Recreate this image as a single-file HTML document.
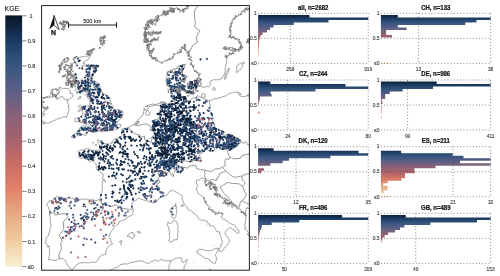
<!DOCTYPE html><html><head><meta charset="utf-8"><style>html,body{margin:0;padding:0;background:#fff;width:500px;height:276px;overflow:hidden}svg{display:block;will-change:transform}</style></head><body>
<svg width="500" height="276" viewBox="0 0 500 276" font-family="Liberation Sans, sans-serif">
<defs>
<linearGradient id="cb" x1="0" y1="15.6" x2="0" y2="266.6" gradientUnits="userSpaceOnUse"><stop offset="0.000" stop-color="#0b1627"/><stop offset="0.050" stop-color="#112744"/><stop offset="0.100" stop-color="#1a3a60"/><stop offset="0.150" stop-color="#284a73"/><stop offset="0.200" stop-color="#38567f"/><stop offset="0.300" stop-color="#5c5f86"/><stop offset="0.400" stop-color="#8a6178"/><stop offset="0.500" stop-color="#a8626e"/><stop offset="0.600" stop-color="#cc6e64"/><stop offset="0.700" stop-color="#e2856a"/><stop offset="0.800" stop-color="#e8ad86"/><stop offset="0.900" stop-color="#f0cd9e"/><stop offset="1.000" stop-color="#f9efd3"/></linearGradient>
<linearGradient id="h0" x1="0" y1="13.30" x2="0" y2="63.40" gradientUnits="userSpaceOnUse"><stop offset="0.000" stop-color="#0b1627"/><stop offset="0.050" stop-color="#112744"/><stop offset="0.100" stop-color="#1a3a60"/><stop offset="0.150" stop-color="#284a73"/><stop offset="0.200" stop-color="#38567f"/><stop offset="0.300" stop-color="#5c5f86"/><stop offset="0.400" stop-color="#8a6178"/><stop offset="0.500" stop-color="#a8626e"/><stop offset="0.600" stop-color="#cc6e64"/><stop offset="0.700" stop-color="#e2856a"/><stop offset="0.800" stop-color="#e8ad86"/><stop offset="0.900" stop-color="#f0cd9e"/><stop offset="1.000" stop-color="#f9efd3"/></linearGradient>
<linearGradient id="h1" x1="0" y1="79.97" x2="0" y2="130.07" gradientUnits="userSpaceOnUse"><stop offset="0.000" stop-color="#0b1627"/><stop offset="0.050" stop-color="#112744"/><stop offset="0.100" stop-color="#1a3a60"/><stop offset="0.150" stop-color="#284a73"/><stop offset="0.200" stop-color="#38567f"/><stop offset="0.300" stop-color="#5c5f86"/><stop offset="0.400" stop-color="#8a6178"/><stop offset="0.500" stop-color="#a8626e"/><stop offset="0.600" stop-color="#cc6e64"/><stop offset="0.700" stop-color="#e2856a"/><stop offset="0.800" stop-color="#e8ad86"/><stop offset="0.900" stop-color="#f0cd9e"/><stop offset="1.000" stop-color="#f9efd3"/></linearGradient>
<linearGradient id="h2" x1="0" y1="146.64" x2="0" y2="196.74" gradientUnits="userSpaceOnUse"><stop offset="0.000" stop-color="#0b1627"/><stop offset="0.050" stop-color="#112744"/><stop offset="0.100" stop-color="#1a3a60"/><stop offset="0.150" stop-color="#284a73"/><stop offset="0.200" stop-color="#38567f"/><stop offset="0.300" stop-color="#5c5f86"/><stop offset="0.400" stop-color="#8a6178"/><stop offset="0.500" stop-color="#a8626e"/><stop offset="0.600" stop-color="#cc6e64"/><stop offset="0.700" stop-color="#e2856a"/><stop offset="0.800" stop-color="#e8ad86"/><stop offset="0.900" stop-color="#f0cd9e"/><stop offset="1.000" stop-color="#f9efd3"/></linearGradient>
<linearGradient id="h3" x1="0" y1="213.31" x2="0" y2="263.41" gradientUnits="userSpaceOnUse"><stop offset="0.000" stop-color="#0b1627"/><stop offset="0.050" stop-color="#112744"/><stop offset="0.100" stop-color="#1a3a60"/><stop offset="0.150" stop-color="#284a73"/><stop offset="0.200" stop-color="#38567f"/><stop offset="0.300" stop-color="#5c5f86"/><stop offset="0.400" stop-color="#8a6178"/><stop offset="0.500" stop-color="#a8626e"/><stop offset="0.600" stop-color="#cc6e64"/><stop offset="0.700" stop-color="#e2856a"/><stop offset="0.800" stop-color="#e8ad86"/><stop offset="0.900" stop-color="#f0cd9e"/><stop offset="1.000" stop-color="#f9efd3"/></linearGradient>
</defs>
<text transform="translate(4.60 11.35) scale(1 1.130)" font-size="7.00" fill="#1a1a1a" stroke="#1a1a1a" stroke-width="0.12">KGE</text>
<rect x="5.3" y="15.4" width="16.8" height="251.4" fill="url(#cb)"/>
<line x1="22.1" y1="15.80" x2="26.6" y2="15.80" stroke="#333" stroke-width="0.6"/>
<text transform="translate(29.50 17.80) scale(1 1.080)" font-size="5.50" fill="#333" stroke="#333" stroke-width="0.12">1</text>
<line x1="22.1" y1="40.88" x2="26.6" y2="40.88" stroke="#333" stroke-width="0.6"/>
<text transform="translate(27.70 42.88) scale(1 1.080)" font-size="5.50" fill="#333" stroke="#333" stroke-width="0.12">0.9</text>
<line x1="22.1" y1="65.96" x2="26.6" y2="65.96" stroke="#333" stroke-width="0.6"/>
<text transform="translate(27.70 67.96) scale(1 1.080)" font-size="5.50" fill="#333" stroke="#333" stroke-width="0.12">0.8</text>
<line x1="22.1" y1="91.04" x2="26.6" y2="91.04" stroke="#333" stroke-width="0.6"/>
<text transform="translate(27.70 93.04) scale(1 1.080)" font-size="5.50" fill="#333" stroke="#333" stroke-width="0.12">0.7</text>
<line x1="22.1" y1="116.12" x2="26.6" y2="116.12" stroke="#333" stroke-width="0.6"/>
<text transform="translate(27.70 118.12) scale(1 1.080)" font-size="5.50" fill="#333" stroke="#333" stroke-width="0.12">0.6</text>
<line x1="22.1" y1="141.20" x2="26.6" y2="141.20" stroke="#333" stroke-width="0.6"/>
<text transform="translate(27.70 143.20) scale(1 1.080)" font-size="5.50" fill="#333" stroke="#333" stroke-width="0.12">0.5</text>
<line x1="22.1" y1="166.28" x2="26.6" y2="166.28" stroke="#333" stroke-width="0.6"/>
<text transform="translate(27.70 168.28) scale(1 1.080)" font-size="5.50" fill="#333" stroke="#333" stroke-width="0.12">0.4</text>
<line x1="22.1" y1="191.36" x2="26.6" y2="191.36" stroke="#333" stroke-width="0.6"/>
<text transform="translate(27.70 193.36) scale(1 1.080)" font-size="5.50" fill="#333" stroke="#333" stroke-width="0.12">0.3</text>
<line x1="22.1" y1="216.44" x2="26.6" y2="216.44" stroke="#333" stroke-width="0.6"/>
<text transform="translate(27.70 218.44) scale(1 1.080)" font-size="5.50" fill="#333" stroke="#333" stroke-width="0.12">0.2</text>
<line x1="22.1" y1="241.52" x2="26.6" y2="241.52" stroke="#333" stroke-width="0.6"/>
<text transform="translate(27.70 243.52) scale(1 1.080)" font-size="5.50" fill="#333" stroke="#333" stroke-width="0.12">0.1</text>
<line x1="22.1" y1="266.60" x2="26.6" y2="266.60" stroke="#333" stroke-width="0.6"/>
<text transform="translate(27.70 268.60) scale(1 1.080)" font-size="5.50" fill="#333" stroke="#333" stroke-width="0.12">≤0</text>
<text transform="translate(313.15 9.80) scale(1 1.180)" font-size="6.00" text-anchor="middle" font-weight="bold" fill="#111" stroke="#111" stroke-width="0.20">all, n=2682</text>
<path d="M258.10 14.90H309.50V17.40H368.20V19.90H328.50V22.40H293.70V24.90H273.60V27.40H270.10V29.90H267.00V32.40H262.50V34.90H260.60V37.40H259.60V39.90H259.20V42.40H259.00V44.90H258.90V47.40H258.80V49.90H258.70V52.40H258.60V54.90H258.50V57.40H258.50V59.90H258.50V62.40H258.10Z" fill="url(#h0)"/>
<rect x="258.10" y="62.90" width="0.50" height="1" fill="#f3dcae"/>
<line x1="258.10" y1="13.30" x2="368.20" y2="13.30" stroke="#444" stroke-width="0.7" stroke-dasharray="0.9 2.27"/>
<line x1="258.10" y1="38.35" x2="368.20" y2="38.35" stroke="#444" stroke-width="0.7" stroke-dasharray="0.9 2.27"/>
<line x1="258.10" y1="63.40" x2="368.20" y2="63.40" stroke="#444" stroke-width="0.7" stroke-dasharray="0.9 2.27"/>
<line x1="290.30" y1="13.30" x2="290.30" y2="63.40" stroke="#444" stroke-width="0.7" stroke-dasharray="0.9 2.27"/>
<line x1="368.20" y1="13.30" x2="368.20" y2="63.40" stroke="#444" stroke-width="0.7" stroke-dasharray="0.9 2.27"/>
<text transform="translate(256.70 15.10) scale(1 1.100)" font-size="4.90" text-anchor="end" fill="#333" stroke="#333" stroke-width="0.10">1</text>
<text transform="translate(256.70 40.15) scale(1 1.100)" font-size="4.90" text-anchor="end" fill="#333" stroke="#333" stroke-width="0.10">0.5</text>
<text transform="translate(256.70 65.20) scale(1 1.100)" font-size="4.90" text-anchor="end" fill="#333" stroke="#333" stroke-width="0.10">≤0</text>
<text transform="translate(290.30 70.90) scale(1 1.100)" font-size="4.80" text-anchor="middle" fill="#333" stroke="#333" stroke-width="0.10">268</text>
<text transform="translate(368.20 70.90) scale(1 1.100)" font-size="4.80" text-anchor="middle" fill="#333" stroke="#333" stroke-width="0.10">919</text>
<text transform="translate(435.75 9.80) scale(1 1.180)" font-size="6.00" text-anchor="middle" font-weight="bold" fill="#111" stroke="#111" stroke-width="0.20">CH, n=133</text>
<path d="M380.90 14.90H397.80V17.40H490.60V19.90H476.50V22.40H465.30V24.90H397.80V27.40H406.60V29.90H386.10V32.40H386.10V34.90H392.00V37.40H380.90Z" fill="url(#h0)"/>
<rect x="380.90" y="62.90" width="9.60" height="1" fill="#f3dcae"/>
<line x1="380.90" y1="13.30" x2="490.60" y2="13.30" stroke="#444" stroke-width="0.7" stroke-dasharray="0.9 2.27"/>
<line x1="380.90" y1="38.35" x2="490.60" y2="38.35" stroke="#444" stroke-width="0.7" stroke-dasharray="0.9 2.27"/>
<line x1="380.90" y1="63.40" x2="490.60" y2="63.40" stroke="#444" stroke-width="0.7" stroke-dasharray="0.9 2.27"/>
<line x1="418.40" y1="13.30" x2="418.40" y2="63.40" stroke="#444" stroke-width="0.7" stroke-dasharray="0.9 2.27"/>
<line x1="490.60" y1="13.30" x2="490.60" y2="63.40" stroke="#444" stroke-width="0.7" stroke-dasharray="0.9 2.27"/>
<text transform="translate(379.50 15.10) scale(1 1.100)" font-size="4.90" text-anchor="end" fill="#333" stroke="#333" stroke-width="0.10">1</text>
<text transform="translate(379.50 40.15) scale(1 1.100)" font-size="4.90" text-anchor="end" fill="#333" stroke="#333" stroke-width="0.10">0.5</text>
<text transform="translate(379.50 65.20) scale(1 1.100)" font-size="4.90" text-anchor="end" fill="#333" stroke="#333" stroke-width="0.10">≤0</text>
<text transform="translate(418.40 70.90) scale(1 1.100)" font-size="4.80" text-anchor="middle" fill="#333" stroke="#333" stroke-width="0.10">13</text>
<text transform="translate(490.60 70.90) scale(1 1.100)" font-size="4.80" text-anchor="middle" fill="#333" stroke="#333" stroke-width="0.10">38</text>
<text transform="translate(313.15 76.47) scale(1 1.180)" font-size="6.00" text-anchor="middle" font-weight="bold" fill="#111" stroke="#111" stroke-width="0.20">CZ, n=244</text>
<path d="M258.10 81.57H270.30V84.07H345.50V86.57H368.20V89.07H315.50V91.57H270.60V94.07H271.60V96.57H259.90V99.07H259.60V101.57H258.90V104.07H258.10ZM258.10 111.57H259.50V114.07H258.10Z" fill="url(#h1)"/>
<line x1="258.10" y1="79.97" x2="368.20" y2="79.97" stroke="#444" stroke-width="0.7" stroke-dasharray="0.9 2.27"/>
<line x1="258.10" y1="105.02" x2="368.20" y2="105.02" stroke="#444" stroke-width="0.7" stroke-dasharray="0.9 2.27"/>
<line x1="258.10" y1="130.07" x2="368.20" y2="130.07" stroke="#444" stroke-width="0.7" stroke-dasharray="0.9 2.27"/>
<line x1="287.80" y1="79.97" x2="287.80" y2="130.07" stroke="#444" stroke-width="0.7" stroke-dasharray="0.9 2.27"/>
<line x1="368.20" y1="79.97" x2="368.20" y2="130.07" stroke="#444" stroke-width="0.7" stroke-dasharray="0.9 2.27"/>
<text transform="translate(256.70 81.77) scale(1 1.100)" font-size="4.90" text-anchor="end" fill="#333" stroke="#333" stroke-width="0.10">1</text>
<text transform="translate(256.70 106.82) scale(1 1.100)" font-size="4.90" text-anchor="end" fill="#333" stroke="#333" stroke-width="0.10">0.5</text>
<text transform="translate(256.70 131.87) scale(1 1.100)" font-size="4.90" text-anchor="end" fill="#333" stroke="#333" stroke-width="0.10">≤0</text>
<text transform="translate(287.80 137.57) scale(1 1.100)" font-size="4.80" text-anchor="middle" fill="#333" stroke="#333" stroke-width="0.10">24</text>
<text transform="translate(368.20 137.57) scale(1 1.100)" font-size="4.80" text-anchor="middle" fill="#333" stroke="#333" stroke-width="0.10">80</text>
<text transform="translate(435.75 76.47) scale(1 1.180)" font-size="6.00" text-anchor="middle" font-weight="bold" fill="#111" stroke="#111" stroke-width="0.20">DE, n=986</text>
<path d="M380.90 81.57H436.70V84.07H490.60V86.57H433.00V89.07H402.60V91.57H389.70V94.07H385.20V96.57H385.20V99.07H381.80V101.57H382.40V104.07H380.90ZM380.90 106.57H381.60V109.07H381.50V111.57H381.50V114.07H380.90ZM380.90 116.57H381.50V119.07H380.90Z" fill="url(#h1)"/>
<line x1="380.90" y1="79.97" x2="490.60" y2="79.97" stroke="#444" stroke-width="0.7" stroke-dasharray="0.9 2.27"/>
<line x1="380.90" y1="105.02" x2="490.60" y2="105.02" stroke="#444" stroke-width="0.7" stroke-dasharray="0.9 2.27"/>
<line x1="380.90" y1="130.07" x2="490.60" y2="130.07" stroke="#444" stroke-width="0.7" stroke-dasharray="0.9 2.27"/>
<line x1="407.60" y1="79.97" x2="407.60" y2="130.07" stroke="#444" stroke-width="0.7" stroke-dasharray="0.9 2.27"/>
<line x1="490.60" y1="79.97" x2="490.60" y2="130.07" stroke="#444" stroke-width="0.7" stroke-dasharray="0.9 2.27"/>
<text transform="translate(379.50 81.77) scale(1 1.100)" font-size="4.90" text-anchor="end" fill="#333" stroke="#333" stroke-width="0.10">1</text>
<text transform="translate(379.50 106.82) scale(1 1.100)" font-size="4.90" text-anchor="end" fill="#333" stroke="#333" stroke-width="0.10">0.5</text>
<text transform="translate(379.50 131.87) scale(1 1.100)" font-size="4.90" text-anchor="end" fill="#333" stroke="#333" stroke-width="0.10">≤0</text>
<text transform="translate(407.60 137.57) scale(1 1.100)" font-size="4.80" text-anchor="middle" fill="#333" stroke="#333" stroke-width="0.10">99</text>
<text transform="translate(490.60 137.57) scale(1 1.100)" font-size="4.80" text-anchor="middle" fill="#333" stroke="#333" stroke-width="0.10">411</text>
<text transform="translate(313.15 143.14) scale(1 1.180)" font-size="6.00" text-anchor="middle" font-weight="bold" fill="#111" stroke="#111" stroke-width="0.20">DK, n=120</text>
<path d="M258.10 148.24H273.60V150.74H358.60V153.24H368.20V155.74H330.40V158.24H289.00V160.74H282.70V163.24H270.30V165.74H258.10ZM258.10 168.24H264.00V170.74H261.20V173.24H258.10Z" fill="url(#h2)"/>
<line x1="258.10" y1="146.64" x2="368.20" y2="146.64" stroke="#444" stroke-width="0.7" stroke-dasharray="0.9 2.27"/>
<line x1="258.10" y1="171.69" x2="368.20" y2="171.69" stroke="#444" stroke-width="0.7" stroke-dasharray="0.9 2.27"/>
<line x1="258.10" y1="196.74" x2="368.20" y2="196.74" stroke="#444" stroke-width="0.7" stroke-dasharray="0.9 2.27"/>
<line x1="296.00" y1="146.64" x2="296.00" y2="196.74" stroke="#444" stroke-width="0.7" stroke-dasharray="0.9 2.27"/>
<line x1="368.20" y1="146.64" x2="368.20" y2="196.74" stroke="#444" stroke-width="0.7" stroke-dasharray="0.9 2.27"/>
<text transform="translate(256.70 148.44) scale(1 1.100)" font-size="4.90" text-anchor="end" fill="#333" stroke="#333" stroke-width="0.10">1</text>
<text transform="translate(256.70 173.49) scale(1 1.100)" font-size="4.90" text-anchor="end" fill="#333" stroke="#333" stroke-width="0.10">0.5</text>
<text transform="translate(256.70 198.54) scale(1 1.100)" font-size="4.90" text-anchor="end" fill="#333" stroke="#333" stroke-width="0.10">≤0</text>
<text transform="translate(296.00 204.24) scale(1 1.100)" font-size="4.80" text-anchor="middle" fill="#333" stroke="#333" stroke-width="0.10">12</text>
<text transform="translate(368.20 204.24) scale(1 1.100)" font-size="4.80" text-anchor="middle" fill="#333" stroke="#333" stroke-width="0.10">35</text>
<text transform="translate(435.75 143.14) scale(1 1.180)" font-size="6.00" text-anchor="middle" font-weight="bold" fill="#111" stroke="#111" stroke-width="0.20">ES, n=211</text>
<path d="M380.90 150.74H401.20V153.24H452.70V155.74H463.50V158.24H490.60V160.74H460.00V163.24H490.60V165.74H435.50V168.24H414.40V170.74H414.80V173.24H405.00V175.74H405.00V178.24H401.40V180.74H387.60V183.24H383.20V185.74H387.60V188.24H387.60V190.74H384.00V193.24H380.90Z" fill="url(#h2)"/>
<rect x="380.90" y="196.24" width="9.60" height="1" fill="#f3dcae"/>
<line x1="380.90" y1="146.64" x2="490.60" y2="146.64" stroke="#444" stroke-width="0.7" stroke-dasharray="0.9 2.27"/>
<line x1="380.90" y1="171.69" x2="490.60" y2="171.69" stroke="#444" stroke-width="0.7" stroke-dasharray="0.9 2.27"/>
<line x1="380.90" y1="196.74" x2="490.60" y2="196.74" stroke="#444" stroke-width="0.7" stroke-dasharray="0.9 2.27"/>
<line x1="453.00" y1="146.64" x2="453.00" y2="196.74" stroke="#444" stroke-width="0.7" stroke-dasharray="0.9 2.27"/>
<line x1="490.60" y1="146.64" x2="490.60" y2="196.74" stroke="#444" stroke-width="0.7" stroke-dasharray="0.9 2.27"/>
<text transform="translate(379.50 148.44) scale(1 1.100)" font-size="4.90" text-anchor="end" fill="#333" stroke="#333" stroke-width="0.10">1</text>
<text transform="translate(379.50 173.49) scale(1 1.100)" font-size="4.90" text-anchor="end" fill="#333" stroke="#333" stroke-width="0.10">0.5</text>
<text transform="translate(379.50 198.54) scale(1 1.100)" font-size="4.90" text-anchor="end" fill="#333" stroke="#333" stroke-width="0.10">≤0</text>
<text transform="translate(453.00 204.24) scale(1 1.100)" font-size="4.80" text-anchor="middle" fill="#333" stroke="#333" stroke-width="0.10">21</text>
<text transform="translate(490.60 204.24) scale(1 1.100)" font-size="4.80" text-anchor="middle" fill="#333" stroke="#333" stroke-width="0.10">32</text>
<text transform="translate(313.15 209.81) scale(1 1.180)" font-size="6.00" text-anchor="middle" font-weight="bold" fill="#111" stroke="#111" stroke-width="0.20">FR, n=496</text>
<path d="M258.10 214.91H342.10V217.41H368.20V219.91H299.40V222.41H271.70V224.91H261.90V227.41H261.20V229.91H260.00V232.41H259.40V234.91H258.80V237.41H258.60V239.91H258.60V242.41H258.10ZM258.10 244.91H258.60V247.41H258.10ZM258.10 249.91H258.60V252.41H258.10ZM258.10 254.91H258.60V257.41H258.60V259.91H258.10Z" fill="url(#h3)"/>
<rect x="258.10" y="262.91" width="0.50" height="1" fill="#f3dcae"/>
<line x1="258.10" y1="213.31" x2="368.20" y2="213.31" stroke="#444" stroke-width="0.7" stroke-dasharray="0.9 2.27"/>
<line x1="258.10" y1="238.36" x2="368.20" y2="238.36" stroke="#444" stroke-width="0.7" stroke-dasharray="0.9 2.27"/>
<line x1="258.10" y1="263.41" x2="368.20" y2="263.41" stroke="#444" stroke-width="0.7" stroke-dasharray="0.9 2.27"/>
<line x1="284.30" y1="213.31" x2="284.30" y2="263.41" stroke="#444" stroke-width="0.7" stroke-dasharray="0.9 2.27"/>
<line x1="368.20" y1="213.31" x2="368.20" y2="263.41" stroke="#444" stroke-width="0.7" stroke-dasharray="0.9 2.27"/>
<text transform="translate(256.70 215.11) scale(1 1.100)" font-size="4.90" text-anchor="end" fill="#333" stroke="#333" stroke-width="0.10">1</text>
<text transform="translate(256.70 240.16) scale(1 1.100)" font-size="4.90" text-anchor="end" fill="#333" stroke="#333" stroke-width="0.10">0.5</text>
<text transform="translate(256.70 265.21) scale(1 1.100)" font-size="4.90" text-anchor="end" fill="#333" stroke="#333" stroke-width="0.10">≤0</text>
<text transform="translate(284.30 270.91) scale(1 1.100)" font-size="4.80" text-anchor="middle" fill="#333" stroke="#333" stroke-width="0.10">50</text>
<text transform="translate(368.20 270.91) scale(1 1.100)" font-size="4.80" text-anchor="middle" fill="#333" stroke="#333" stroke-width="0.10">209</text>
<text transform="translate(435.75 209.81) scale(1 1.180)" font-size="6.00" text-anchor="middle" font-weight="bold" fill="#111" stroke="#111" stroke-width="0.20">GB, n=489</text>
<path d="M380.90 214.91H405.80V217.41H490.60V219.91H477.00V222.41H430.40V224.91H404.40V227.41H400.00V229.91H395.00V232.41H388.00V234.91H384.60V237.41H382.30V239.91H381.60V242.41H380.90Z" fill="url(#h3)"/>
<line x1="380.90" y1="213.31" x2="490.60" y2="213.31" stroke="#444" stroke-width="0.7" stroke-dasharray="0.9 2.27"/>
<line x1="380.90" y1="238.36" x2="490.60" y2="238.36" stroke="#444" stroke-width="0.7" stroke-dasharray="0.9 2.27"/>
<line x1="380.90" y1="263.41" x2="490.60" y2="263.41" stroke="#444" stroke-width="0.7" stroke-dasharray="0.9 2.27"/>
<line x1="415.70" y1="213.31" x2="415.70" y2="263.41" stroke="#444" stroke-width="0.7" stroke-dasharray="0.9 2.27"/>
<line x1="490.60" y1="213.31" x2="490.60" y2="263.41" stroke="#444" stroke-width="0.7" stroke-dasharray="0.9 2.27"/>
<text transform="translate(379.50 215.11) scale(1 1.100)" font-size="4.90" text-anchor="end" fill="#333" stroke="#333" stroke-width="0.10">1</text>
<text transform="translate(379.50 240.16) scale(1 1.100)" font-size="4.90" text-anchor="end" fill="#333" stroke="#333" stroke-width="0.10">0.5</text>
<text transform="translate(379.50 265.21) scale(1 1.100)" font-size="4.90" text-anchor="end" fill="#333" stroke="#333" stroke-width="0.10">≤0</text>
<text transform="translate(415.70 270.91) scale(1 1.100)" font-size="4.80" text-anchor="middle" fill="#333" stroke="#333" stroke-width="0.10">49</text>
<text transform="translate(490.60 270.91) scale(1 1.100)" font-size="4.80" text-anchor="middle" fill="#333" stroke="#333" stroke-width="0.10">153</text>
<defs><clipPath id="mc"><rect x="41.6" y="5.6" width="207.8" height="264.6"/></clipPath></defs><g clip-path="url(#mc)" fill="none" stroke="#767676" stroke-width="0.75" stroke-linejoin="round"><path d="M71.3 137.0L71.8 137.1 72.2 137.1 72.7 137.2 73.1 137.3 73.6 137.5 74.0 137.5 74.4 137.8 74.8 138.0 75.1 137.5 75.4 137.1 75.6 136.6 75.9 136.2 76.3 135.9 76.7 135.8 77.2 135.7 77.6 135.5 78.2 135.3 78.7 135.2 79.3 135.3 79.9 135.1 80.5 135.1 81.1 135.0 81.6 134.8 82.1 134.5 82.6 134.6 83.1 134.6 83.5 134.8 83.9 135.1 84.3 135.4 84.7 135.5 85.2 135.6 85.7 135.5 85.8 135.0 86.0 134.5 86.0 134.0 86.1 133.5 86.5 133.1 86.9 132.8 87.0 132.2 87.3 131.8 87.7 131.6 88.2 131.5 88.4 131.1 88.8 130.9 89.3 131.0 89.7 131.0 90.2 131.0 90.6 130.8 90.9 131.1 91.3 131.4 91.7 131.7 92.1 131.9 92.5 132.0 93.0 132.0 93.4 132.3 93.8 132.4 94.2 132.3 94.5 132.3 94.9 132.2 95.2 132.0 95.5 132.0 95.9 131.9 96.3 131.8 96.6 132.0 96.9 131.4 97.4 131.0 97.9 130.9 98.5 130.9 99.0 130.8 99.6 130.9 100.0 130.6 100.6 130.5 101.1 130.2 101.5 129.9 102.0 130.1 102.5 130.1 103.0 130.1 103.5 130.3 103.9 130.5 104.4 130.5 104.9 130.6 105.4 130.7 106.0 130.7 106.6 131.0 107.2 130.9 107.7 130.7 108.3 130.5 108.8 130.3 109.4 130.2 109.9 129.9 110.6 130.0 111.2 130.2 111.9 130.4 112.5 130.6 113.2 130.5 113.7 130.2 114.3 129.9 114.8 129.6 115.2 129.6 115.5 129.4 115.9 129.3 116.2 129.1 116.5 129.0 116.9 129.0 117.2 129.1 117.6 129.0 117.9 128.6 118.4 128.3 118.7 127.9 119.0 127.4 119.4 127.4 119.8 127.3 120.0 127.0 120.4 126.9 120.5 126.4 120.5 126.0 120.7 125.5 120.7 125.1 120.9 124.6 120.6 124.5 120.2 124.5 119.8 124.4 119.4 124.5 119.1 124.6 118.7 124.6 118.3 124.6 118.0 124.8 117.4 124.6 116.8 124.4 116.1 124.5 115.5 124.3 114.9 124.0 114.3 123.8 114.7 123.7 115.1 123.6 115.5 123.3 115.9 123.2 116.2 123.0 116.7 122.9 117.0 122.7 117.5 122.5 117.4 121.9 117.5 121.3 117.8 121.1 118.1 120.9 118.5 120.8 118.8 120.7 119.1 120.4 119.4 120.1 119.6 119.7 119.7 119.3 120.2 118.9 120.7 118.7 121.2 118.2 121.7 118.0 121.9 117.4 122.3 116.9 122.3 116.2 122.5 115.6 122.6 115.3 122.9 115.0 123.0 114.6 123.0 114.2 123.1 113.8 123.0 113.4 122.9 113.0 122.9 112.6 122.6 112.1 122.3 111.6 121.9 111.3 121.5 110.9 121.0 110.8 120.6 110.5 120.2 110.3 119.9 110.0 119.4 109.8 118.9 109.7 118.3 109.7 117.8 109.7 117.4 109.8 116.9 109.8 116.5 109.9 116.0 109.8 115.6 110.0 115.1 109.9 114.7 110.0 114.3 109.8 114.0 110.1 113.7 110.4 113.7 110.8 113.5 111.2 113.0 111.1 112.5 110.9 112.1 110.9 111.6 111.0 111.2 110.5 111.0 109.8 111.5 109.3 112.0 108.9 112.5 108.5 113.2 108.4 113.1 107.9 113.2 107.4 113.1 107.1 113.1 106.7 112.9 106.4 112.7 106.1 112.5 105.8 112.3 105.5 112.1 105.2 111.9 104.9 111.5 104.7 111.1 104.4 110.8 104.1 110.3 104.0 109.9 103.7 109.5 103.4 109.1 103.1 108.8 102.7 109.2 102.8 109.7 103.0 110.1 103.1 110.5 103.2 111.1 103.5 111.6 103.9 111.4 103.3 111.0 102.9 110.7 102.3 110.5 101.8 110.4 101.5 110.4 101.1 110.2 100.8 110.1 100.4 110.0 100.1 109.8 99.8 109.7 99.5 109.6 99.1 109.9 99.0 110.3 98.8 109.8 98.3 109.4 97.8 108.7 97.5 108.1 97.3 107.8 96.7 107.5 96.2 107.0 95.8 106.6 95.3 106.1 94.9 105.5 94.6 104.8 94.5 104.2 94.3 103.6 94.0 102.9 94.0 102.7 93.4 102.6 92.8 102.3 92.2 101.9 91.7 101.4 91.3 101.2 90.8 101.0 90.3 100.7 89.8 100.5 89.2 100.4 88.7 100.4 88.2 100.3 87.7 100.0 87.3 100.0 86.9 100.0 86.6 99.9 86.2 99.8 85.9 99.6 85.6 99.3 85.3 99.2 85.0 99.0 84.7 98.6 84.3 98.2 83.8 97.5 83.6 97.0 83.2 96.9 82.8 96.6 82.5 96.4 82.2 96.1 81.9 95.8 81.7 95.5 81.5 95.2 81.4 94.8 81.3 94.5 81.2 94.1 81.1 93.8 81.1 93.4 81.0 93.1 80.9 92.7 80.9 92.4 80.6 92.0 80.5 91.6 80.4 91.2 80.5 90.7 80.5 90.3 80.6 90.0 80.8 89.6 81.1 89.1 81.2 88.7 81.2 88.3 81.1 87.9 81.0 87.4 80.9 87.0 80.8 86.5 80.9 86.1 80.9 85.6 80.8 85.2 80.6 85.7 80.3 86.1 80.2 86.6 80.2 87.1 80.1 87.6 80.0 88.1 80.2 88.6 80.1 89.0 80.0 89.5 79.6 90.2 79.4 90.8 79.2 91.5 79.2 91.9 79.0 92.3 79.0 92.7 78.7 93.0 78.4 92.6 78.2 92.3 77.9 91.9 77.9 91.5 77.7 91.1 77.3 90.9 76.8 90.5 76.8 90.2 76.7 89.8 76.8 89.4 76.8 89.1 77.1 88.8 77.2 88.4 77.2 88.0 77.3 88.6 77.2 89.1 76.9 89.7 76.8 90.3 76.6 90.6 76.4 91.0 76.4 91.2 76.1 91.6 76.0 91.9 75.9 92.3 76.0 92.6 75.8 93.0 75.8 93.2 75.4 93.3 75.0 93.6 74.7 93.8 74.3 94.0 74.0 94.2 73.7 94.5 73.4 94.8 73.3 95.0 72.9 95.3 72.7 95.5 72.3 95.6 72.0 95.9 71.6 96.2 71.2 96.4 70.7 96.5 70.2 96.5 69.7 96.7 69.2 97.1 68.8 97.4 68.3 97.7 68.0 98.0 67.6 98.2 67.2 98.5 66.9 98.3 66.4 98.3 65.9 98.0 65.7 97.7 65.4 97.4 65.2 97.0 65.1 96.6 65.1 96.1 65.1 95.6 65.2 95.2 65.3 94.8 65.5 94.3 65.4 93.9 65.4 93.4 65.3 93.0 65.3 92.6 65.2 92.2 65.2 91.9 65.0 91.5 65.0 91.1 65.2 90.7 65.2 90.3 65.2 89.8 65.0 89.3 64.8 88.7 64.7 88.1 64.8 87.8 64.9 87.4 64.9 87.1 65.0 86.7 65.0 86.4 65.1 86.0 65.1 85.6 65.2 85.3 65.2 85.0 65.5 84.7 65.7 84.4 65.8 84.1 66.0 83.5 66.4 82.9 66.7 82.3 67.0 81.6 67.1 81.9 66.5 82.1 66.0 82.6 65.7 83.0 65.2 83.4 64.8 83.9 64.3 84.4 63.9 84.8 63.4 84.4 63.5 84.0 63.6 83.7 63.5 83.3 63.4 83.2 62.9 83.3 62.5 83.9 62.2 84.4 61.7 85.0 61.4 85.6 61.0 85.9 60.8 86.3 60.7 86.5 60.4 86.9 60.3 87.2 60.0 87.5 59.8 87.9 59.6 88.1 59.4 88.5 59.0 88.7 58.6 89.2 58.4 89.5 58.0 89.4 57.5 89.5 57.0 89.6 56.6 89.9 56.1 89.3 55.9 88.7 55.8 88.1 55.7 87.5 55.9 87.0 56.2 86.5 56.5 86.1 56.5 85.7 56.4 85.3 56.3 84.8 56.3 84.4 56.4 84.0 56.6 83.6 56.6 83.2 56.8 82.8 56.8 82.5 56.7 82.1 56.8 81.7 56.8 81.4 57.0 81.0 57.1 80.6 57.1 80.3 57.3 79.8 57.4 79.4 57.4 79.0 57.5 78.5 57.5 78.2 57.1 78.0 56.8 77.5 56.7 77.1 56.6 76.4 56.8 76.2 56.5 75.3 57.6 75.9 56.1 77.0 57.0 76.2 57.1 75.9 57.1 75.8 57.4 75.9 57.8 74.6 57.3 75.1 58.4 75.0 58.6 74.2 57.0 74.1 58.7 74.3 59.1 73.0 59.1 73.8 59.8 72.9 58.8 73.3 59.9 74.9 60.0 74.2 60.7 74.5 60.8 74.3 61.0 75.4 62.1 74.0 61.8 74.2 61.8 74.8 62.5 74.0 62.5 74.9 61.4 74.9 62.3 75.4 62.5 74.8 62.9 74.8 62.9 75.1 63.1 74.7 63.0 74.7 62.5 74.3 62.4 73.9 62.7 73.4 62.9 72.8 63.3 72.3 63.7 71.7 63.3 71.2 63.7 70.6 63.5 70.9 63.7 71.0 64.1 71.3 64.4 73.0 64.8 71.4 65.2 71.6 65.3 71.6 66.1 71.1 66.0 71.0 66.0 70.4 64.6 70.1 66.0 70.7 66.4 71.1 67.4 70.2 67.1 70.6 67.1 69.9 67.4 70.1 67.8 70.7 67.7 71.1 68.1 70.7 69.2 71.6 68.8 71.2 69.0 71.7 69.3 71.9 69.7 71.2 69.5 71.2 70.0 71.3 70.1 70.9 70.0 70.6 70.2 69.5 71.6 71.0 70.9 69.7 70.9 70.6 71.3 70.4 71.2 71.1 71.6 70.6 72.0 71.5 72.5 70.3 72.5 70.3 72.6 69.8 73.0 69.5 72.7 69.5 72.7 69.1 72.9 67.3 72.9 68.8 73.6 68.6 73.5 69.1 74.2 68.5 74.4 67.4 75.2 67.7 73.7 67.7 74.2 68.3 74.0 68.8 74.4 70.2 74.2 69.2 73.5 69.4 73.6 69.6 74.3 70.0 74.3 71.3 73.0 70.4 74.5 70.2 74.7 70.7 74.9 70.9 75.8 71.4 75.6 71.4 75.9 71.7 76.3 72.1 76.6 73.0 76.5 72.9 77.1 73.0 77.2 73.0 78.8 73.7 77.5 73.5 77.8 73.8 77.7 74.2 77.8 73.9 78.1 73.9 78.5 74.2 78.7 74.2 79.2 74.1 80.0 73.6 79.7 73.5 79.6 73.3 80.0 72.9 80.2 71.9 80.0 72.4 80.7 72.5 80.9 72.1 81.1 72.8 81.8 72.0 81.9 72.0 82.0 71.5 82.2 71.3 82.6 71.4 83.1 71.1 83.5 72.1 84.3 70.9 84.3 71.0 84.5 70.7 85.9 71.7 85.1 70.4 85.8 71.7 85.6 71.0 86.2 71.9 86.0 73.0 86.8 71.4 86.5 71.9 86.5 71.5 86.8 71.0 87.3 70.7 87.1 70.9 87.4 70.7 87.7 71.2 87.7 72.3 87.4 71.7 86.9 72.6 87.2 72.0 86.5 72.1 86.5 71.3 86.0 71.7 85.6 72.1 85.5 72.5 85.2 71.6 84.1 72.8 84.3 72.7 84.2 72.8 83.7 72.5 82.7 73.2 82.8 73.5 82.9 73.8 82.5 74.3 82.5 74.2 81.3 75.0 82.0 73.3 81.1 75.0 81.4 76.2 82.2 75.4 81.1 75.4 81.0 75.6 80.6 75.2 79.9 75.5 79.7 76.7 80.9 75.5 81.1 76.1 81.0 77.5 82.2 75.8 81.9 76.0 82.4 76.5 82.3 76.7 81.4 77.0 81.6 77.4 81.4 77.5 81.9 77.5 81.6 77.9 81.5 77.7 81.9 77.4 82.2 77.3 82.6 77.1 83.0 77.4 83.4 77.7 83.8 78.0 84.1 78.3 84.4 78.4 84.8 78.4 85.3 78.6 85.7 78.8 86.1 78.4 86.7 78.2 87.3 77.8 87.8 77.2 88.2 76.9 88.5 76.7 88.8 76.5 89.2 76.2 89.5 75.9 89.7 75.6 89.8 75.3 90.1 75.1 90.4 75.6 90.6 75.9 91.0 76.3 91.4 76.6 91.9 76.7 92.4 76.9 92.9 77.1 93.4 77.2 94.0 77.2 93.4 77.4 92.9 77.4 92.4 77.4 91.9 77.8 92.0 78.2 92.3 78.6 92.4 79.0 92.6 79.4 92.8 79.8 92.9 80.1 93.2 80.4 93.5 80.2 93.1 80.2 92.6 80.1 92.2 80.0 91.7 80.4 91.7 80.8 91.8 81.1 91.8 81.5 91.9 81.8 92.0 82.2 92.0 82.5 92.2 82.8 92.4 83.2 92.3 83.6 92.1 84.0 92.0 84.3 91.8 84.8 91.8 85.2 91.8 85.6 91.7 85.9 91.4 86.4 91.4 86.8 91.3 87.2 91.2 87.7 91.3 88.1 91.2 88.5 91.1 88.9 90.9 89.4 90.9 89.0 91.3 88.4 91.4 87.9 91.6 87.4 91.7 87.2 92.1 87.1 92.5 86.9 92.9 86.6 93.2 86.2 93.6 86.0 94.1 85.7 94.6 85.7 95.1 86.2 95.3 86.6 95.7 86.8 96.2 87.2 96.6 87.5 97.2 87.7 97.8 88.0 98.4 88.4 99.0 89.0 99.1 89.7 99.1 90.3 99.0 91.0 99.0 90.9 99.3 91.0 99.7 90.8 100.0 90.8 100.4 90.3 100.7 89.7 100.8 89.6 101.2 89.6 101.6 89.7 101.9 89.7 102.3 90.1 102.4 90.4 102.5 90.2 102.9 90.0 103.2 89.8 103.7 89.5 104.1 89.8 104.7 90.1 105.3 89.7 105.4 89.4 105.6 89.1 105.6 88.7 105.7 88.9 106.1 89.1 106.3 89.2 106.7 89.4 107.0 89.0 106.8 88.6 106.6 88.2 106.3 87.9 106.0 87.4 106.0 86.9 106.0 86.5 105.8 86.0 105.8 85.5 105.9 85.0 105.8 84.5 106.0 84.1 106.1 83.6 106.4 83.2 106.7 82.7 106.9 82.3 107.2 82.0 107.5 81.6 107.7 81.3 108.0 81.1 108.4 80.8 108.8 80.5 109.2 80.1 109.6 79.7 109.8 79.2 110.1 78.8 110.6 78.3 110.9 77.8 111.2 78.3 111.1 78.8 111.2 79.3 111.2 79.7 111.0 80.0 110.8 80.4 110.8 80.7 110.7 81.1 110.8 81.4 110.6 81.7 110.4 82.0 110.2 82.3 110.1 82.4 110.6 82.6 111.0 82.7 111.5 82.8 112.0 82.9 112.4 82.9 112.8 82.8 113.2 82.8 113.6 82.8 114.3 82.6 114.9 82.1 115.4 81.7 115.8 81.2 116.3 80.7 116.8 80.3 117.2 79.7 117.5 79.2 117.8 78.6 117.8 78.2 117.9 77.8 117.8 77.5 117.9 77.1 117.9 76.8 118.0 76.4 118.1 76.1 118.3 75.8 118.5 75.3 118.7 74.9 119.0 74.5 119.3 74.2 119.7 74.5 120.2 74.7 120.7 74.9 121.2 75.0 121.8 75.6 121.6 76.2 121.5 76.8 121.6 77.2 121.8 77.8 121.9 78.3 121.9 78.8 121.7 79.4 121.7 79.9 121.6 80.4 121.4 80.5 121.8 80.5 122.2 80.7 122.6 80.9 122.9 81.5 122.8 82.1 122.8 82.7 122.7 83.3 122.8 83.6 122.3 84.1 122.6 84.6 122.9 84.9 123.3 85.2 123.7 85.6 123.7 86.0 123.9 86.4 123.9 86.8 123.9 87.1 124.1 87.5 124.2 87.9 124.3 88.2 124.5 88.6 124.3 88.9 123.9 89.3 123.7 89.6 123.4 90.0 123.1 90.4 123.0 90.9 122.7 91.5 122.6 92.0 122.4 92.5 122.3 92.7 122.1 93.0 121.9 93.3 121.7 93.6 121.4 93.2 121.9 92.9 122.5 92.6 123.0 92.2 123.5 91.6 123.8 91.1 124.0 90.6 124.4 90.2 124.9 90.2 125.4 90.1 125.9 89.7 126.1 89.3 126.3 88.9 126.4 88.5 126.5 88.1 126.4 87.7 126.4 87.3 126.3 86.8 126.2 86.2 126.0 85.6 125.9 85.0 125.8 84.3 126.0 83.7 125.9 83.0 126.0 82.4 126.2 81.8 126.4 81.6 127.1 81.8 127.7 81.2 127.9 80.7 127.9 80.1 128.0 79.6 128.0 79.5 128.5 79.3 128.9 79.3 129.3 79.4 129.8 78.9 130.1 78.5 130.4 78.3 130.9 78.0 131.3 77.7 131.7 77.3 132.0 76.9 132.1 76.6 132.4 76.4 132.8 76.1 133.0 75.8 133.3 75.7 133.7 75.2 133.7 74.8 133.9 74.5 134.2 74.1 134.4 73.8 134.7 73.4 134.9 73.2 135.3 72.9 135.6 72.5 135.8 72.1 136.0 71.7 136.2 71.4 136.4 71.3 137.0M81.8 106.5L81.5 106.3 81.2 106.0 81.0 105.7 80.7 105.4 80.3 105.4 79.9 105.3 79.4 105.4 79.0 105.6 78.6 106.0 78.3 106.5 78.7 107.1 79.2 107.5 79.8 107.7 80.4 108.1 80.7 107.9 81.0 107.5 81.4 107.4 81.8 107.3 81.8 106.9 81.8 106.5M99.8 131.0L100.3 130.9 100.9 130.8 101.4 130.6 101.9 130.4 102.3 130.5 102.7 130.8 103.1 130.9 103.5 131.2 103.0 131.4 102.6 131.5 102.2 131.9 101.9 132.2 101.4 131.8 100.8 131.6 100.3 131.4 99.8 131.0M77.8 99.3L78.1 98.8 78.5 98.3 78.9 97.7 79.0 97.1 79.4 96.8 79.9 96.7 80.4 96.4 80.7 96.0 80.9 96.5 80.9 97.0 80.9 97.5 80.9 98.0 80.4 98.4 79.7 98.5 79.2 99.0 78.7 99.4 78.2 99.3 77.8 99.3M67.5 57.3L67.8 57.6 67.9 58.7 68.6 58.1 67.0 59.0 68.5 58.8 68.6 59.2 68.2 59.3 69.3 59.4 68.4 59.7 68.0 59.7 68.0 60.1 68.0 60.5 67.1 60.8 67.7 61.3 67.6 61.9 67.0 61.3 66.9 60.9 66.0 60.9 66.2 61.5 66.2 62.1 65.8 62.0 66.0 63.0 65.3 62.4 64.4 61.6 64.6 62.6 64.5 62.8 64.1 62.9 63.7 63.1 63.5 63.4 63.2 63.6 62.9 63.8 62.5 64.0 60.9 63.8 62.2 64.7 61.6 64.2 61.7 64.7 61.1 64.2 61.5 63.7 61.7 63.7 61.8 63.1 61.4 63.0 61.0 62.4 62.0 62.7 61.7 62.7 62.5 63.0 62.6 62.4 62.6 62.1 62.7 61.6 62.7 60.6 63.3 60.9 64.8 61.0 63.4 60.3 63.4 59.9 63.1 59.8 63.4 59.7 63.8 59.4 64.6 60.4 64.5 59.1 64.4 59.0 64.5 60.0 65.1 59.4 65.0 59.4 64.2 58.3 65.3 58.3 65.6 58.2 66.5 58.5 66.5 57.9 66.4 57.5 66.9 57.2 67.5 58.1 67.9 57.4M58.6 65.5L59.8 66.2 59.2 65.0 59.3 65.3 60.1 64.7 60.2 65.4 60.0 65.8 60.2 64.4 60.7 65.6 60.7 65.7 61.4 65.9 61.3 65.3 61.3 65.5 61.4 65.8 60.7 66.3 61.3 66.6 60.3 65.2 60.7 66.5 60.9 66.7 60.6 67.0 59.0 67.5 60.6 67.8 60.3 68.9 61.3 67.9 59.2 68.1 60.9 68.5 61.1 68.4 62.1 68.6 61.3 69.1 61.2 69.1 60.0 69.2 60.9 69.8 60.9 69.8 60.6 69.9 60.7 70.3 60.6 70.7 60.1 70.9 59.6 70.7 59.8 70.3 59.8 69.5 59.4 69.5 59.2 69.7 59.1 69.3 60.0 69.7 59.9 68.9 59.6 68.6 59.4 68.3 59.5 67.6 59.2 67.4 59.4 67.4 60.2 67.6 60.1 67.0 59.5 66.9 59.5 66.5 58.8 66.5 58.8 66.0 57.9 65.5 59.2 65.4 58.9 65.7 58.6 65.5M59.3 71.1L59.5 71.6 60.0 71.6 59.4 71.8 59.3 73.3 58.6 72.3 59.3 70.8 58.3 71.3 58.9 71.3 59.3 71.1M67.2 65.0L67.9 65.0 67.9 65.3 67.8 65.4 69.4 65.5 68.1 66.1 68.4 65.8 68.8 65.9 69.0 66.2 69.0 66.6 69.2 67.3 69.6 67.2 70.3 66.7 70.3 67.3 70.1 67.7 70.7 67.7 70.9 66.4 71.5 67.2 72.0 67.5 72.0 67.9 71.9 68.2 72.0 69.0 71.7 69.1 71.7 69.3 71.4 69.6 71.0 69.9 70.6 70.1 70.5 70.7 70.0 70.6 70.1 72.2 69.2 71.1 69.2 72.3 68.7 71.1 68.2 70.5 68.2 71.2 68.1 71.0 67.4 70.6 67.5 70.3 68.1 69.0 67.0 70.0 67.2 69.7 67.1 69.1 66.5 69.0 65.9 68.9 65.5 69.6 65.2 69.5 64.5 69.3 65.0 68.6 64.0 70.3 64.5 68.6 64.5 68.8 64.2 68.7 64.3 68.1 64.6 68.1 64.3 68.0 64.2 66.8 63.6 67.6 63.8 67.4 64.1 67.2 64.0 65.6 64.8 66.9 64.7 67.3 65.1 67.5 66.0 67.2 65.9 66.8 65.8 66.4 65.7 64.7 66.7 66.0 66.5 65.7 65.3 64.3 66.9 64.9 67.8 65.9 67.6 64.8M67.2 75.9L67.5 75.6 68.0 75.6 68.4 75.7 68.6 76.1 69.1 75.7 68.4 74.3 69.6 74.7 70.0 75.2 71.3 75.0 70.8 75.8 70.9 75.9 71.4 76.3 71.5 76.9 71.4 78.1 70.7 77.5 69.9 77.6 70.8 78.1 70.7 78.2 70.3 78.7 69.3 78.6 69.3 79.1 69.1 78.7 68.6 78.3 68.0 78.4 66.9 78.4 67.3 77.7 67.0 78.0 66.5 78.2 67.3 77.5 66.5 77.4 66.7 77.1 67.1 77.3 66.9 77.1 66.5 76.9 66.7 76.6 67.1 76.6 67.4 76.2 68.5 75.1 67.1 75.5M65.8 82.0L66.3 82.1 66.7 82.0 67.1 82.2 68.4 81.4 67.7 82.7 68.7 82.8 68.0 81.9 68.1 81.9 68.8 81.1 68.9 82.0 69.1 83.3 69.4 82.0 69.0 82.4 68.9 82.8 68.7 83.2 67.7 82.4 68.0 83.5 69.3 83.3 68.9 83.9 68.5 84.4 68.9 84.4 68.0 84.4 68.5 84.8 67.0 85.0 68.6 85.2 68.1 84.8 67.6 84.9 67.1 84.7 66.2 85.9 66.1 84.6 66.8 84.3 65.3 83.6 66.8 83.5 66.9 83.5 66.6 83.2 65.9 83.7 65.8 83.1 65.2 83.1 65.7 82.5 66.1 82.4 65.8 82.0M69.3 79.6L69.6 79.9 69.6 80.3 70.3 80.3 70.2 80.8 70.9 81.8 70.7 80.3 70.9 80.6 71.3 81.4 71.7 81.3 71.3 81.7 69.5 81.3 70.6 82.5 70.5 81.2 70.1 82.0 70.2 82.0 70.1 82.6 69.7 82.6 68.7 81.3 69.3 82.7 69.4 81.3 68.9 82.3 69.7 81.4 68.9 81.7 69.0 81.6 68.6 81.5 69.3 80.3 68.2 80.6 68.8 80.2 68.4 80.0 68.3 78.5 69.3 79.9 69.3 79.6M73.8 83.7L74.4 83.7 74.9 83.9 76.1 83.3 75.9 84.3 75.5 84.8 75.4 85.2 75.0 85.4 75.0 85.8 76.2 87.0 74.7 86.6 74.4 86.1 73.9 85.4 74.3 85.2 73.9 85.6 73.1 85.3 73.1 85.9 73.0 84.5 74.0 84.8 74.0 84.0 73.1 84.4 73.4 84.1 73.8 83.7M87.7 51.8L87.8 50.7 88.4 51.2 88.9 51.6 89.1 51.3 89.0 50.8 89.6 50.6 90.2 50.4 90.8 50.8 90.9 51.5 91.4 52.3 91.8 52.0 90.5 53.0 91.8 52.8 92.2 52.6 92.2 53.2 92.2 53.7 91.7 53.5 91.1 53.4 90.6 53.2 90.1 53.2 89.7 53.2 89.3 53.1 89.0 52.8 90.0 51.7 88.7 52.1 88.0 51.4 88.1 52.7 88.2 52.7 87.4 52.6 87.5 53.1 87.7 53.2 87.7 52.8 87.4 52.5 86.7 50.9 88.0 51.9 87.7 51.8M87.3 53.4L88.0 53.4 88.6 53.7 89.2 54.0 89.4 54.6 88.9 53.7 88.6 54.6 88.6 52.9 88.3 54.5 88.5 55.3 88.1 55.2 87.9 53.8 87.6 54.8 87.6 54.6 87.9 53.5 87.1 54.0 85.7 54.0 87.1 53.5 87.3 53.4M90.8 49.9L91.2 50.1 91.7 49.9 92.1 49.7 92.5 49.7 93.1 48.5 93.4 49.6 93.4 49.8 93.7 48.9 94.2 49.4 93.9 47.9 94.6 49.3 94.0 49.9 92.7 49.2 93.2 50.3 93.2 50.5 92.9 50.9 92.2 50.9 91.2 50.5 91.1 51.1 92.0 49.3 90.8 50.3 90.8 49.9M101.9 44.7L103.0 45.6 102.6 44.4 102.3 44.2 103.0 44.8 103.1 44.1 102.9 43.8 102.8 43.4 102.4 42.5 103.1 42.7 104.5 43.8 103.5 42.5 103.3 42.4 104.4 43.2 104.1 42.0 103.9 41.7 103.9 40.2 104.7 41.2 105.4 40.5 104.3 40.4 102.6 40.8 104.0 40.0 103.7 40.1 102.5 39.6 103.5 39.2 103.6 39.1 103.5 38.4 102.9 38.2 101.9 36.9 101.8 38.3 101.1 37.9 101.7 37.3 100.3 36.8 101.0 38.2 101.0 38.6 100.4 38.8 99.4 38.6 99.4 39.2 101.2 38.3 100.6 39.6 100.5 40.0 100.8 40.5 101.2 41.0 101.1 41.6 101.0 42.2 100.4 43.0 101.2 43.0 100.9 42.9 100.3 44.4 101.5 43.5 101.5 43.3 101.3 43.7 100.3 44.7 101.5 44.5 101.6 44.4 102.8 44.2 102.1 45.0M103.3 36.2L103.9 36.8 103.4 37.1 104.1 36.7 104.0 37.3 102.8 38.5 104.2 37.7 104.2 38.1 104.6 37.9 103.0 36.9 103.6 38.2 103.7 38.3 103.4 39.0 103.0 38.8 102.9 38.6 101.8 37.3 103.3 37.6 104.0 37.6 103.7 37.1 103.4 36.4 104.1 37.0 104.3 36.5 103.7 36.4 102.7 38.1 102.9 36.6 103.3 36.2M105.0 35.3L105.0 35.8 105.4 36.0 105.6 36.8 105.2 36.9 105.3 36.9 104.8 36.9 104.3 36.7 104.4 36.3 104.8 36.1 104.9 35.7 104.6 35.1 105.0 34.9M99.4 47.6L99.8 47.8 99.4 48.8 99.0 48.0 101.0 47.6 99.5 47.2M62.4 21.2L62.7 21.0 62.9 20.6 63.6 22.1 63.6 20.6 63.5 20.8 63.4 22.7 64.4 21.4 65.0 21.4 64.7 21.9 64.4 22.7 65.1 22.4 65.2 22.6 64.6 22.4 64.1 22.6 63.7 23.1 63.8 24.0 63.2 23.9 62.9 23.3 62.7 24.7 62.0 23.7 61.1 24.1 62.1 24.5 61.9 25.1 61.3 24.7 61.7 23.9 62.0 23.4 62.7 22.5 63.0 23.2 63.1 23.0 63.1 22.5 62.7 22.1 62.4 21.7 62.4 21.2M59.3 23.0L59.9 22.9 60.6 21.5 61.0 22.7 60.5 24.1 61.3 23.6 61.4 24.8 62.1 23.7 61.3 23.9 61.0 24.3 61.3 23.2 60.5 23.5 60.2 23.8 60.4 22.3 59.5 23.2 59.3 23.5 60.9 22.8 59.3 22.6M65.2 21.2L66.3 21.7 66.1 20.8 66.1 22.4 66.7 21.2 66.6 21.6 67.5 21.2 67.6 21.7 66.8 21.8 65.8 21.8 66.3 22.5 66.1 22.2 67.1 23.6 65.6 22.9 65.2 22.2 65.0 22.4 65.1 22.1 63.5 22.1 64.7 21.2 65.2 21.2M63.1 25.4L63.6 24.5 63.9 25.3 63.7 25.7 64.1 25.7 65.0 25.5 64.6 25.0 64.5 25.7 65.6 26.4 64.4 26.5 65.0 26.5 65.2 26.2 65.2 26.3 64.7 26.3 64.5 27.3 63.9 26.7 63.9 26.7 63.4 26.8 61.8 26.6 63.2 26.0 63.6 26.0 63.6 25.1 63.0 25.5 63.1 25.4M63.1 28.0L63.5 28.1 63.8 26.9 64.3 27.8 64.1 28.4 64.9 28.5 64.8 29.0 64.9 29.3 64.5 29.5 64.4 29.5 63.4 28.9 63.6 29.8 63.8 30.1 62.9 30.2 63.1 29.6 63.0 29.9 62.7 29.6 61.2 28.8 62.8 28.8 60.9 28.6 62.5 28.1 63.1 28.0M59.8 86.9L60.0 87.3 60.0 87.8 60.5 87.8 61.0 88.0 61.3 88.1 61.7 88.1 62.1 88.4 62.4 88.6 62.8 88.6 63.2 88.4 63.7 88.3 64.1 88.2 64.5 88.4 65.0 88.4 65.4 88.5 65.8 88.4 66.4 88.5 67.1 88.5 67.7 88.4 68.3 88.4 68.7 88.9 69.1 89.4 69.4 89.9 69.7 90.5 69.9 90.9 70.0 91.3 70.4 91.5 70.7 91.9 70.6 92.4 70.5 92.9 70.2 93.3 70.0 93.8 70.6 93.9 71.2 93.9 71.8 93.7 72.4 93.8 72.7 94.3 73.0 94.9 73.0 95.5 73.1 96.1 72.7 96.6 72.4 97.1 71.9 97.3 71.4 97.7 70.9 97.8 70.3 98.0 70.0 98.6 69.6 99.0 69.1 99.5 68.6 99.9 68.2 100.1 67.8 100.2 67.3 100.3 66.9 100.4 67.2 100.8 67.5 101.3 67.6 101.8 67.9 102.3 67.6 102.7 67.7 103.4 67.8 104.0 68.3 104.5 68.6 105.1 68.8 105.4 69.0 105.7 68.4 106.0 67.9 106.2 68.3 106.6 68.6 107.0 68.7 107.6 68.9 108.3 69.1 108.9 69.3 109.5 69.3 109.9 69.1 110.2 69.0 110.6 68.7 110.8 68.6 111.1 68.4 111.4 68.3 111.8 68.3 112.2 68.1 112.8 67.7 113.3 67.5 113.9 67.6 114.5 67.5 115.0 67.2 115.3 66.8 115.6 66.5 115.9 66.7 116.5 66.7 117.2 66.4 117.1 66.0 117.1 65.6 116.9 65.3 116.9 64.9 116.8 64.5 116.8 64.2 116.9 63.8 116.9 63.4 116.9 63.1 117.0 62.7 117.3 62.4 117.3 61.9 117.7 61.5 118.1 61.0 118.3 60.4 118.3 59.8 118.3 59.3 118.6 58.8 118.8 58.2 118.8 57.8 118.7 57.3 118.8 56.9 119.0 56.5 119.2 56.2 119.5 55.8 119.7 55.4 119.9 55.0 120.1 54.6 120.3 54.3 120.6 53.8 120.6 53.4 120.6 53.0 120.8 52.7 121.1 52.3 121.3 52.0 121.6 51.6 121.8 51.1 121.8 50.7 122.1 50.2 122.1 49.8 122.4 49.5 122.8 49.0 122.8 48.5 123.0 48.2 122.9 47.8 122.9 47.4 122.9 47.1 123.0 46.7 123.0 46.4 123.1 46.0 123.1 45.6 123.2 45.3 123.2 44.9 123.2 44.6 123.5 44.2 123.5 43.9 123.7 43.5 123.7 43.2 123.8 42.8 123.9 43.2 123.8 43.6 123.6 43.9 123.3 44.2 123.1 44.5 122.8 44.7 122.5 44.9 122.1 45.1 121.8 44.6 121.8 44.2 121.8 43.7 121.8 43.3 121.9 42.8 122.0 42.4 122.2 42.0 122.3 41.6 122.5 41.8 122.1 41.9 121.6 42.2 121.1 42.3 120.6 41.8 120.6 41.2 120.6 40.7 120.4 40.2 120.2 40.1 119.8 39.9 119.4 39.7 119.1 39.5 118.8 39.3 118.5 39.1 118.1 39.0 117.7 38.8 117.3 39.4 117.2 39.8 116.8 40.3 116.7 40.8 116.5 41.3 116.3 41.9 116.1 42.4 116.1 43.0 116.2 43.4 116.0 43.7 115.7 43.9 115.3 44.1 115.0 44.2 114.6 44.5 114.2 44.7 113.8 45.1 113.6 44.7 113.6 44.3 113.7 43.9 113.8 43.6 113.8 43.2 113.7 42.8 113.7 42.4 113.6 42.1 113.5 42.4 113.0 42.9 112.5 43.3 112.1 43.6 111.5 44.0 111.0 44.5 110.6 45.2 110.5 45.8 110.3 45.5 109.6 45.9 109.4 46.4 109.3 46.9 109.3 47.2 109.0 47.2 108.4 47.6 108.1 48.0 107.8 48.5 107.9 47.9 107.0 47.8 108.0 47.8 108.0 47.5 107.8 47.3 106.2 46.8 107.6 47.0 108.0 47.2 109.1 46.4 108.5 46.6 109.0 46.1 108.6 46.2 108.7 45.5 108.5 44.3 109.1 44.5 108.1 45.6 107.4 44.6 107.5 44.9 107.5 43.5 107.9 44.4 106.9 44.4 107.0 43.8 106.4 43.5 106.7 43.4 107.0 43.1 108.2 42.5 107.3 42.4 106.8 42.0 106.4 41.5 106.4 41.4 105.8 41.3 104.4 40.6 105.4 42.5 104.9 41.0 104.5 42.4 105.3 41.7 104.2 41.8 104.0 42.0 103.5 42.0 102.4 42.7 102.7 42.9 102.6 43.8 102.7 43.9 102.3 44.7 101.9 43.8 101.4 42.9 100.5 42.8 101.8 42.7 101.9 42.2 101.9 41.7 101.6 41.4 101.2 40.8 100.5 40.5 101.0 40.5 100.8 40.2 100.4 40.0 99.7 40.4 99.6 42.0 100.2 40.8 99.2 41.0 99.4 40.5 98.3 41.5 98.7 41.4 98.6 42.2 97.9 41.3 97.8 41.6 97.9 41.9 97.5 42.4 98.1 43.0 98.3 43.8 97.1 43.8 98.4 44.0 98.8 44.1 98.3 45.0 98.4 44.2 97.7 44.2 97.8 45.4 98.2 45.1 97.3 45.3 97.2 45.9 97.3 46.2 96.2 46.8 96.9 46.5 97.7 47.1 98.0 47.5 96.5 48.1 97.7 48.3 98.0 49.0 97.8 49.1 97.1 49.3 95.7 50.0 96.6 50.2 97.0 50.7 97.2 51.3 97.1 51.9 97.1 52.4 96.8 53.0 96.6 53.9 97.0 53.9 96.4 52.0 95.7 53.5 95.4 53.2 95.2 53.5 94.9 53.4 94.5 53.9 93.9 54.2 94.4 54.8 95.0 54.4 94.0 53.1 95.3 53.0 94.2 52.2 94.1 52.6 94.9 52.7 94.0 52.3 92.3 51.6 93.6 51.5 93.8 51.0 93.7 50.4 93.8 49.9 93.8 50.2 93.6 50.6 93.4 50.8 93.0 51.7 93.5 51.5 92.7 50.8 91.9 51.6 92.2 51.6 92.2 52.2 92.6 52.5 92.2 52.3 91.9 52.8 91.3 52.5 91.0 52.4 90.9 53.1 90.1 52.2 90.0 51.0 90.5 51.7 89.7 52.5 90.0 52.9 89.3 53.3 89.7 53.1 89.4 53.4 89.1 53.9 88.8 54.9 89.6 55.0 88.7 55.2 88.8 56.1 88.8 56.2 88.4 56.1 89.5 56.6 89.0 56.3 89.3 57.2 88.9 57.1 89.7 57.4 89.9 57.2 90.2 56.7 91.4 57.7 90.4 57.6 90.5 58.0 89.6 58.4 90.0 58.6 90.5 58.8 89.9 59.2 89.4 58.9 88.8 59.4 87.9 58.9 87.7 59.1 87.7 59.2 87.3 59.4 87.0 59.8 86.9M60.6 90.0L60.4 90.4 60.0 90.6 59.7 90.9 59.3 91.2 59.1 91.6 58.8 91.9 59.1 93.1 58.2 92.6 58.0 93.2 58.7 93.2 58.8 93.4 58.6 93.6 57.5 93.0 58.0 93.8 58.0 93.8 57.6 93.8 57.6 94.2 57.5 94.5 57.3 94.8 56.5 94.7 56.7 95.3 56.3 95.2 56.3 94.7 56.2 96.0 55.8 94.9 54.7 94.5 55.8 95.5 55.8 95.5 55.8 96.8 55.1 95.9 55.5 96.9 54.8 96.1 54.7 95.9 54.4 95.7 54.8 95.8 56.2 95.9 55.1 96.6 55.3 96.3 55.7 96.2 55.5 97.7 56.4 96.6 55.8 97.2 56.3 97.2 55.9 97.1 55.9 97.6 56.6 97.7 57.5 98.1 57.2 98.6 56.4 99.2 57.3 99.0 57.5 98.7 58.0 98.8 58.2 98.5 58.7 98.1 59.2 97.9 59.8 97.8 60.4 97.7 60.8 97.3 61.3 97.0 61.7 96.6 62.0 96.1 62.5 96.5 62.7 97.0 63.1 97.4 63.3 97.9 63.6 98.3 64.0 98.8 64.3 99.1 64.8 99.4 65.2 99.4 65.5 99.4 65.8 99.6 66.2 99.7 66.5 99.6 66.9 99.7 67.2 99.9 67.6 99.9M189.1 5.1L188.8 6.8 188.2 5.4 186.8 6.5 187.8 4.8 188.2 5.6 187.7 6.0 188.0 6.4 185.9 6.1 187.6 7.3 188.1 8.8 187.0 7.3 187.1 7.5 186.9 8.0 185.9 9.1 187.1 9.0 186.5 8.9 185.7 9.3 185.6 8.8 185.1 7.9 184.9 8.9 184.9 8.4 185.0 8.8 185.0 9.2 184.2 8.7 184.3 9.5 184.3 9.4 182.6 8.8 183.8 10.0 183.9 10.0 184.3 11.2 183.4 10.6 184.4 10.9 183.7 11.1 182.5 10.0 182.9 11.1 182.9 10.6 183.9 12.9 182.3 11.1 182.2 10.0 181.8 10.7 183.7 9.1 181.8 10.0 181.5 10.3 181.0 10.4 180.8 10.9 179.8 12.2 179.9 10.7 180.2 10.3 179.8 10.0 179.4 10.3 180.2 9.2 179.0 9.6 179.0 8.7 178.4 9.7 179.9 9.5 179.1 9.0 176.9 9.6 178.6 8.6 178.4 9.1 178.0 9.0 177.9 8.4 177.4 8.4 176.9 8.4 176.6 7.4 176.1 8.1 176.0 8.3 175.7 8.5 174.9 8.0 174.7 8.4 174.9 9.0 173.2 8.1 174.2 9.6 174.6 9.8 174.4 10.2 174.6 10.6 173.6 10.5 174.1 11.2 174.1 12.9 173.6 11.0 173.9 11.4 173.4 11.4 172.9 12.9 172.5 11.5 172.7 11.1 172.2 11.1 172.2 11.6 171.8 11.6 171.5 11.4 169.8 10.6 170.8 12.0 171.2 10.5 170.4 11.3 172.4 10.4 170.5 10.7 169.8 10.9 170.2 10.4 170.0 9.7 169.6 10.6 169.7 11.1 168.9 10.6 169.0 11.3 168.5 11.0 168.6 11.6 168.9 11.9 166.9 11.8 168.5 12.7 168.1 13.7 167.8 12.4 167.8 11.4 167.3 12.1 168.4 13.3 167.3 13.0 167.0 12.7 167.7 14.5 166.4 13.2 165.9 12.8 165.9 13.3 166.1 13.6 167.4 13.5 166.6 14.3 168.5 13.9 166.7 14.7 166.3 14.8 166.0 14.5 166.7 13.4 165.6 13.8 164.5 14.4 165.2 13.5 166.0 16.1 164.7 14.2 164.6 13.8 164.9 15.1 164.0 14.5 163.9 13.9 163.5 14.1 163.0 14.6 162.4 14.4 161.9 14.6 162.3 16.2 161.1 15.3 160.9 15.1 160.4 15.4 159.9 15.8 158.3 17.0 159.0 15.3 158.8 15.4 157.2 15.3 158.2 16.2 157.9 15.6 157.8 16.8 157.1 16.3 156.7 16.0 156.5 16.7 155.0 17.0 156.1 17.7 157.6 17.5 156.8 18.2 158.7 17.4 157.2 18.7 156.4 19.7 157.5 19.4 157.7 18.9 158.0 19.2 158.3 19.0 158.2 17.3 159.0 18.6 159.3 19.8 158.6 19.9 157.8 21.0 157.5 19.6 157.7 20.2 158.3 20.5 157.3 20.2 157.5 21.0 157.5 21.1 156.6 21.2 156.8 21.8 156.7 20.6 156.3 21.1 157.0 20.6 157.3 18.7 156.1 20.0 156.0 19.1 155.5 19.7 155.9 19.2 155.1 19.2 155.0 20.0 154.3 20.4 155.2 18.6 153.6 19.4 152.9 20.1 153.5 20.5 153.4 21.2 154.2 20.8 155.0 20.0 154.6 20.9 154.5 21.1 154.8 20.9 155.2 21.0 155.9 20.7 156.0 21.1 157.2 21.5 156.1 20.4 156.7 21.0 156.6 21.9 156.1 22.4 155.6 22.9 155.0 23.3 156.0 25.3 154.2 24.2 154.0 23.3 153.4 22.8 153.0 22.6 151.3 21.1 152.2 23.1 152.7 25.2 151.7 23.2 150.9 23.1 151.5 22.3 151.4 22.3 150.6 23.2 150.6 22.1 150.6 22.0 150.4 21.6 151.3 20.6 151.3 21.8 151.4 22.4 151.1 22.6 150.8 22.6 150.4 22.9 151.1 22.9 151.7 23.0 153.5 21.5 151.4 22.0 150.8 22.5 150.3 22.6 150.8 24.6 149.5 23.1 150.2 22.3 150.1 21.7 149.4 21.8 146.8 21.9 148.9 20.8 148.4 21.1 147.0 21.6 148.0 22.1 148.1 22.9 148.8 22.5 148.6 22.8 148.0 23.1 147.0 23.2 147.2 22.5 148.3 24.0 147.1 23.5 146.9 23.5 147.0 24.2 147.1 25.3 146.5 25.2 146.7 25.3 146.5 26.5 145.9 25.6 145.5 24.4 145.5 25.6 145.5 25.4 146.0 25.0 146.1 23.7 146.8 24.5 146.9 24.6 149.0 25.1 147.3 23.9 147.5 24.9 147.9 24.7 149.1 24.4 147.8 25.2 148.0 25.4 148.7 25.4 149.3 25.4 149.7 25.9 147.7 25.3 149.3 26.5 150.4 27.7 149.0 26.8 149.3 26.8 149.5 27.2 148.7 26.1 148.4 27.1 148.2 27.5 147.5 25.2 147.3 27.5 147.3 27.0 146.7 27.1 145.6 27.5 145.8 26.6 145.6 26.7 145.3 27.3 143.5 27.6 145.1 28.2 145.5 28.2 145.5 28.6 146.0 29.3 145.5 29.5 146.5 29.8 146.3 28.8 146.3 29.2 146.4 28.7 146.9 28.7 147.2 29.6 147.7 29.1 148.7 28.3 147.9 29.4 146.8 28.4 146.6 29.2 145.3 29.6 146.5 28.4 146.3 29.0 146.1 27.1 145.4 28.7 144.1 29.0 145.4 29.8 146.3 29.8 146.1 30.2 145.4 30.1 145.2 30.6 143.9 32.2 145.7 31.3 145.3 31.5 143.9 32.9 145.7 32.4 145.1 32.4 146.1 32.3 145.9 31.8 146.2 31.8 146.3 32.5 146.9 32.8 148.6 31.5 147.5 33.3 147.6 33.1 147.4 32.2 148.0 32.3 148.3 32.6 148.7 31.7 149.0 32.4 148.9 32.2 149.2 32.6 150.3 34.1 150.0 32.4 150.1 32.4 150.4 32.1 151.2 31.7 151.3 32.3 151.0 32.7 151.3 32.3 151.7 32.5 152.2 32.3 152.1 31.8 152.0 32.3 152.3 32.7 152.7 32.6 153.1 32.8 153.3 30.5 153.9 32.6 155.7 33.2 154.0 32.0 154.1 32.5 154.5 32.5 155.0 32.6 156.1 33.7 156.0 32.3 156.1 32.2 156.8 31.4 157.0 32.2 156.3 32.8 155.8 33.8 156.5 33.9 157.1 33.6 157.6 34.0 157.8 33.5 158.2 33.1 157.8 32.3 158.3 32.1 158.6 32.1 159.2 32.3 160.9 33.7 160.1 31.8 161.0 32.2 160.3 32.9 160.7 32.5 160.5 32.8 160.1 32.8 159.6 32.8 161.5 31.7 159.4 31.9 157.9 33.8 159.9 33.1 158.7 33.0 159.4 33.5 158.6 34.1 158.7 32.9 158.7 33.3 158.5 32.9 157.8 32.3 158.5 32.1 158.1 32.8 157.8 32.5 157.4 32.2 157.0 32.4 156.8 32.7 155.2 31.9 156.3 33.2 157.5 33.8 156.7 34.1 156.0 33.9 155.4 33.6 154.8 33.9 154.3 33.9 153.8 33.9 153.1 31.6 152.7 33.8 152.9 34.4 152.0 34.8 152.0 35.7 152.4 33.1 150.9 35.0 149.4 33.9 150.1 35.8 150.9 34.8 150.2 34.2 149.5 33.9 149.0 33.4 148.8 34.1 148.4 34.6 148.6 32.9 147.5 33.9 147.1 34.1 146.6 33.9 146.1 33.7 145.8 34.0 146.9 34.4 146.0 34.8 145.3 35.9 145.1 34.4 145.1 32.4 144.8 34.3 145.0 35.0 145.3 35.5 146.8 34.4 146.2 36.0 146.2 36.2 144.5 34.9 145.5 36.7 143.9 36.6 145.5 37.3 144.6 38.2 144.8 36.7 144.8 37.2 145.2 37.2 146.1 38.1 146.0 36.9 145.6 37.4 145.8 37.8 145.9 38.8 146.6 38.5 146.9 38.1 145.4 38.3 146.5 39.0 147.1 38.9 147.1 39.4 148.4 38.1 148.0 39.7 146.9 39.3 145.2 39.1 146.3 40.2 148.4 41.0 146.3 40.8 146.2 41.0 147.5 42.3 147.0 40.6 145.1 42.6 147.1 41.5 147.2 40.8 148.9 39.7 147.9 41.4 146.4 39.0 148.2 40.5 148.4 40.8 148.5 41.2 149.0 41.4 149.3 41.9 150.9 40.1 150.2 42.3 150.1 41.5 150.7 41.3 151.0 41.0 151.1 40.6 153.2 39.7 151.0 39.6 152.3 41.7 152.0 39.7 151.8 40.4 152.6 39.2 152.7 40.4 152.6 39.9 153.2 39.9 153.6 39.9 154.0 39.7 153.9 37.4 154.8 39.4 156.2 39.0 154.5 38.7 154.9 38.9 155.4 39.0 155.9 39.8 156.2 39.2 156.2 39.3 157.4 40.4 157.3 39.0 157.0 38.4 158.9 36.8 157.9 39.0 158.0 39.1 158.3 40.2 157.4 39.9 157.4 40.0 156.9 39.7 156.3 39.9 155.0 40.1 155.8 40.8 155.5 40.4 154.3 38.4 154.6 40.5 154.5 40.5 154.3 40.1 153.6 38.5 153.5 40.2 152.8 40.1 153.4 39.4 153.2 39.8 153.0 40.1 152.7 40.3 152.7 40.8 152.3 40.9 151.3 41.0 151.5 41.6 151.7 41.9 151.6 42.5 151.0 42.8 150.6 43.2 150.0 43.4 150.1 44.0 151.9 44.7 150.2 45.0 149.4 45.1 149.6 45.5 149.1 45.0 150.3 43.5 148.7 44.0 148.3 44.3 147.2 46.1 148.9 45.1 148.5 45.4 148.2 46.0 147.6 46.1 148.2 45.0 148.6 45.8 148.9 46.3 149.2 48.5 148.1 46.6 146.6 47.7 148.7 47.3 148.7 47.3 149.0 47.6 148.7 48.2 148.3 48.6 147.9 49.2 146.6 48.2 146.9 49.6 147.4 49.8 147.5 50.2 147.9 50.4 148.9 50.3 148.4 51.0 148.5 50.1 148.9 50.4 148.6 48.3 149.3 50.4 149.3 50.3 149.6 52.1 150.1 50.4 149.9 50.8 150.3 50.6 150.2 51.6 150.9 51.1 150.7 51.2 151.0 51.5 151.5 51.3 151.6 50.9 151.8 50.5 152.4 50.4 152.5 52.6 153.3 50.7 153.2 50.0 153.7 47.9 154.2 49.9 153.6 48.4 152.9 49.5 152.3 48.8 152.3 49.8 152.7 50.1 151.2 50.8 152.7 50.9 152.3 51.6 152.0 50.6 152.0 50.7 150.7 51.1 151.7 51.6 151.4 51.6 151.0 51.9 150.1 52.0 150.4 52.6 150.3 52.3 151.3 53.5 149.9 53.0 149.3 52.5 149.5 53.1 149.4 51.4 149.0 52.7 151.7 53.1 149.7 53.9 148.8 54.4 149.7 54.6 149.4 54.6 149.7 55.1 150.0 55.3 150.3 55.5 149.0 55.0 149.7 56.0 150.1 56.2 150.4 56.4 151.6 54.4 151.1 56.6 150.7 56.1 151.1 55.9 151.3 56.2 151.4 56.6 151.3 57.0 150.8 56.9 151.7 56.7 151.7 57.3 151.7 57.5 152.2 59.3 152.7 57.6 152.8 57.6 154.1 57.9 153.1 58.4 153.6 59.1 153.8 58.1 152.4 57.2 153.6 57.3 154.6 58.8 154.3 57.4 153.4 59.4 154.7 58.2 156.8 57.8 154.7 58.8 156.0 57.9 155.4 59.0 155.2 59.4 155.7 57.9 156.1 59.2 156.1 59.5 156.4 59.9 155.1 61.0 156.6 60.7 157.9 59.5 157.3 60.8 157.1 61.1 158.2 60.8 157.8 61.6 158.0 61.2 158.5 61.4 159.0 61.5 159.4 61.9 160.1 62.4 159.9 62.7 160.2 62.1 160.7 61.9 161.1 62.2 161.8 63.8 162.1 62.3 162.8 62.7 162.4 61.8 162.6 62.0 163.3 61.5 163.5 61.9 163.5 61.7 164.1 61.7 164.4 61.2 164.6 60.7 165.0 60.3 166.0 60.0 165.9 60.8 166.8 61.0 166.4 60.0 166.6 60.4 167.0 60.8 167.4 60.4 168.1 59.9 167.7 59.6 168.2 60.0 168.4 59.1 168.8 59.3 169.7 60.4 169.4 59.2 169.3 57.8 169.9 59.1 170.1 59.3 171.2 59.2 170.7 58.6 170.9 58.6 171.4 57.5 171.9 58.3 172.8 59.2 172.4 58.0 172.6 58.0 172.7 57.6 172.4 56.6 173.2 57.0 172.9 56.9 172.6 56.6 173.7 57.2 173.7 56.3 173.9 56.1 173.7 55.7 173.6 55.4 173.4 53.7 174.3 54.9 173.7 54.5 174.1 54.3 174.3 54.5 173.8 53.7 174.6 53.8 174.8 54.0 175.3 54.6 175.6 54.2 175.7 53.8 176.2 53.5 176.8 53.2 177.6 53.9 177.8 53.2 177.6 52.8 178.1 52.8 178.5 52.6 177.5 51.7 178.6 51.7 178.9 52.0 179.3 53.5 179.7 52.1 179.7 52.4 180.1 51.2 180.5 52.2 181.7 51.8 180.2 51.5 181.3 51.7 180.6 51.1 180.8 51.2 181.2 52.3 181.6 51.4 181.1 50.9 181.0 50.5 181.5 50.4 179.3 49.4 181.6 49.5 181.6 49.5 181.2 49.2 181.5 48.9 181.7 48.6 181.5 46.7 182.4 48.3 182.4 48.6 182.7 48.3 182.2 47.3 183.2 47.7 182.4 47.1 183.1 47.0 183.6 47.0 184.2 46.8 184.8 48.3 185.2 47.0 184.6 46.4 183.6 45.8 184.5 45.5 185.1 46.0 185.5 45.6 184.8 45.2 184.6 45.7 184.5 45.7 185.6 45.0 184.5 44.8 184.8 44.2 184.1 44.4 184.9 44.6 185.3 44.3 185.2 44.9 184.7 45.2 185.3 45.5 185.3 46.1 185.1 46.8 185.6 47.1 185.1 47.1 184.7 47.5 182.9 48.5 184.9 48.3 184.9 48.9 184.3 48.6 185.7 49.6 184.1 48.9 184.3 49.0 184.8 49.0 186.2 49.5 184.9 49.9 184.9 49.8 185.4 49.9 184.7 50.6 185.5 50.7 185.6 50.6 186.0 50.9 186.4 50.9 186.8 51.1 187.3 51.0 187.5 51.4 186.2 53.2 188.0 52.1 188.0 51.4 189.3 50.4 188.8 51.8 188.4 52.1 188.1 54.3 189.2 52.4M188.8 52.3L188.7 52.8 188.1 52.8 188.3 53.3 188.1 53.7 189.6 53.7 188.5 54.5 187.7 54.8 188.4 54.9 188.8 55.8 189.2 54.7 188.7 55.6 189.4 55.3 188.9 55.5 189.3 56.0 188.9 56.3 187.8 55.3 188.1 56.7 189.0 56.3 189.5 56.6 190.1 56.8 191.9 57.2 190.3 57.8 190.0 57.9 190.0 58.4 188.4 59.4 190.2 59.3 188.5 58.8 189.6 59.7 190.4 60.5 190.8 59.5 191.3 59.4 191.1 60.0 191.4 59.8 191.6 60.7 192.1 60.4 191.7 60.8 192.2 61.3 191.6 61.7 191.2 62.2 191.4 62.6 190.1 63.3 191.5 63.4 191.3 63.5 191.8 63.8 189.9 64.7 191.9 64.6 192.2 64.5 192.0 65.7 192.8 65.1 193.0 65.0 192.9 65.5 193.3 65.8 194.1 65.5 194.1 66.1 192.7 66.9 194.0 66.7 192.4 66.5 193.6 67.1 193.5 67.1 193.4 67.4 193.3 67.8 193.5 68.2 193.6 68.7 193.6 69.2 194.0 69.5 194.3 70.2 194.7 70.0 194.7 70.1 194.9 71.7 195.5 70.4 194.3 71.6 195.6 71.0 195.9 71.6 196.2 70.7 196.1 71.0 196.4 71.3 196.4 71.7 196.7 71.7 196.4 73.3 197.4 72.2 197.3 72.2 198.0 72.6 197.6 72.9 197.8 72.8 198.6 72.8 198.5 73.3 198.6 73.2 198.9 73.4 199.3 73.8 198.9 74.5 199.1 74.7 200.1 73.3 200.1 74.5 199.1 75.5 200.0 75.3 199.4 75.2 198.0 74.8 198.6 75.8 198.6 75.8 198.5 76.2 198.7 76.5 198.8 76.8 199.7 78.2 198.4 77.7 197.9 78.0 197.6 77.6 197.7 78.1 197.1 79.2 196.7 78.3 197.5 78.3 197.8 78.6 198.1 78.8 198.3 79.1 196.7 79.2 198.0 79.9 198.4 79.9 198.5 80.3 199.2 80.4 199.2 80.8 199.8 80.6 199.5 81.2 199.7 81.0 199.4 82.2 200.3 81.7 200.5 81.5 200.6 82.0 200.8 82.4 200.6 82.9 201.6 83.7 200.5 83.8 200.9 83.6 201.0 84.1 200.9 84.4 200.9 84.8 200.5 85.2 200.1 85.6 199.7 86.1 199.7 86.7 199.9 85.3 200.6 86.2 200.9 86.3 201.4 86.6 202.0 87.0 202.6 87.0 203.1 87.3 203.7 87.1 204.3 87.1 204.9 87.1 205.4 87.0 206.0 86.8 206.5 86.4 207.2 86.5 207.9 86.5 208.2 86.6 208.5 86.8 208.9 86.8 209.2 86.7 209.5 86.3 209.7 86.0 210.0 85.6 210.3 85.3 210.2 84.8 210.2 84.4 210.4 83.9 210.5 83.5 210.3 83.0 210.1 82.6 210.0 82.1 209.9 81.7 210.5 81.4 210.9 80.9 211.4 80.7 212.0 80.6 212.5 80.4 213.0 80.1 213.3 79.7 213.7 79.4 214.1 79.6 214.5 79.8 214.9 79.8 215.3 79.8 215.7 79.8 216.1 79.8 216.5 79.8 216.9 79.6 217.4 79.7 217.9 79.7 218.4 79.6 218.9 79.6 219.3 79.5 219.6 79.3 219.9 79.2 220.3 79.0 220.6 78.9 221.0 78.7 221.3 78.7 221.7 78.7 221.8 78.1 222.1 77.6 222.6 77.3 222.8 76.8 223.2 76.3 223.4 75.7 223.8 75.4 224.1 74.9 224.2 74.5 224.4 74.1 224.6 73.7 224.8 73.3 225.0 72.9 225.0 72.5 225.0 72.0 225.2 71.6 225.3 71.1 225.2 70.6 225.1 70.2 224.9 69.7 225.0 69.2 225.0 68.7 225.3 68.3 225.5 67.8 225.5 67.4 225.6 67.0 225.7 66.6 225.6 66.1 225.6 65.7 225.9 65.3 226.0 64.9 226.2 64.5 226.2 64.1 226.2 63.7 226.4 63.3 226.4 62.9 226.6 62.5 226.6 62.1 226.6 61.7 226.6 61.2 226.5 60.7 226.5 60.2 226.7 59.7 226.9 59.2 226.7 58.6 226.7 57.7 227.1 57.7 227.3 57.6 227.9 57.5 227.6 56.6 227.2 57.1 227.1 57.5 226.7 57.4 226.3 57.6 226.0 55.9 225.5 57.5 225.3 57.2 225.4 56.8 225.6 56.7 225.5 55.1 224.8 56.4 225.4 56.1 226.5 57.1 226.3 55.8 226.5 55.8 226.7 55.3 227.2 55.5 227.7 55.2 228.0 55.7 228.6 55.6 229.3 55.3 229.1 53.9 230.0 54.4 229.7 54.4 229.8 54.0 230.1 53.8 228.8 52.9 230.3 53.1 230.6 53.7 231.0 53.5 231.1 54.0 231.0 54.9 231.7 54.6 231.3 52.9 232.1 53.9 232.0 53.7 232.4 53.5 233.2 53.4 233.1 53.9 232.1 52.9 232.8 52.7 234.3 53.9 233.6 52.5 233.1 52.3 232.8 51.8 232.4 50.6 233.3 51.2 233.4 51.3 233.8 51.3 235.1 50.1 234.6 51.6 234.9 51.3 235.0 51.6 234.7 50.0 235.4 51.3 235.2 51.0 235.6 50.9 236.4 51.1 236.2 50.4 236.2 50.4 235.6 50.0 235.9 49.6 237.0 49.8 236.5 49.3 235.7 50.5 235.5 49.6 235.5 49.6 235.0 48.7 234.8 49.6 235.1 48.6 234.5 49.3 233.7 49.1 234.1 50.0 234.0 49.7 233.2 49.9 233.1 49.5 233.0 49.7 232.9 50.2 232.4 50.5 231.9 50.6 231.1 50.3 231.1 50.9 231.2 50.3 231.1 49.8 230.3 50.8 230.2 49.8 230.1 49.6 229.9 49.1 228.9 49.3 229.2 48.6 229.4 47.2 228.7 48.5 228.6 48.5 228.5 49.0 228.2 49.2 227.8 49.5 227.2 49.1 227.0 49.4 226.2 48.4 226.5 49.8 227.0 48.5 226.3 49.0 226.3 48.3 225.8 49.0 225.8 50.3 225.4 49.3 225.4 49.0 225.0 48.8 224.6 49.0 224.2 49.1 223.8 48.9 224.6 48.1 223.6 48.1 222.8 48.4 223.2 47.9 223.1 48.0 224.2 48.5 223.7 47.5 223.8 47.9 225.4 48.6 224.4 47.3 224.5 47.7 224.8 47.4 225.0 46.0 225.5 47.2 225.6 47.3 226.2 47.2 226.2 46.8 226.3 47.4 226.8 47.2 226.8 47.7 227.3 48.0 227.7 47.8 228.2 47.7 228.8 47.9 228.9 48.4 229.4 48.3 229.9 48.4 230.2 48.0 230.4 47.5 230.9 47.5 231.2 48.0 231.7 47.8 232.1 47.6 232.7 47.6 233.2 47.8 232.0 48.5 233.0 48.9 233.6 48.9 234.1 48.1 234.5 48.7 234.6 48.7 235.2 48.7 235.6 49.2 236.0 49.7 236.7 50.5 237.0 49.8 237.1 49.3 237.7 49.4 238.2 49.2 238.7 48.9 239.6 49.0 239.5 48.4 239.7 48.5 239.8 48.0 240.6 47.0 239.5 47.1 240.1 47.2 240.7 46.4 240.1 46.2 240.6 46.6 241.1 46.4 242.7 47.2 241.8 45.9 240.8 44.8 242.0 45.3 240.1 45.3 241.7 44.9 241.9 44.9 241.4 44.8 241.2 44.4 241.1 44.1 240.9 43.8 240.7 43.6 240.4 43.3 239.4 43.4 239.9 42.7 239.9 42.7 241.5 42.9 240.3 42.0 239.3 41.8 240.0 41.5 239.4 43.4 239.2 41.9 239.4 41.6 239.4 41.2 238.5 41.5 238.7 40.8 239.2 40.2 238.9 40.1 237.9 40.3 238.5 39.7 239.7 39.4 238.8 39.1 238.3 39.1 237.5 39.1 237.5 38.6 237.4 38.7 236.2 39.8 236.5 38.4 236.5 38.9 236.0 38.9 234.9 39.3 235.2 38.4 235.2 38.6 234.7 38.0 234.4 38.5 234.5 38.6 234.4 37.1 233.7 38.3 233.9 38.2 234.0 37.3 233.3 37.6 233.6 37.5 233.8 36.4 233.0 37.0 232.3 36.4 232.5 37.6 232.8 37.8 232.4 37.9 231.9 36.9 231.6 37.8 231.2 38.6 231.2 37.7 231.0 36.8 230.8 37.8 230.9 37.5 230.7 37.2 230.0 35.8 229.8 37.1 229.7 37.0 228.4 37.5 229.0 36.4 228.8 36.1 229.0 35.9 230.6 35.9 229.3 35.4 230.5 36.0 229.8 35.1 230.3 35.3 230.2 34.9 229.9 34.7 230.2 34.3 230.8 35.1 231.1 34.4 230.6 33.9 230.9 33.5 231.0 32.6 230.4 32.7 230.4 32.0 231.1 32.3 230.5 32.3 230.4 31.8 230.5 30.7 229.8 31.3 231.6 30.6 230.0 30.7 229.1 30.0 230.3 30.1 229.9 30.0 229.9 29.5 229.8 28.2 230.7 28.9 229.8 28.9 229.7 28.3 230.0 27.8 230.4 26.6 229.4 27.0 230.0 27.0 230.6 27.0 232.1 26.5 230.7 26.1 231.1 25.4 231.5 26.1 231.6 25.9 231.5 25.4 231.2 24.9 230.1 23.8 231.5 24.1 231.3 24.0 230.1 24.1 230.8 23.3 231.2 23.2 232.5 23.2 231.6 22.5 231.8 22.5 233.0 21.7 231.7 21.6 231.7 21.5 231.4 21.2 232.0 21.0 232.4 20.5 232.7 19.6 233.2 19.8 233.9 19.2 232.8 19.0 233.2 18.9 234.8 19.3 233.9 18.1 234.3 18.4 234.9 18.3 235.3 17.5 234.5 17.6 234.5 17.7 235.5 17.8 235.0 17.1 236.4 17.2 235.0 16.6 235.1 16.7 236.6 15.8 235.0 15.8 235.5 16.0 235.9 16.1 235.9 17.5 236.7 16.7 237.1 16.4 237.8 16.3 238.3 16.0 238.6 15.3 238.6 14.2 239.3 14.5 239.3 14.6 239.9 15.0 240.1 14.5 240.0 15.2 240.3 15.0 240.3 14.9 242.0 14.4 240.7 13.8 240.3 13.6 240.8 13.3 242.0 12.9 241.3 12.3 240.9 11.8 241.4 11.7 241.8 11.9 242.1 11.5 243.5 11.8 242.8 10.8 243.2 10.3 243.5 10.9 243.4 10.4 243.9 11.0 245.2 12.5 244.9 10.7 244.2 9.5 245.2 9.9 245.2 8.0 246.0 9.9 245.5 9.4 246.5 8.9 245.9 8.4 246.3 9.7 246.6 8.9 246.4 8.4 246.5 7.2 247.1 8.1 247.3 7.8 247.5 8.1 247.1 8.6 247.1 10.5 247.9 9.0 247.8 9.1 249.5 8.6 248.3 9.7 247.9 8.9 249.7 9.9 248.7 8.3 248.9 8.6 250.5 8.5 249.3 7.7 249.6 7.8 250.0 8.2 250.4 8.3 251.1 8.1 251.2 8.5M247.0 39.5L247.9 39.5 247.6 40.1 249.4 39.5 247.7 40.6 248.2 38.8 248.3 40.3 248.3 40.4 248.8 40.2 250.8 39.7 249.4 41.0 249.6 40.5 248.0 39.0 249.9 39.7 250.0 40.7 249.4 41.1 250.2 41.5 249.8 41.9 250.1 41.9 248.2 42.7 250.1 43.0 248.8 41.1 249.0 42.8 248.9 42.8 248.4 42.8 248.0 42.4 246.6 42.1 247.6 41.5 247.2 41.8 246.6 43.1 246.2 42.0 248.2 41.9 247.2 41.0 248.0 40.6 247.0 40.3 247.0 40.1 247.0 39.5M236.2 72.4L236.4 71.9 236.4 71.5 236.4 71.0 236.6 70.6 236.9 70.2 237.0 69.7 237.1 69.2 236.9 68.8 236.9 68.2 236.8 67.6 236.8 67.0 236.6 66.4 237.0 65.9 237.2 65.3 237.8 64.9 238.3 64.5 238.6 64.3 238.9 64.1 239.2 63.9 239.6 63.9 239.9 63.8 240.2 63.6 240.5 63.4 240.8 63.1 241.4 63.0 242.0 63.1 242.6 63.0 243.2 62.7 243.6 62.6 244.0 62.6 244.5 62.6 244.9 62.7 244.5 62.8 244.2 62.9 243.9 63.2 243.5 63.4 243.3 63.7 243.1 64.0 242.8 64.3 242.5 64.5 242.3 64.9 242.3 65.4 242.4 65.8 242.3 66.2 242.2 66.6 242.2 67.1 242.0 67.5 241.8 67.8 241.5 68.2 241.3 68.6 241.1 68.9 240.8 69.3 240.2 69.5 239.8 69.8 239.3 70.2 239.0 70.7 238.6 71.0 238.2 71.3 237.9 71.6 237.6 72.1 237.3 72.2 237.0 72.3 236.6 72.4 236.2 72.4M224.5 79.2L224.4 78.8 224.5 78.4 224.4 78.1 224.4 77.7 224.5 77.4 224.5 77.0 224.6 76.6 224.8 76.3 224.9 75.9 225.1 75.5 225.3 75.1 225.5 74.7 225.6 74.3 225.5 73.8 225.7 73.5 225.9 73.0 226.2 72.5 226.6 72.1 226.9 71.6 227.3 71.1 227.6 70.6 227.7 70.0 227.8 69.4 227.9 68.8 228.3 68.7 228.6 68.5 229.0 68.4 229.3 68.3 229.3 68.8 229.1 69.2 229.2 69.6 229.1 70.1 229.0 70.5 228.8 70.9 228.6 71.3 228.3 71.6 228.1 72.1 227.8 72.6 227.7 73.2 227.7 73.7 227.3 74.2 226.8 74.4 226.4 74.8 226.2 75.4 226.3 75.9 226.3 76.4 226.1 76.8 226.2 77.3 226.1 77.8 226.0 78.3 225.8 78.8 225.5 79.2 225.0 79.3 224.5 79.2M170.8 91.3L170.8 90.8 170.5 90.4 169.7 89.7 170.5 89.5 170.1 89.5 170.1 89.0 169.6 87.6 170.7 88.3 170.5 88.1 171.5 87.3 170.4 87.2 170.3 87.1 170.2 85.8 169.5 86.7 168.8 86.2 169.8 86.0 169.4 86.0 168.6 86.8 168.6 85.9 168.8 85.6 169.9 84.7 168.6 84.8 167.4 85.6 168.1 84.6 167.9 84.9 166.6 85.6 167.2 84.4 167.2 85.0 166.8 85.2 168.2 85.0 167.2 84.3 168.6 84.0 167.1 83.8 166.0 83.7 166.9 83.2 166.9 83.1 167.2 82.6 167.5 82.1 167.1 81.6 166.5 80.9 166.9 80.6 168.3 80.4 167.0 80.1 167.3 80.1 165.7 80.6 166.6 79.4 167.0 78.8 166.7 78.6 166.4 78.5 166.0 78.1 166.1 77.5 166.5 77.0 167.1 76.5 167.9 75.5 166.9 75.5 167.1 75.2 166.7 73.8 167.8 74.4 168.0 73.4 166.9 74.2 167.9 73.9 167.3 73.7 167.4 73.7 166.9 72.2 168.0 73.2 167.9 72.5 168.4 72.9 167.7 72.3 168.1 72.1 168.0 70.8 169.0 72.0 169.1 72.1 169.7 71.8 170.9 72.9 170.6 71.5 170.6 71.1 169.9 70.4 170.4 70.1 170.8 70.2 171.4 69.8 171.6 70.1 172.1 70.8 171.9 69.8 171.9 69.8 172.3 70.1 172.8 70.0 173.1 69.5 173.5 69.2 173.9 68.9 174.3 69.7 174.7 69.3 174.6 68.4 175.0 68.6 175.0 68.5 175.3 68.8 175.8 69.0 176.2 69.0 176.7 68.8 177.2 68.6 176.8 67.4 177.7 67.8 177.7 67.4 178.1 67.4 178.2 67.3 178.4 66.8 178.7 66.4 179.2 66.1 180.1 66.4 180.2 66.0 180.3 66.0 180.6 66.7 181.0 66.7 181.5 66.8 181.5 66.1 181.5 66.0 182.0 65.9 182.3 65.5 181.9 64.3 182.8 64.7 182.6 64.6 182.9 65.3 183.3 65.1 183.5 64.3 183.8 64.5 184.3 64.0 184.2 64.9 184.3 64.6 184.2 65.1 185.5 64.5 184.9 65.6 184.5 66.1 184.0 65.9 184.2 66.0 184.0 66.7 183.9 67.4 184.8 67.7 184.2 68.1 183.8 68.1 183.5 68.4 182.3 69.2 183.7 69.2 183.2 68.8 182.1 68.1 182.6 69.2 181.4 69.6 182.9 69.9 182.9 70.4 182.3 70.0 183.1 70.7 182.2 70.4 182.5 70.5 182.6 71.5 181.9 70.9 182.1 71.8 181.5 71.0 181.1 72.4 182.5 71.7 182.2 72.1 182.3 73.1 181.7 73.0 182.8 73.2 182.4 73.6 182.6 73.9 182.2 74.4 182.5 74.8 182.9 74.9 183.1 75.3 183.1 76.0 183.5 76.0 184.0 75.7 184.1 75.4 184.1 75.5 184.6 75.6 184.9 75.2 185.2 75.5 185.5 75.8 185.6 76.2 185.4 76.6 186.3 75.5 186.2 76.8 186.5 76.1 186.6 76.8 186.4 77.1 186.7 77.3 186.1 77.4 185.8 78.0 185.2 79.1 186.2 78.9 185.7 79.2 185.5 80.5 184.8 79.6 183.6 78.9 184.4 80.1 183.8 79.7 183.6 80.0 184.6 81.2 183.6 80.9 183.1 80.4 182.2 81.2 182.1 80.2 181.7 80.3 181.6 79.9 181.5 79.6 181.9 80.5 182.4 80.1 181.2 81.1 182.4 80.8 182.5 81.4 181.8 81.3 181.2 81.6 181.8 81.9 181.5 81.8 180.5 81.4 180.7 82.2 180.7 82.5 180.1 82.5 180.2 82.9 181.0 82.9 180.8 83.4 180.2 83.4 180.1 83.9 179.8 83.6 179.3 83.6 179.0 83.3 178.6 83.1 178.2 84.3 177.8 83.3 177.2 83.1 177.5 83.7 177.4 83.7 177.0 83.9 177.5 84.2 178.5 84.5 177.8 85.0 178.1 84.9 178.4 85.3 178.1 85.6 177.6 85.8 177.1 85.8 176.7 85.8 176.8 86.2 177.4 86.9 176.7 87.0 176.9 87.1 176.6 87.5 177.2 88.1 177.5 87.7 178.1 87.0 177.9 88.0 177.7 88.2 178.7 88.2 178.3 88.9 177.6 89.0 176.9 88.9 176.8 89.6 175.5 89.3 176.0 90.3 176.6 90.3 177.0 90.3 177.4 90.3 177.7 90.4 177.7 91.3 178.3 91.0 178.5 90.7 178.8 91.0 178.8 91.4 178.5 91.7 177.2 91.0 177.9 92.2 177.3 92.2 178.0 92.7 177.8 92.5 177.3 92.4 177.7 91.5 176.9 91.7 176.6 93.0 176.3 92.2 176.2 93.3 175.9 92.2 177.0 91.5 177.3 91.9 177.4 91.6 178.0 91.6 179.6 91.3 178.7 92.4 179.8 92.3 178.8 93.0 178.2 93.8 179.2 93.5 179.5 93.5 180.1 92.4 180.5 93.2 181.1 94.1 180.0 94.0 179.3 94.1 180.0 94.4 178.9 94.8 180.2 94.7 180.1 94.7 180.5 95.1 180.7 95.6 181.1 96.1 181.2 96.6 181.7 96.5 182.3 96.6 182.9 96.5 183.4 96.5 184.0 96.6 184.6 96.5 185.1 96.5 185.7 96.6 186.1 96.9 186.5 97.1 186.8 97.6 187.1 98.0 186.7 98.4 186.2 98.6 186.0 99.0 185.7 99.4 185.8 99.9 186.0 100.4 186.6 100.4 187.1 100.5 187.6 100.6 188.1 100.8 188.6 100.8 189.1 100.7 189.7 100.7 190.2 100.8 190.5 100.4 190.9 100.0 190.9 99.4 191.2 99.0 191.6 98.8 192.1 98.7 192.5 98.5 192.9 98.3 193.3 98.1 193.8 98.0 194.2 98.1 194.7 98.2 195.1 97.9 195.4 97.5 195.8 97.3 196.3 97.1 196.5 96.7 196.8 96.4 197.1 96.0 197.5 95.7 198.0 95.8 198.5 96.1 199.0 96.3 199.4 96.6 199.9 97.0 200.5 97.0 201.1 97.0 201.6 97.1 201.9 97.2 202.3 97.4 202.5 97.6 202.8 97.9 203.0 98.1 203.3 98.4 203.4 98.7 203.7 99.0 204.1 99.0 204.6 99.0 205.0 99.1 205.5 99.2 205.9 99.4 206.3 99.6 206.7 99.8 207.2 99.9 207.8 100.1 208.3 100.4 209.0 100.5 209.6 100.7 210.2 100.6 210.8 100.4 211.4 100.3 212.0 100.1 212.3 99.8 212.6 99.4 213.0 99.3 213.5 99.1 213.9 99.0 214.4 99.0 214.8 98.9 215.1 98.6 215.6 98.6 216.0 98.5 216.4 98.4 216.9 98.5 217.3 98.4 217.7 98.3 218.1 98.1 218.6 98.2 219.2 98.0 219.7 97.8 220.3 97.7 220.8 97.4 221.4 97.2 221.9 96.9 222.5 96.7 223.1 96.6 223.7 96.4 224.4 96.2 225.1 96.1 225.7 95.9 226.3 95.5 226.9 95.2 227.4 94.7 227.9 94.2 228.5 94.0 229.0 93.7 229.5 93.4 230.2 93.4 230.7 93.1 231.2 92.8 231.8 92.9 232.4 92.7 232.8 92.6 233.1 92.5 233.5 92.5 233.8 92.4 234.1 92.3 234.5 92.2 234.8 92.1 235.2 92.0 235.5 92.1 235.9 92.1 236.2 92.2 236.6 92.2 236.9 92.3 237.3 92.2 237.6 92.2 238.0 92.1 238.0 92.5 238.1 92.9 238.3 93.3 238.3 93.8 238.6 94.1 238.8 94.5 239.1 94.8 239.4 95.2 239.6 95.5 239.8 95.7 240.1 95.9 240.4 96.1 240.9 96.1 241.4 96.2 242.0 96.2 242.5 96.4 243.0 96.4 243.5 96.6 244.0 96.7 244.6 96.6 245.1 96.5 245.6 96.2 246.2 96.0 246.6 95.7 247.1 95.3 247.6 95.0 248.1 94.8 248.6 94.6 249.1 94.4 249.7 94.2 250.2 94.3 250.8 94.2M238.0 92.5L238.4 92.6 238.8 92.9 239.2 93.1 239.6 93.4 239.9 93.7 240.3 93.9 240.6 94.2 241.1 94.2 240.6 94.1 240.2 93.8 239.8 93.5 239.4 93.3M170.4 71.1L170.9 71.5 171.0 73.0 171.8 71.9 172.8 71.0 172.3 72.2 172.3 72.5 173.0 72.7 173.4 72.2 174.0 72.4 174.6 71.5 175.0 71.9 174.9 72.4 175.6 72.8 175.7 72.3 175.5 72.0 175.8 70.6 176.3 71.8 175.8 72.6 176.3 72.5 176.9 72.4 176.4 72.9 176.5 72.7 176.9 72.7 177.4 72.2 178.0 72.2 178.5 71.8 179.7 71.3 178.9 70.8 179.4 70.5 179.7 70.9 179.6 70.5 180.1 70.4 181.0 69.8 181.1 70.6 181.9 70.8 181.0 71.4 181.4 71.3 181.3 72.6 182.1 71.8 182.2 71.8M178.1 85.8L178.6 84.8 179.0 85.5 179.1 85.3 179.8 84.7 179.7 84.4 180.1 84.8 180.6 85.0 180.9 83.4 181.5 84.7 181.1 86.1 181.8 85.3 182.3 85.3 182.1 85.8 182.4 84.5 182.7 85.4 182.7 85.3 183.4 85.9 183.6 85.3 183.6 85.3 183.4 85.7 183.7 86.1 184.0 87.1 184.5 86.4 184.5 86.4 185.6 86.5 184.9 87.1 185.8 85.5 185.5 87.1 185.3 87.3 185.3 87.6 185.0 88.2 183.9 89.2 185.2 89.2 184.7 89.8 185.4 89.8 185.0 90.0 184.6 90.0 184.3 90.3 184.0 89.5 183.6 90.1 183.6 90.2 182.6 89.1 182.9 90.5 182.9 90.2 182.6 89.9 182.0 89.7 181.8 90.1 181.8 90.5 181.5 90.4 181.5 90.4 181.0 88.9 180.7 90.3 180.8 90.0 180.9 91.4 180.1 90.4 179.5 90.5 180.1 91.0 179.8 90.6 179.0 91.3 179.1 90.4 177.8 91.1 178.6 89.8 179.0 89.4 179.0 87.9 178.1 88.8 178.1 88.6 177.0 87.5 178.4 87.9 176.6 87.9 178.1 87.5 178.1 87.5 178.3 87.2 177.6 86.5 178.3 86.3 177.2 87.4 177.5 86.3 178.1 86.2 177.1 85.7 178.0 85.4M198.2 80.6L198.3 81.0 197.8 81.8 198.5 81.8 197.8 81.9 198.1 82.2 198.4 82.3 198.4 82.8 196.9 83.3 198.3 83.6 199.0 83.9 198.2 84.0 198.5 84.4 198.0 84.4 197.0 84.4 197.7 85.0 198.8 86.1 197.4 85.4 197.2 86.1 196.7 85.6 196.4 85.3 196.7 85.9 197.2 86.3 197.5 87.2 197.2 87.4 197.1 87.6 196.0 88.2 197.0 88.5 197.0 88.5 196.6 88.7 196.3 89.0 196.2 87.6 195.5 88.7 195.5 88.8 195.0 89.5 194.7 89.0 194.7 89.1 193.7 89.1 193.8 89.6 193.4 90.8 193.1 89.5 192.9 89.2 192.2 88.2 191.9 89.0 191.8 88.8 190.7 89.5 190.9 88.4 190.6 88.4 191.7 87.3 190.4 87.4 190.2 88.7 189.7 88.3 189.4 88.0 189.0 88.4 187.9 87.5 188.1 88.7 188.5 87.9 188.4 86.9 187.9 87.0 188.3 87.0 188.7 86.8 188.7 86.4 188.4 86.0 187.2 86.9 187.7 85.6 188.1 84.8 187.5 85.3 187.9 85.2 187.4 84.7 187.6 84.4 188.0 84.5 188.0 84.1 187.8 83.1 188.5 83.6 188.2 82.6 188.9 83.6 189.3 83.2 189.3 83.9 189.3 83.9 189.7 83.8 191.2 83.8 190.0 83.0 190.6 82.3 189.5 82.5 189.5 82.4 190.2 81.8 189.8 81.5 189.5 81.3 189.9 82.0 190.2 81.7 189.3 83.0 190.5 82.1 190.6 82.0 191.0 81.8 191.8 81.9 191.7 81.4 191.9 82.4 192.2 81.8 192.2 81.7 192.6 81.5 192.8 81.1 193.2 80.9 193.5 80.5 194.0 80.6 194.7 79.8 195.0 80.5 195.1 80.5 195.4 79.9 196.3 81.3 196.5 79.9 195.5 81.1 196.5 80.9 197.0 80.6 198.1 81.7 197.9 80.4 198.2 80.6M186.7 91.9L186.2 90.5 187.3 91.3 187.0 91.2 187.0 90.3 187.5 90.5 187.8 91.6 188.1 91.0 187.2 92.3 188.3 91.4 188.3 92.5 188.8 91.4 189.0 92.9 189.3 91.3 188.4 90.2 189.4 90.6 189.3 91.3 189.7 91.5 190.0 91.7 190.4 91.8 190.8 92.0 191.2 91.8 191.2 93.0 191.9 92.2 191.8 90.7 192.3 91.8 193.1 92.8 191.8 92.8 192.2 92.8 192.8 93.6 193.1 93.1 193.0 93.5 192.6 93.1 192.2 92.7 191.6 92.3 191.0 92.6 190.8 93.1 190.3 93.4 189.7 93.7 189.1 93.6 188.3 92.0 188.1 93.6 188.2 93.0 187.7 92.7 187.1 92.8 186.9 91.7 186.3 92.2 186.7 91.9M193.0 90.9L192.2 91.9 193.1 92.0 193.4 92.1 193.8 92.0 194.1 91.9 193.3 93.3 194.6 92.5 194.7 92.8 195.1 92.5 194.1 92.7 194.0 93.4 194.0 94.0 193.6 94.5 193.5 94.2 194.0 93.4 193.2 93.5 192.7 93.8 192.8 93.4 193.0 93.3 194.0 92.0 192.6 92.3 192.4 91.1 193.5 91.8 192.8 91.6 193.0 90.9M195.4 90.5L195.9 90.9 196.6 90.8 197.1 90.4 197.8 92.0 198.2 90.5 197.3 90.5 196.8 90.2 196.5 90.6 196.1 90.9 195.6 90.9 196.1 89.9 195.2 90.1M184.6 89.5L184.8 90.1 185.0 90.6 185.8 91.3 185.3 91.6 184.8 91.8 185.8 91.1 185.7 92.1 185.8 92.1 186.2 92.5 186.4 93.7 187.1 93.0 186.3 92.8 186.0 93.0 185.9 92.6 186.7 92.0 185.9 91.8 185.8 91.8 186.0 91.4 184.9 91.3 185.5 90.6 185.3 91.0 186.2 89.7 184.9 90.3 184.0 91.4 184.3 90.3 184.6 90.0 184.6 89.5M212.7 88.1L213.1 87.9 213.6 87.9 214.0 87.7 214.4 87.6 214.7 88.2 215.0 88.6 215.4 89.0 215.8 89.3 215.3 89.7 214.8 89.9 214.2 90.2 213.7 90.5 213.5 90.2 213.3 89.9 213.0 89.7 212.7 89.5 212.6 89.2 212.5 88.8 212.6 88.5 212.7 88.1M201.6 94.2L202.1 93.9 202.7 93.9 203.2 93.7 203.7 93.5 204.2 93.8 204.6 94.2 205.1 94.5 205.6 94.7 205.4 95.3 205.3 95.9 205.2 96.5 205.1 97.1 204.5 97.2 204.0 97.2 203.5 97.6 203.0 97.7 202.6 97.6 202.2 97.6 201.9 97.3 201.6 97.1 201.7 96.7 201.6 96.4 201.6 96.0 201.7 95.7 201.8 95.3 201.8 94.9 201.6 94.6 201.6 94.2M187.1 95.7L187.6 95.7 188.2 95.6 188.7 95.5 189.1 95.2 189.0 95.6 188.8 95.9 188.4 96.0 188.1 95.9 187.8 96.0 187.4 96.1 187.1 95.7M168.4 90.0L168.6 90.6 168.7 91.2 168.5 91.8 168.2 92.8 168.9 92.7 168.5 91.9 168.2 91.4 168.4 91.1 168.3 90.7 168.2 90.3 167.8 89.4 168.6 89.7M170.8 91.3L171.5 92.3 170.5 92.0 170.6 92.1 171.7 92.9 170.5 92.9 171.1 93.3 170.3 93.2 170.8 93.0 171.2 92.8 172.7 93.5 171.2 93.7 171.5 93.5 171.9 94.0 173.0 93.7 172.9 94.4 172.1 94.4 171.8 94.6 171.6 95.0 171.3 95.2 171.0 95.6 170.9 95.9 170.7 96.3 170.4 96.6 170.9 97.0 171.3 97.5 171.9 97.8 172.5 98.0 172.5 98.4 172.5 98.7 172.6 99.1 172.8 99.4 172.6 99.8 172.6 100.1 172.6 100.5 172.5 100.8 173.0 101.1 173.5 101.5 174.0 101.8 174.5 101.9 175.1 102.1 175.6 102.5 176.1 102.5 176.7 102.7 176.3 102.6 176.0 102.4 175.6 102.4 175.2 102.4 174.9 102.1 174.6 101.9 174.4 101.6 174.1 101.4 173.7 101.3 173.3 101.3 173.0 101.4 172.6 101.3 172.2 101.2 171.9 101.1 171.5 101.3 171.1 101.3 170.8 101.5 170.5 101.8 170.3 102.2 170.2 102.6 170.0 103.0 169.9 103.4 169.9 103.8 169.7 104.1 169.3 104.4 168.8 104.6 168.2 104.6 167.7 104.6 167.4 104.1 167.0 103.7 166.7 103.3 166.3 103.1 165.9 103.0 165.6 102.7 165.0 102.6 164.4 102.6 163.8 102.3 163.2 102.3 162.5 102.3 161.9 102.2 161.3 102.5 160.7 102.7 160.7 103.2 160.7 103.7 160.8 104.1 160.9 104.6 160.8 105.1 160.9 105.6 160.7 106.0 160.7 106.5 160.3 106.0 159.9 105.5 159.2 105.4 158.7 105.1 158.1 105.3 157.4 105.3 156.8 105.2 156.2 105.0 155.6 105.1 155.0 105.1 154.4 105.5 153.8 105.6 153.3 105.6 152.8 105.8 152.3 106.1 151.8 106.3 151.3 106.4 150.7 106.3 150.2 106.5 149.7 106.5 149.3 106.8 148.8 107.0 148.5 107.5 148.3 107.9 147.9 108.2 147.6 108.7 147.3 109.0 146.9 109.3 147.3 109.8 147.8 110.1 148.0 110.7 148.3 111.2 148.6 111.4 148.9 111.6 149.0 112.0 149.2 112.3 149.5 112.5 149.8 112.7 150.1 112.9 150.4 113.1 149.9 113.6 149.6 114.3 149.3 114.9 149.0 115.5 148.6 115.4 148.3 115.5 147.9 115.5 147.6 115.4 147.3 115.1 146.9 115.0 146.6 114.9 146.2 115.0 146.0 114.4 145.9 113.8 145.7 113.2 145.5 112.6 146.0 112.1 146.4 111.6 146.6 110.9 146.9 110.3 146.3 110.1 145.9 109.8 145.3 109.9 144.8 109.8 144.3 109.8 143.8 109.8 144.0 110.5 143.9 111.2 143.7 111.8 143.5 112.4 143.5 113.1 143.3 113.8 143.1 114.4 142.7 115.0 142.5 115.4 142.1 115.7 141.7 116.0 141.3 116.2 141.2 116.7 140.9 117.1 140.6 117.4 140.3 117.8 140.1 118.1 139.9 118.5 139.6 118.8 139.3 118.9 138.7 119.2 138.2 119.6 138.0 120.2 137.5 120.6 138.0 120.8 138.4 121.2 138.8 121.4 139.3 121.6 138.8 121.7 138.4 121.7 137.9 121.7 137.4 121.6 137.0 121.8 136.7 122.2 136.2 122.3 135.8 122.5 135.3 122.8 134.8 123.0 135.2 123.1 135.6 123.2 136.0 123.2 136.4 123.4 136.8 123.5 137.2 123.5 137.6 123.6 137.9 123.9 137.5 124.1 137.1 124.3 136.6 124.5 136.2 124.5 135.7 124.5 135.3 124.6 134.9 124.6 134.4 124.6 134.0 124.7 133.6 124.7 133.2 124.8 132.8 124.8 132.4 125.0 132.0 125.1 131.7 125.4 131.3 125.6 131.0 125.9 130.7 126.1 130.3 126.3 130.0 126.5 129.6 126.7 129.3 127.0 128.9 127.1 128.5 127.3 128.2 127.5 127.9 127.7 127.5 127.7 127.1 127.7 126.8 128.0 126.4 128.3 126.0 128.5 125.5 128.5 125.1 128.6 124.6 128.6 124.1 128.7 123.7 128.7 123.2 128.7 122.7 128.9 122.2 129.1 121.8 129.4 121.8 129.8 121.8 130.1 121.9 130.5 122.0 130.8 121.8 131.2 121.7 131.6 121.7 132.0 121.5 132.3 121.4 132.7 121.4 133.1 121.5 133.5 121.6 133.8 121.6 134.3 121.7 134.8 121.8 135.3 122.0 135.7 121.6 136.1 121.3 136.5 121.0 136.9 120.6 137.1 120.0 137.4 119.5 137.8 118.9 138.0 118.4 138.3 117.9 138.1 117.5 138.1 117.1 138.1 116.6 138.3 116.3 138.5 115.8 138.5 115.4 138.6 115.0 138.8 114.6 139.1 114.3 139.5 113.8 139.6 113.4 139.9 113.2 140.2 113.1 140.6 112.8 140.9 112.7 141.2 112.3 141.4 112.1 141.7 111.7 142.0 111.6 142.3 112.0 142.7 112.6 143.0 112.2 143.0 111.7 143.0 111.3 143.2 110.9 143.3 110.6 143.6 110.3 143.9 109.9 144.0 109.5 144.2 109.1 144.1 108.8 143.9 108.2 143.9 107.6 143.9 106.9 143.8 106.3 143.9 105.7 143.9 105.1 143.5 104.5 143.5 103.9 143.3 103.4 143.3 102.9 143.7 102.8 143.2 102.7 142.9 102.5 142.5 102.3 142.1 102.3 141.7 102.3 141.3 102.2 140.9 102.1 140.4 101.5 140.6 100.9 140.6 100.4 140.9 99.8 140.9 99.2 140.7 98.7 140.3 98.1 140.2 97.4 140.3 97.6 140.9 98.0 141.5 97.9 142.1 98.1 142.8 98.3 143.0 98.6 143.3 98.8 143.6 99.1 143.8 99.2 144.2 99.3 144.6 99.6 144.8 99.8 145.2 99.8 145.6 99.8 146.0 99.8 146.4 99.7 146.9 99.7 147.3 99.7 147.7 99.9 148.1 99.8 148.6 100.0 149.1 100.3 149.5 100.4 150.0 100.5 150.5 100.0 150.4 99.6 150.4 99.2 150.1 98.8 150.0 98.3 150.1 97.9 150.3 97.5 150.3 97.0 150.4 96.5 150.3 95.9 150.2 95.3 150.2 94.8 150.1 94.4 150.2 94.0 150.3 93.6 150.3 93.2 150.4 92.8 150.6 92.4 150.7 92.2 151.1 91.8 151.3 91.7 150.9 91.5 150.6 91.3 150.3 91.1 150.0 90.7 149.8 90.5 149.6 90.2 149.3 90.1 148.9 89.7 148.9 89.2 148.9 88.8 148.8 88.3 148.9 87.9 148.8 87.5 148.7 87.0 148.7 86.6 148.5 86.2 148.7 85.9 149.0 85.4 149.2 85.0 149.4 84.6 149.6 84.1 149.8 83.6 149.9 83.2 149.9 82.8 150.0 82.5 150.1 82.1 150.1 81.8 150.1 81.4 150.2 81.1 150.1 80.7 150.2 80.4 150.4 80.0 150.4 79.7 150.5 79.4 150.8 79.1 151.0 78.8 151.2 78.5 151.3 78.2 151.5 77.8 151.6 78.1 152.1 78.6 152.6 79.2 152.8 79.7 153.2 79.4 153.5 79.0 153.7 79.3 153.8 79.7 154.0 79.9 154.2 80.1 154.5 80.3 154.8 80.5 155.1 80.8 155.3 81.1 155.5 80.7 155.7 80.4 155.8 80.0 155.9 79.6 155.9 79.2 156.0 78.9 156.1 78.5 156.1 78.1 156.1 78.4 156.4 78.7 156.7 78.9 157.1 79.2 157.4 79.5 157.7 79.8 158.0 80.2 158.2 80.6 158.4 81.2 158.2 81.9 158.3 82.5 158.0 83.2 157.9 83.7 158.1 84.3 158.3 84.8 158.4 85.4 158.7 85.9 159.1 86.5 159.2 87.1 159.1 87.7 159.3 88.3 159.6 88.7 160.1 89.0 160.7 89.4 161.2 89.9 161.3 90.4 161.3 91.0 161.2 91.5 161.2 91.7 160.7 91.8 160.3 92.4 160.6 92.8 161.1 93.4 161.3 93.9 161.7 94.3 162.1 94.8 162.5 95.2 162.9 95.6 163.4 95.7 163.8 95.9 164.1 96.0 164.6 96.0 165.0 96.1 165.4 96.4 165.8 96.7 166.1 97.0 166.4 96.8 166.8 96.7 167.2 96.4 167.5 96.0 167.8 96.2 168.2 96.4 168.6 96.7 169.0 96.9 169.5 97.4 169.6 97.8 169.9 98.0 170.3 98.4 170.6 98.7 170.9 99.0 171.2 99.4 171.5 99.7 171.7 100.0 172.0 100.4 172.1 100.8 172.2 101.2 172.5 101.6 172.9 101.9 173.3 102.5 173.6 102.9 173.9 103.0 174.5 103.1 175.1 103.1 175.7 103.3 176.3 103.0 176.7 102.8 177.3 102.5 177.7 102.2 178.2 102.5 178.5 102.9 178.6 103.3 178.8 103.6 179.1 103.9 179.4 104.3 179.7 104.3 180.2 104.6 180.6 104.8 181.0 105.1 181.3 105.4 181.6 105.7 181.9 105.4 181.7 105.0 181.5 104.7 181.1 104.4 180.9 104.1 180.5 103.9 180.1 103.6 179.8 103.5 179.4 103.1 179.9 103.0 180.5 102.8 181.0 102.5 181.5 102.3 182.1 102.3 182.7 102.4 183.3 102.6 183.8 102.4 184.3 102.2 184.7 102.3 185.2 102.2 185.7 102.2 186.2 102.3 186.7 102.4 187.1 102.6 187.6 102.2 188.1 102.3 188.5 102.2 188.9 102.2 189.3 102.1 189.7 102.1 190.1 102.1 190.6 101.9 191.0 101.9 191.4 101.8 191.9 101.6 192.3 101.5 192.8 101.2 193.2 101.2 193.7 101.3 194.2 101.2 194.7 101.0 195.1 100.8 195.5 100.8 195.9 100.6 196.3 100.5 196.7 100.3 197.2 100.4 197.6 100.5 198.0 100.5 198.4 99.9 198.8 99.4 199.1 98.9 199.6 98.5 200.1 98.1 200.2 97.7 200.2 97.4 200.4 97.0 200.6 96.6 200.5 96.1 200.4 95.6 200.4 95.2 200.6 94.8 200.4 94.4 200.3 94.0 200.0 93.6 199.9 93.1 200.0 92.7 200.0 92.3 199.7 91.8 199.7 91.4 199.8 90.9 199.8 90.5 200.0 90.1 200.0 89.7 200.0 89.4 199.9 89.1 199.8 88.8 199.6 88.4 199.5 88.0 199.5 87.7 199.3 87.4 199.2 87.0 199.2 86.6 199.2 86.3 199.4 86.0 199.5 85.6 199.4 85.3 199.3 84.9 199.2 84.5 199.2 83.9 199.0 83.3 199.1 82.7 199.1 82.1 199.0 81.4 199.2 80.8 199.3 80.2 199.5 79.7 199.9 79.2 199.6 78.7 199.5 78.2 199.4 77.7 199.5 77.3 199.2 76.8 199.0 76.3 199.0 75.8 198.8 75.3 198.6 74.8 198.6 74.3 198.7 73.7 198.8 73.3 198.6 72.8 198.4 72.2 198.4 71.7 198.4 71.4 198.2 71.0 198.0 70.7 197.7 70.3 197.4 69.8 197.3 69.2 197.3 68.6 197.4 68.1 197.7 67.5 197.8 67.0 198.1 66.4 198.3 65.8 198.3 65.4 198.3 64.9 198.3 64.4 198.3 63.9 198.3 63.5 198.4 63.0 198.5 62.5 198.4 62.0 198.4 61.6 198.0 61.0 197.7 60.3 197.7 59.7 197.6 59.1 197.3 58.6 196.9 58.0 196.7 57.6 196.2 57.1 196.4 56.6 196.8 56.0 196.9 55.5 197.0 55.0 197.5 54.4 197.8 54.0 198.3 53.7 198.9 53.5 199.2 53.2 199.5 53.0 199.9 52.7 200.1 52.2 200.3 51.8 200.3 51.4 200.6 51.0 200.8 50.6 200.9 50.1 200.9 49.7 200.8 49.2 200.8 49.1 201.4 48.8 201.9 48.4 202.4 48.0 202.8 47.7 203.4 47.5 203.9 47.0 204.2 46.7 204.8 46.9 205.1 47.1 205.4 47.4 205.7 47.7 206.0 47.9 206.4 48.0 206.7 48.3 207.1 48.5 207.4 48.6 207.9 48.7 208.4 48.9 208.9 49.2 209.3 49.4 209.8 49.5 210.3 49.6 210.8 49.9 211.2 50.0 211.6 50.0 212.0 49.9 212.4 49.8 212.8 49.8 213.2 49.8 213.6 49.6 213.9 49.4 214.3 49.5 214.7 49.6 215.2 49.9 215.5 50.0 216.0 50.0 216.4 50.0 216.9 50.1 217.4 50.3 217.8 50.1 218.2 50.1 218.6 50.1 219.0 50.2 219.5 50.3 219.9 50.3 220.3 50.5 220.7 50.7 221.1 50.5 221.7 50.5 222.4 50.7 223.0 50.8 223.7 50.9 224.3 51.0 225.0 51.1 225.6 51.0 226.3 50.9 226.9 50.8 227.5 50.4 228.0 50.2 228.6 50.0 229.2 49.8 229.8 49.8 230.4 49.6 231.0 49.6 231.6 49.4 232.2 49.2 232.8 48.8 233.3 48.6 233.9 48.5 234.5 48.5 235.1 48.2 235.7 48.1 236.1 47.8 236.4 47.5 236.7 47.2 237.0 46.8 237.1 46.5 237.4 46.1 237.6 45.9 238.0 46.1 238.4 46.2 238.8 46.2 239.2 46.2 239.7 46.1 240.1 45.9 240.5 45.9 240.9 45.8 241.3 45.5 241.8 45.4 242.4 45.3 242.9 45.1 243.4 45.6 243.6 46.2 243.8 46.7 244.0 47.1 244.4 47.5 244.8 47.7 245.3 48.2 245.6 48.5 246.1 48.2 246.3 47.8 246.4 47.5 246.7 47.1 246.8 47.6 246.6 48.2 246.4 48.7 246.3 49.2 246.1 49.2 246.6 49.2 247.0 49.2 247.5 49.2 248.0 49.2 248.5 49.3 249.0 49.6 249.5 49.9 249.8 49.7 250.2 49.6 250.5 49.5 250.9 49.4 251.3 49.5 251.8 49.5 252.3 49.5 252.9 49.4 253.4 49.5 253.9 49.5 254.5 49.8 255.0 49.9 255.5 49.6 256.0 49.3 256.5 49.0 257.1 49.0 257.7 48.6 258.2 48.5 258.8 48.5 259.4 48.6 260.0 49.2 260.0 49.7 259.7 50.3 259.5 50.8 259.3 51.4 259.7 51.9 260.0 52.6 260.0 53.3 260.2 53.9 260.4 54.6 260.3 55.3 260.4 55.9 260.4 56.5 260.3 56.9 260.0 57.3 259.7 57.7 259.4 58.1 259.0 58.6 258.8 59.1 258.6 59.6 258.6 60.0 258.7 60.4 258.6 60.8 258.5 61.2 258.5 61.6 258.5 62.0 258.5 62.3 258.4 62.7 258.3 63.2 258.8 63.6 259.4 63.9 259.6 64.1 259.8 64.5 259.9 64.8 260.0 65.1 260.7 65.6 261.1 66.1 261.5 66.5 262.1 66.7 262.8 66.7 263.4 67.0 264.0 67.2 264.6 67.4 265.1 67.7 265.4 68.0 265.8 68.3 266.2 68.7 266.5 69.0 266.9 69.1 267.3 69.3 267.8 69.7 267.9 70.1 268.1 70.4 268.4 70.7 268.6 71.1 268.9 71.3 269.3 71.7 269.5 72.1 269.6 72.5 269.3 73.0 269.1 73.4 268.8 73.8 268.4 73.9 267.8 74.2 267.2 74.7 266.9 75.0 266.3 75.4 265.8 75.9 265.5 76.4 265.2 76.9 264.9 77.2 264.5 77.5 264.1 78.0 263.9 78.4 263.5 78.8 263.3 79.3 263.1 79.8 263.0 80.3 262.9 80.8 262.8 81.4 262.8 81.9 263.0 82.4 263.1 82.9 262.9 83.4 262.6 84.0 262.7 84.5 262.6 85.1 262.7 85.6 262.5 86.1 262.7 86.6 262.9 87.2 262.9 87.7 262.7 88.2 262.8 88.7 262.9 89.2 262.7 89.7 262.6 90.3 262.7 90.8 262.7 91.2 262.5 91.5 262.3 91.9 262.2 92.3 262.2 92.7 262.0 93.1 261.9 93.5 261.9 93.9 261.8 94.3 262.1 94.8 262.3 95.3 262.5 95.6 262.9 95.8 262.5 96.1 262.1 96.4 261.8 96.5 261.4 96.8 261.1 97.0 260.7 97.4 260.5 97.7 260.2 97.9 259.7 98.4 259.4 98.6 258.9 98.9 258.4 99.0 257.9 99.2 257.4 99.4 256.9 99.8 256.4 100.4 256.2 100.8 255.8 101.3 255.4 101.7 255.0 102.3 254.9 102.9 254.9 103.5 254.8 104.1 254.6 104.5 254.4 105.0 254.3 105.5 254.4 106.0 254.3 106.1 253.6 106.0 253.0 105.8 252.4 105.7 251.7 105.9 251.4 106.0 251.0 106.1 250.7 106.3 250.4 106.3 250.0 106.5 249.6 106.6 249.2 106.7 248.9 107.0 248.6 107.1 248.2 107.4 247.9 107.5 247.6 107.7 247.2 107.9 246.9 108.1 246.7 108.4 246.5 108.7 246.4 109.0 246.1 109.2 245.8 109.5 245.6 109.8 245.3 110.1 245.0 110.4 244.6 110.8 244.4 111.2 244.3 111.7 244.3 112.1 244.1 112.5 243.9 111.9 243.5 111.5 243.0 111.1 242.4 110.9 241.8 110.9 241.1 110.8 240.4 110.6 239.8 110.2 239.2 109.9 238.7 109.6 238.0 109.1 237.5 108.6 237.1 108.7 236.8 109.0 236.5 109.2 236.1 109.4 235.8 109.3 235.4 109.4 235.0 109.5 234.7 109.5 234.3 109.7 233.6 110.1 233.1 110.4 232.5 110.9 231.9 111.3 231.5 111.6 231.0 112.0 230.6 112.4 230.1 112.7 229.7 113.0 229.1 113.3 228.6 113.6 228.1 114.0 227.7 114.4 227.4 114.8 227.0 115.2 226.7 115.7 226.5 116.1 226.1 116.5 225.7 116.9 225.3 117.4 225.0 117.8 224.6 118.2 224.2 118.3 223.6 118.6 223.1 118.9 222.6 119.0 222.1 119.2 221.5 119.7 221.5 120.3 221.3 120.8 221.1 121.2 220.8 121.7 220.4 122.2 220.3 122.8 220.1 123.3 220.1 123.7 220.0 124.1 219.9 124.5 219.9 124.8 219.7 125.1 219.4 125.4 219.2 125.8 219.0 126.1 218.7 126.3 218.1 126.8 217.6 127.3 217.1 127.9 216.8 128.5 216.6 129.0 216.2 129.6 216.0 130.3 215.9 130.7 215.8 131.1 215.6 131.5 215.4 131.8 215.1 132.1 214.9 132.5 214.7 132.8 214.4 133.0 214.0 132.9 213.6 133.0 213.2 132.9 212.8 132.9 212.4 132.8 211.9 132.8 211.5 133.0 211.1 133.0 210.7 133.5 210.5 133.9 210.0 133.6 209.8 133.3 209.6 133.0 209.3 132.8 209.0 132.5 208.7 132.3 208.3 132.1 207.9 132.0 207.4 132.1 206.9 132.1 206.5 132.1 206.0 132.1 205.5 132.0 205.1 131.9 204.6 132.1 204.1 132.0 203.6 132.3 203.2 132.6 202.8 133.0 202.6 133.4 202.2 133.8 201.9 134.0 201.4 134.4 201.2 134.8 200.8 135.1 200.5 135.6 200.2 136.1 200.1 136.5 199.9 137.0 199.5 137.4 199.0 138.0 198.6 138.6 198.4 139.0 198.5 139.5 198.5 139.9 198.6 140.3 198.8 140.7 199.0 141.2 199.1 141.6 199.3 142.0 199.4 142.6 199.6 143.2 200.0 143.9 200.1 144.5 200.3 144.9 200.4 145.3 200.6 145.8 200.6 146.2 200.6 146.6 200.7 147.1 200.8 147.5 200.8 147.9 200.8 148.2 201.0 148.4 201.3 148.6 201.6 149.0 201.7 149.4 201.8 149.7 201.9 150.1 202.0 150.5 202.0 150.8 202.2 151.2 202.4 151.5 202.6 151.9 202.7 152.4 202.7 152.9 202.7 153.4 202.8 153.8 202.7 154.2 202.6 154.5 202.4 154.8 202.2 155.1 201.9 155.5 201.9 155.8 201.7 156.2 201.7 156.6 201.7 156.8 201.2 157.1 200.6 157.6 200.3 158.0 199.9 158.3 199.5 158.5 199.0 159.0 198.8 159.4 198.4 159.6 197.9 160.1 197.6 160.5 197.2 161.1 197.0 161.7 197.0 162.3 196.7 162.7 196.6 163.0 196.3 163.5 196.3 163.9 196.1 164.3 196.0 164.8 195.9 165.3 195.8 165.8 195.4 166.4 195.3 167.0 195.1 167.2 194.6 167.6 194.2 167.9 193.7 168.2 193.2 168.5 192.7 168.8 192.2 169.2 191.8 169.6 191.4 170.0 191.3 170.4 191.0 170.8 191.1 171.2 191.1 171.6 190.9 172.0 190.7 172.3 190.5 172.7 190.3 173.2 190.6 173.6 190.9 174.2 191.1 174.6 191.4 175.2 191.6 175.8 191.8 176.3 192.1 176.9 192.4 177.4 192.8 178.0 193.0 178.5 193.3 179.1 193.5 179.4 193.7 179.7 194.0 179.9 194.3 180.3 194.4 180.6 194.6 180.9 194.8 181.2 194.9 181.5 195.1 181.8 195.5 181.8 195.9 181.8 196.4 181.9 196.8 182.0 197.2 181.9 197.6 182.0 198.1 182.2 198.4 182.4 198.9 182.4 199.3 182.6 199.8 182.6 200.2 182.7 200.7 182.9 201.1 183.2 201.5 183.6 201.7 183.8 202.3 183.8 202.9 183.8 203.5 183.6 204.1 184.0 204.6 184.6 204.9 185.1 205.3 185.7 205.5 186.0 205.9 186.5 206.3 186.8 206.7 187.1 207.2 187.3 207.7 187.5 208.2 187.6 208.8 187.8 209.3 188.2 209.5 188.5 209.9 189.0 210.1 189.3 210.3 189.8 210.5 190.3 210.6 190.8 210.5 191.2 210.7 191.5 211.1 191.8 211.5 192.1 211.9 192.6 212.1 192.8 212.6 193.0 213.0 193.3 213.3 193.8 213.6 194.2 213.8 194.7 213.8 195.0 214.1 195.4 214.5 195.9 214.8 196.4 215.1 196.7 215.6 197.1 216.1 197.3 216.7 197.6 217.2 197.9 217.7 198.2 218.2 198.5 218.5 198.9 218.8 199.2 219.2 199.6 219.4 200.1 219.5 200.5 219.8 200.8 220.1 201.3 220.3 201.7 220.3 202.2 220.3 202.6 220.2 203.1 220.3 203.5 220.2 204.0 220.3 204.4 220.3 204.9 220.5 205.4 220.8 206.0 220.8 206.6 221.1 207.2 221.1 207.1 221.5 207.2 221.8 207.4 222.2 207.5 222.5 207.8 222.8 207.9 223.2 208.1 223.5 208.2 223.9 208.9 223.9 209.6 223.9 209.5 224.5 209.7 225.2 210.0 225.7 210.3 226.3 210.6 226.1 210.9 225.9 211.2 225.8 211.6 225.8 212.0 225.7 212.3 225.8 212.7 225.8 213.0 225.8 213.2 226.1 213.4 226.4 213.7 226.7 214.0 226.9 214.3 227.2 214.5 227.5 214.7 227.8 214.8 228.1 215.1 228.6 215.4 229.0 215.7 229.4 216.0 229.7 216.0 230.3 216.3 230.7 216.5 231.2 216.7 231.6 217.1 231.6 217.5 231.8 217.8 231.9 218.1 232.1 218.5 231.9 218.9 231.9 219.3 231.9 219.6 231.9 219.6 232.4 219.6 232.9 219.8 233.3 219.9 233.8 219.9 234.3 219.9 234.8 220.1 235.3 220.3 235.7 220.7 236.2 220.9 236.8 221.0 237.5 221.0 238.1 221.3 238.7 221.5 239.3 221.7 239.9 222.0 240.4 222.1 240.8 222.2 241.2 222.3 241.6 222.2 242.1 222.2 242.5 222.2 242.9 222.3 243.3 222.4 243.7 221.9 243.9 221.6 244.3 221.1 244.5 220.7 244.7 220.9 245.1 221.1 245.6 221.1 246.0 221.0 246.5 220.7 247.0 220.4 247.5 219.9 247.9 219.6 248.4 219.6 248.8 219.5 249.1 219.4 249.5 219.3 249.8 219.2 250.2 219.3 250.6 219.3 251.0 219.3 251.4 220.0 251.5 220.7 251.6 221.0 251.5 221.3 251.5 221.7 251.5 222.0 251.5 222.2 251.2 222.3 250.9 222.5 250.5 222.7 250.2 222.9 250.0 223.2 249.7 223.3 249.4 223.5 249.1 223.7 248.8 224.0 248.5 224.2 248.3 224.5 248.0 224.9 247.9 225.1 247.6 225.3 247.3 225.5 247.0 225.7 246.7 226.0 246.4 226.3 246.1 226.5 245.8 226.7 245.5 226.8 245.1 226.9 244.7 227.1 244.4 227.4 244.2 227.8 244.0 228.1 243.8 228.4 243.5 228.6 243.2 228.8 242.9 229.1 242.6 229.3 242.3 229.3 241.8 229.2 241.3 229.2 240.9 229.3 240.4 229.3 240.0 229.2 239.7 228.9 239.4 228.7 239.1 228.5 238.8 228.3 238.5 228.1 238.1 227.9 237.8 227.7 237.5 227.5 237.2 227.2 236.9 226.9 236.7 226.8 236.4 226.5 236.1 226.2 235.9 225.9 235.7 225.9 235.3 225.7 234.9 225.5 234.6 225.2 234.3 225.2 233.8 225.3 233.4 225.3 233.0 225.3 232.6 225.4 232.2 225.7 231.8 225.8 231.4 225.9 231.0 226.4 230.6 226.8 230.1 227.3 229.6 227.7 229.1 228.3 228.7 228.9 228.3 229.4 227.9 230.0 227.7 230.6 227.9 231.2 228.2 231.5 228.7 232.1 229.1 232.5 229.3 232.9 229.7 233.4 229.7 233.9 229.9 234.3 230.2 234.8 230.3 235.2 230.6 235.6 231.0 235.4 231.4 235.7 231.8 236.0 232.2 236.4 232.3 236.7 232.7 237.1 232.9 237.5 233.1 237.8 233.5 238.1 233.8 238.3 233.4 238.5 233.0 238.8 232.7 238.9 232.2 238.8 231.8 238.8 231.4 239.0 231.0 239.0 230.5 238.7 230.3 238.4 230.0 238.1 229.8 237.7 229.7 237.5 229.4 237.4 229.0 237.0 228.8 236.8 228.4 236.6 228.1 236.3 227.8 236.1 227.5 236.0 227.1 235.7 226.8 235.6 226.5 235.4 226.1 235.2 225.8 234.8 225.3 234.4 225.0 233.9 224.6 233.4 224.5 232.8 224.5 232.3 224.2 231.8 224.0 231.2 223.9 230.7 223.7 230.3 223.3 229.8 223.2 229.3 222.8 228.8 222.6 228.3 222.2 228.1 221.7 227.7 221.3 227.1 221.1 226.5 220.7 226.0 220.3 225.6 219.8 225.0 219.6 224.4 219.3 223.7 219.2 223.1 219.2 222.8 218.9 222.5 218.6 222.2 218.3 221.8 218.1 221.8 217.7 221.6 217.3 221.3 217.0 221.0 216.6 221.3 216.3 221.7 216.2 222.1 215.9 222.3 215.5 222.5 215.1 222.5 214.7 221.6 213.4 222.9 213.9 222.9 213.3 223.4 213.8 222.5 213.7 222.2 213.2 221.0 212.8 221.3 213.7 221.0 213.5 220.7 212.9 219.8 213.4 219.7 212.9 219.5 212.6 218.1 211.7 218.5 213.1 218.3 212.9 217.5 213.3 217.3 212.8 218.3 214.1 217.2 213.7 216.9 213.7 216.3 213.8 215.4 215.2 215.3 213.7 216.3 212.6 215.3 212.8 214.8 211.6 214.4 213.0 213.7 212.8 214.3 212.2 214.2 212.1 213.7 211.9 213.1 211.8 212.3 212.1 212.1 211.8 212.1 211.4 213.3 210.2 211.8 210.5 211.3 210.7 212.7 210.2 211.3 209.9 211.2 209.9 211.2 209.2 210.8 209.3 209.6 210.3 210.4 209.1 210.4 209.0 210.0 209.1 209.6 209.0 208.0 209.3 209.1 208.3 209.3 208.0 210.3 207.2 209.3 207.0 208.7 207.0 208.3 206.6 208.2 206.0 207.9 205.5 207.8 204.8 207.2 204.0 206.8 204.4 206.8 204.1 206.3 204.0 206.4 203.4 205.1 203.0 206.1 202.5 205.4 201.4 205.3 202.9 205.2 202.6 206.5 201.5 205.0 201.7 205.6 200.8 204.5 201.3 204.6 201.1 204.4 200.6 204.5 200.1 204.7 199.7 204.7 199.2 203.1 198.6 204.6 198.3 204.0 197.8 204.8 197.8 204.0 197.9 204.1 197.5 204.0 197.4 203.5 197.2 203.2 196.8 202.7 196.6 202.3 196.3 201.8 196.1 201.4 195.9 200.9 195.6 200.7 195.2 200.4 194.9 200.0 194.7 199.7 194.4 199.2 194.3 198.8 194.1 198.5 193.9 198.2 193.5 198.0 193.1 197.9 192.6 197.7 192.1 197.4 191.7 197.3 191.2 197.0 190.8 196.8 190.3 196.4 190.0 196.4 189.3 196.6 188.7 196.6 188.1 196.8 187.5 196.9 186.9 197.2 186.3 197.5 185.8 197.8 185.2 197.3 184.7 196.9 184.2 196.8 183.9 196.6 183.6 196.5 183.2 196.4 182.9 196.5 182.3 196.3 181.7 196.3 181.1 196.4 180.5 196.9 180.3 197.4 180.1 197.9 180.0 198.4 180.0 198.9 179.8 199.4 179.6 199.8 179.4 200.2 179.1 200.6 178.8 200.9 178.4 201.2 178.0 201.6 177.7 202.2 177.8 202.7 178.1 203.3 178.4 203.8 178.7 204.4 178.8 204.9 178.9 205.5 178.7 206.1 178.6 205.8 179.0 205.7 179.4 205.3 179.7 205.1 180.1 204.6 180.2 204.4 180.5 205.3 180.6 205.0 181.1 205.0 181.2 205.3 181.6 206.6 181.4 205.9 182.3 204.3 181.9 205.0 182.7 205.4 182.9 205.0 183.3 205.1 183.8 205.3 184.2 205.5 184.5 206.4 184.6 206.2 185.1 206.8 185.8 206.7 184.6 205.1 185.0 206.1 185.5 206.2 185.6 206.4 186.0 206.8 186.2 207.0 185.9 207.0 185.5 207.3 185.2 205.7 185.0 207.1 184.4 207.6 183.5 207.9 184.7 207.9 184.7 208.2 184.5 208.5 184.3 208.6 183.1 209.3 183.7 208.9 183.2 209.2 183.1 208.4 182.2 209.6 182.6 209.2 182.4 209.8 182.4 210.7 181.2 210.7 182.6 210.4 181.9 211.0 181.7 211.1 182.2 211.0 183.4 211.8 182.8 212.0 182.5 212.5 182.5 212.9 182.7 213.2 183.1 213.3 183.6 213.7 183.8 213.9 184.4 214.2 184.8 215.3 183.8 215.2 185.0 215.1 185.5 215.5 186.2 215.1 186.4 215.7 186.7 215.1 187.0 215.8 187.2 215.3 187.5 215.0 188.0 215.6 188.0 216.4 186.7 216.4 187.7 217.2 186.9 216.9 188.1 216.4 188.5 216.4 190.0 217.2 189.2 217.5 189.3 216.3 190.1 217.4 190.3 217.2 190.4 216.9 190.9 216.9 191.5 216.9 192.1 216.4 192.4 216.3 193.1 216.6 193.4 217.0 194.5 217.4 193.6 217.9 193.0 217.8 193.8 217.8 193.9 218.3 194.3 218.2 194.6 218.1 194.7 219.3 194.7 218.7 195.4 218.9 195.1 219.3 195.2 219.7 193.9 220.1 195.1 219.2 196.7 220.3 195.7 220.3 195.5 220.1 196.1 220.4 196.3 220.6 196.1 220.9 196.4 220.2 197.1 221.1 197.1 222.3 197.1 221.2 197.6 221.4 197.6 222.0 197.5 222.3 198.0 222.8 197.9 222.9 198.9 223.5 198.5 224.4 198.4 223.5 199.0 223.8 198.9 224.3 198.9 225.1 198.0 225.2 199.0 225.3 199.0 225.8 198.7 226.2 199.0 226.7 198.8 227.0 199.3 227.5 200.2 226.9 200.3 227.4 200.1 227.9 200.3 228.6 200.4 228.9 201.0 229.4 201.5 228.6 202.3 229.3 202.6 229.9 202.3 230.6 202.2 231.2 203.1 231.3 202.2 231.3 202.5 232.0 202.7 231.6 203.1 231.4 203.2 231.8 203.5 232.2 203.8 232.6 204.1 232.8 204.6 233.7 204.3 233.8 204.8 233.6 205.3 234.9 204.5 234.4 205.8 234.7 205.5 235.2 206.3 235.5 205.9 235.9 206.1 235.8 206.4 235.9 206.5 237.3 206.3 236.5 207.2 236.5 207.3 236.3 208.1 236.7 208.2 237.0 208.1 237.2 208.5 237.7 208.4 238.2 208.3 238.3 209.1 238.7 209.1 239.0 208.8 239.4 209.0 239.8 208.9 240.0 209.2 240.4 209.3 240.5 209.8 240.9 210.1 241.2 210.6 240.9 211.1 240.9 212.8 241.7 211.4 242.5 211.1 242.0 211.9 241.9 213.0 242.5 211.9 243.2 211.7 242.8 212.4 243.4 213.6 243.6 212.1 244.2 212.4 243.5 212.9 243.7 212.8 243.8 214.0 244.4 213.2 244.5 212.8 244.6 213.3 244.9 214.8 245.5 213.6 246.1 213.9 245.3 214.3 245.7 215.3 244.6 214.6 245.3 214.7 246.7 215.5 245.2 215.6 245.6 215.5 245.9 215.9 246.1 216.4 246.1 216.8 246.0 217.3 246.1 217.8 246.0 218.3 245.9 218.7 245.7 219.2 245.6 219.7 245.6 220.2 245.6 220.6 245.4 221.1 245.1 221.5 245.1 222.0 245.3 222.5 245.4 223.0 245.3 223.4 245.3 223.8 245.2 224.2 245.0 224.5 244.7 224.8 244.9 225.2 244.9 225.5 244.9 225.9 244.9 226.3 245.2 226.6 245.4 226.9 245.6 227.3 245.8 227.7 245.2 227.9 244.6 228.1 244.8 228.4 245.0 228.7 245.3 228.9 245.5 229.2 245.8 229.4 246.2 229.5 246.4 229.7 246.6 230.0 246.9 230.5 247.1 231.0 247.4 231.4 247.8 231.8 248.1 232.2 248.6 232.5 248.9 232.9 249.4 233.1 249.9 233.5 250.2 234.1 250.5 234.7 250.8 235.2M127.1 235.9L127.7 235.5 128.1 235.0 128.6 234.6 128.9 234.0 129.4 233.7 129.9 233.3 130.5 233.1 131.0 232.7 131.5 232.5 132.0 232.4 132.5 232.3 133.0 232.3 132.8 232.9 132.3 233.3 132.6 233.6 132.9 233.8 133.2 234.0 133.4 234.3 133.7 234.5 134.1 234.5 134.5 234.4 134.9 234.6 134.8 234.9 134.6 235.2 134.6 235.6 134.6 235.9 134.3 236.2 134.1 236.5 133.9 236.8 133.7 237.1 133.5 237.7 133.0 238.1 132.5 238.5 132.0 238.8 131.8 238.5 131.4 238.3 131.1 238.1 130.9 237.8 130.6 237.5 130.4 237.2 130.1 237.0 129.9 236.6 129.5 236.3 129.0 236.2 128.7 236.7 128.2 237.1 127.9 236.8 127.8 236.4 127.5 236.1 127.1 235.9M137.2 231.4L137.7 231.5 138.3 231.6 138.8 231.4 139.3 231.3 139.7 231.7 140.1 232.1 140.3 232.7 140.7 233.1 140.3 233.1 139.9 233.0 139.6 233.1 139.2 233.1 138.9 232.9 138.6 232.7 138.3 232.6 137.9 232.6 137.7 231.9 137.2 231.4M119.3 241.8L119.7 241.5 120.2 241.2 120.6 240.8 120.9 240.4 121.4 240.7 122.0 240.9 121.8 241.3 121.7 241.7 121.6 242.1 121.6 242.6 121.3 242.5 120.9 242.5 120.6 242.7 120.2 242.8 119.8 242.3 119.3 241.8M120.6 244.0L121.0 244.3 121.6 244.4 121.2 244.4 120.9 244.7 120.7 244.4 120.6 244.0M176.0 203.6L175.8 204.0 175.8 204.5 176.0 204.9 175.9 205.3 176.1 205.7 176.2 206.1 176.2 206.5 176.3 206.9 176.3 207.6 176.1 208.3 176.3 208.9 176.5 209.5 176.5 210.2 176.7 210.9 176.8 211.5 177.0 212.1 176.8 212.6 176.7 213.1 176.5 213.6 176.2 213.9 176.1 214.4 175.9 214.9 175.9 215.4 176.0 215.9 175.9 216.3 175.8 216.8 175.6 217.2 175.4 217.6 175.1 217.9 174.9 218.3 174.6 218.6 174.3 218.9 173.9 218.8 173.6 218.5 173.3 218.3 172.9 218.3 172.7 218.0 172.4 217.8 172.1 217.6 171.8 217.3 171.7 216.9 171.7 216.4 171.7 215.9 171.8 215.5 171.7 215.1 171.5 214.6 171.4 214.2 171.1 213.8 171.0 213.4 170.7 213.0 170.6 212.5 170.4 212.1 170.1 211.6 170.1 211.0 170.0 210.4 170.1 209.8 170.5 209.3 171.0 208.9 171.3 208.3 171.5 207.7 171.8 207.5 172.1 207.4 172.4 207.2 172.7 207.0 173.1 206.9 173.4 206.7 173.6 206.5 173.9 206.3 174.3 206.3 174.6 206.3 174.9 206.5 175.3 206.6 175.3 206.3 175.2 205.9 175.1 205.5 175.2 205.1 175.4 204.8 175.4 204.4 175.5 204.0 175.6 203.6 176.0 203.6M167.7 223.0L168.1 223.0 168.4 222.9 168.8 223.0 169.2 223.1 169.4 223.4 169.7 223.6 170.1 223.9 170.4 223.9 170.9 223.4 171.5 223.1 172.0 222.6 172.4 222.1 172.8 221.5 173.2 221.0 173.8 220.6 174.3 220.1 174.6 220.5 175.0 220.8 175.3 221.2 175.6 221.6 176.1 221.8 176.5 222.1 176.9 222.4 177.4 222.5 177.4 223.0 177.4 223.5 177.3 224.0 177.3 224.5 177.5 224.9 177.7 225.3 178.0 225.8 178.1 226.3 178.0 226.6 178.0 227.0 178.0 227.3 178.1 227.7 178.0 228.1 177.8 228.4 177.7 228.7 177.7 229.1 177.7 229.5 177.9 229.8 177.9 230.1 177.9 230.5 178.1 230.8 178.1 231.2 178.1 231.6 178.1 231.9 177.8 232.5 177.7 233.1 177.6 233.7 177.4 234.2 177.5 234.8 177.6 235.4 177.7 236.0 177.7 236.6 177.6 237.0 177.5 237.5 177.3 237.8 177.1 238.2 176.9 238.6 176.9 239.1 177.0 239.5 177.0 239.9 176.6 239.9 176.2 239.9 175.8 239.9 175.4 239.8 175.1 239.6 174.7 239.5 174.3 239.6 173.9 239.5 173.7 240.0 173.6 240.5 173.3 241.0 172.9 241.3 172.3 241.4 171.7 241.6 171.2 241.9 170.8 242.3 170.3 242.0 169.8 241.7 169.5 241.2 169.1 240.9 169.2 240.3 169.3 239.8 169.4 239.3 169.7 238.8 169.8 238.2 169.7 237.7 169.5 237.2 169.4 236.6 169.5 236.1 169.4 235.7 169.3 235.2 169.1 234.7 169.3 234.3 169.5 233.8 169.5 233.3 169.7 232.9 169.6 232.4 169.5 231.9 169.3 231.5 169.2 231.0 169.1 230.5 169.1 230.1 169.0 229.6 169.1 229.1 169.0 228.5 168.9 227.9 168.6 227.3 168.4 226.7 168.1 226.4 167.8 226.1 167.6 225.7 167.3 225.3 167.3 224.7 167.4 224.1 167.7 223.6 167.7 223.0M218.6 248.2L218.3 248.7 218.2 249.2 218.1 249.8 217.9 250.3 217.6 250.8 217.5 251.3 217.2 251.8 216.9 252.2 216.8 252.6 216.5 253.0 216.2 253.4 216.1 253.8 215.8 254.2 215.7 254.6 215.7 255.1 215.5 255.5 215.7 255.8 215.8 256.2 215.9 256.5 216.1 256.9 216.2 257.3 216.4 257.6 216.4 257.9 216.5 258.3 216.6 258.7 216.7 259.0 216.7 259.4 216.9 259.7 216.5 260.1 216.3 260.5 216.0 260.9 215.9 261.4 215.6 261.8 215.5 262.3 215.6 262.8 215.5 263.2 214.9 263.2 214.4 263.3 213.8 263.3 213.3 263.1 212.9 262.8 212.4 262.6 211.8 262.4 211.3 262.3 211.1 262.0 210.8 261.7 210.6 261.3 210.5 261.0 210.2 260.7 209.9 260.5 209.8 260.1 209.6 259.7 209.0 259.5 208.6 259.1 208.0 258.8 207.5 258.5 206.9 258.5 206.3 258.5 205.7 258.5 205.1 258.3 204.8 257.9 204.4 257.6 203.8 257.4 203.3 257.2 202.8 256.8 202.4 256.4 202.0 256.0 201.4 255.8 200.9 255.5 200.6 255.0 200.0 254.7 199.4 254.6 198.8 254.3 198.2 254.1 197.9 253.7 197.6 253.4 197.4 253.0 197.1 252.7 197.3 252.2 197.4 251.7 197.3 251.1 197.5 250.6 197.9 250.3 198.3 249.8 198.8 249.5 199.2 249.1 199.8 249.2 200.4 249.2 201.0 249.4 201.6 249.4 202.1 249.4 202.5 249.3 202.9 249.5 203.3 249.6 204.0 249.8 204.6 250.2 205.2 250.5 205.8 250.8 206.3 250.6 206.8 250.5 207.3 250.6 207.8 250.5 208.4 250.6 208.9 250.6 209.4 250.6 209.9 250.7 210.5 250.6 211.0 250.5 211.5 250.4 212.0 250.3 212.6 250.1 213.1 249.7 213.6 249.3 214.1 248.9 214.7 248.8 215.3 248.6 215.9 248.6 216.5 248.4 217.0 248.2 217.5 248.2 218.1 248.2 218.6 248.2M180.8 205.7L181.4 205.4 182.0 205.3 182.7 205.3 183.3 205.0 183.1 205.6 183.0 206.3 182.5 206.3 181.9 206.1 181.4 206.1 180.8 206.0 180.8 205.7M209.2 269.0L209.7 269.2 210.3 269.4 209.7 269.4 209.2 269.6M110.2 270.1L110.5 269.9 110.8 269.7 111.2 269.7 111.5 269.6 111.9 269.5 112.2 269.2 112.6 269.3 112.9 269.2 113.3 268.8 113.7 268.4 114.2 268.2 114.7 267.9 115.2 267.9 115.8 267.9 116.3 267.7 116.8 267.6 117.3 267.4 117.8 267.1 118.3 266.9 118.6 266.4 118.8 265.9 119.1 265.5 119.5 265.1 119.9 264.7 120.5 264.5 121.1 264.4 121.7 264.3 122.3 264.4 122.9 264.2 123.5 263.9 124.1 263.9 124.7 264.0 125.1 264.0 125.5 263.9 125.9 264.0 126.3 264.0 126.7 264.0 127.1 263.9 127.5 263.9 127.8 264.0 128.3 263.6 128.7 263.2 129.2 263.0 129.8 262.9 130.3 262.6 130.8 262.4 131.4 262.4 132.0 262.4 132.4 262.4 132.7 262.4 133.0 262.2 133.4 262.1 134.0 262.0 134.5 261.7 135.1 261.7 135.7 261.7 136.3 261.6 136.8 261.3 137.3 261.0 137.9 261.0 138.5 261.1 139.1 261.1 139.7 260.9 140.3 260.8 140.9 260.9 141.5 260.9 142.1 261.2 142.7 261.2 143.2 261.3 143.6 261.4 144.0 261.7 144.3 262.0 144.7 262.2 145.2 262.4 145.6 262.6 146.1 262.6 146.4 262.8 146.8 262.9 147.1 263.0 147.4 263.3 147.8 263.4 148.2 263.6 148.6 263.6 149.0 263.5 149.4 263.1 149.9 262.7 150.3 262.3 150.8 261.9 151.3 261.7 151.7 261.5 152.2 261.5 152.6 261.3 153.0 261.0 153.3 260.6 153.7 260.3 154.2 260.2 154.7 260.1 155.3 260.1 155.8 260.2 156.4 260.2 157.0 260.5 157.4 261.0 158.1 261.1 158.7 261.3 159.3 261.0 159.7 260.5 160.0 259.9 160.5 259.5 161.0 259.8 161.6 259.9 162.2 259.9 162.8 259.8 163.3 260.1 163.9 260.3 164.4 260.7 164.7 261.2 165.1 260.9 165.6 260.9 166.0 260.8 166.5 260.7 167.0 260.7 167.4 260.8 167.9 260.8 168.4 260.7 168.7 260.8 169.1 260.9 169.6 260.9 170.0 260.9 170.4 260.8 170.8 260.8 171.2 260.7 171.6 260.6 171.9 260.3 172.3 260.1 172.7 259.9 173.2 259.8 173.4 259.5 173.8 259.2 174.2 258.9 174.6 258.8 175.1 258.5 175.7 258.4 176.3 258.4 176.9 258.3 177.5 257.9 178.0 257.7 178.6 257.8 179.2 257.7 179.8 257.9 180.4 257.9 181.0 258.0 181.5 258.3 182.1 258.5 182.0 259.2 182.1 259.9 181.9 260.2 181.7 260.5 181.6 260.8 181.5 261.2 182.0 261.4 182.3 261.7 182.6 262.2 182.9 262.6 183.3 262.4 183.7 262.2 183.9 261.8 184.3 261.6 184.4 261.3 184.7 261.0 184.9 260.8 185.2 260.5 185.5 260.4 185.8 260.2 186.1 259.9 186.4 259.7 186.9 259.6 187.4 259.5 187.1 259.8 187.0 260.3 186.7 260.7 186.5 261.1 186.3 261.6 186.2 262.1 186.3 262.5 186.4 263.0 186.2 263.5 186.2 263.9 185.9 264.3 185.6 264.7 185.3 265.0 185.0 265.3 184.6 265.5 184.3 265.9 184.2 266.4 184.1 267.0 184.1 267.5 184.3 268.0 183.9 268.5 183.7 269.0 183.8 269.6 183.6 270.1M170.8 260.7L170.7 261.3 170.5 261.9 170.3 262.6 170.4 263.2 169.9 263.7 169.5 264.2 169.3 264.8 169.1 265.4 169.1 266.0 169.0 266.6 169.1 267.2 169.0 267.8 168.8 268.4 168.7 269.0 168.7 269.6 168.4 270.1M211.3 182.4L211.4 183.1 211.9 183.6 212.2 183.8 212.3 184.2 212.8 185.4 213.1 184.3 213.0 184.3 212.5 184.1 211.4 183.1 211.6 184.4 212.0 183.7 211.5 183.4 209.9 183.4 211.1 182.6 209.9 182.2 211.3 182.0M210.3 183.8L210.0 184.1 209.7 184.4 209.7 184.8 209.5 185.1 209.2 185.5 209.3 185.9 209.1 186.2 209.1 186.6 210.2 186.8 209.5 187.4 209.2 187.5 209.6 187.6 209.8 188.0 210.0 188.4 209.4 189.5 210.4 189.0 210.4 189.4 210.8 189.2 211.0 189.0 210.8 188.6 210.6 188.2 210.3 187.8 209.9 187.6 210.5 186.8 209.8 186.7 210.6 186.4 210.0 186.1 209.9 185.7 210.4 185.7 210.4 184.9 211.0 185.6 211.6 185.1 210.7 184.9 210.6 184.8 210.9 184.1 210.7 183.8 210.7 183.1 210.0 183.5M212.7 187.6L213.7 187.0 213.4 188.0 213.2 188.1 214.0 188.1 213.8 188.6 213.5 188.8 213.8 188.5 215.0 189.7 214.5 188.2 214.8 187.2 215.0 188.4 216.1 188.1 215.2 189.1 215.2 189.3 215.6 189.8 215.6 190.5 216.2 190.9 215.1 190.0 215.3 191.2 215.1 190.9 215.9 190.3 215.4 189.9 215.8 189.5 215.5 189.3 215.1 189.2 214.8 188.6 215.5 187.8 214.6 187.9 213.6 188.0 214.5 187.5 214.4 186.5 213.9 187.7 214.9 186.5 213.7 187.2 213.9 186.4 213.3 187.3 213.1 187.6 213.0 187.2 213.0 187.5 212.7 187.6M214.1 192.8L214.5 193.1 214.8 193.5 214.9 194.4 215.4 194.1 216.6 194.1 215.4 194.7 215.7 195.3 216.2 194.8 216.0 195.1 216.4 195.5 217.3 194.8 217.2 195.7 216.2 195.6 215.8 195.3 215.6 194.8 214.9 194.4 214.7 194.8 213.9 195.3 214.3 194.3 216.0 194.3 215.1 193.7 214.9 193.5 214.0 193.3 214.2 192.9 214.1 192.8M224.5 200.0L225.0 201.2 225.4 200.2 225.4 199.8 225.8 199.9 226.4 199.3 226.7 199.8 226.8 199.7 227.3 199.8 227.4 200.4 227.9 200.6 227.4 200.4 226.8 200.8 226.2 200.8 225.9 201.3 225.4 201.1 224.9 201.0 223.9 200.6 224.6 200.1 224.5 200.0M224.5 201.7L223.1 202.5 224.5 202.6 224.7 202.6 225.1 202.9 225.6 202.9 225.1 204.1 226.1 203.6 226.8 203.1 226.6 203.8 226.9 203.3 227.1 203.6 227.1 203.4 227.5 203.3 227.8 202.9 228.2 202.8 228.7 203.4 229.0 203.1 229.0 202.9 229.4 202.7 229.6 202.3 230.3 202.7 230.4 202.1 229.4 202.5 228.8 202.3 228.3 202.7 228.2 203.6 227.8 203.6 227.6 202.8 227.0 202.7 226.3 203.2 226.0 202.8 225.8 202.0 225.5 202.6 224.4 203.0 225.3 202.0 225.1 202.3 225.6 201.4 224.8 201.5 224.5 201.7M226.6 203.9L227.7 203.4 227.3 204.4 227.5 204.1 227.3 202.9 228.2 203.5 229.0 204.7 228.7 203.4 229.4 203.3 229.1 204.1 229.6 204.1 229.7 203.6 230.2 203.5 230.0 204.2 230.0 204.3 229.8 204.6 229.4 204.9 229.0 205.0 228.7 205.2 228.3 204.9 227.9 204.8 227.5 204.7 227.2 204.4 226.8 204.2 226.6 203.6 226.3 203.6M229.3 203.6L229.7 202.3 230.2 203.4 230.3 203.6 230.9 204.2 231.2 203.9 231.6 204.2 231.7 203.7 231.2 204.3 231.7 204.8 232.2 205.2 232.8 205.0 232.6 203.9 232.0 204.7 232.1 204.6M143.8 107.9L144.1 108.1 144.3 108.3 144.6 108.6 144.8 108.9 144.4 109.0 144.1 109.3 144.0 109.0 144.0 108.6 143.9 108.3 143.8 107.9M145.5 106.5L146.0 106.3 146.6 106.4 147.1 106.2 147.6 105.9 148.1 105.7 148.6 105.3 149.1 105.3 149.7 105.1 150.2 104.8 150.8 104.5 151.4 104.5 152.0 104.3 152.7 104.1 153.3 104.2 153.9 104.4 154.5 104.6 155.1 104.5 155.7 104.4 156.4 104.3 157.0 104.0 157.5 103.7 158.1 103.6 158.8 103.5 159.4 103.2 159.7 103.1 160.1 103.0 160.3 102.7 160.6 102.5 161.0 102.3 161.3 102.1 161.6 102.0 162.0 102.0 162.4 102.0 162.7 102.2 163.1 102.2 163.4 102.3 163.8 102.3 164.2 102.1 164.5 102.1 164.9 102.0M95.3 144.7L95.7 144.8 96.1 144.9 96.6 145.0 97.0 145.0 96.7 145.1 96.3 145.2 96.0 145.3 95.6 145.4 95.5 145.1 95.3 144.7M92.5 142.3L93.0 142.3 93.6 142.3 93.3 142.8 92.9 143.1 92.8 142.7 92.5 142.3M247.0 233.8L247.5 234.0 248.0 234.0 248.5 234.2 249.1 234.3 249.4 234.6 249.6 235.0 249.7 235.4 249.8 235.8 249.7 236.3 249.9 236.7 249.9 237.2 250.1 237.6 249.7 237.1 249.4 236.5 248.9 236.1 248.4 235.7 248.1 235.1 247.8 234.6 247.4 234.2 247.0 233.8M66.5 71.3L67.0 71.7 68.0 71.9 67.9 71.2 68.2 72.0 67.6 72.3 67.2 72.1 66.6 70.6 66.3 72.0 66.1 71.6 66.4 71.2 66.1 71.1 66.5 70.9M68.1 72.4L68.6 72.6 68.6 73.5 68.0 73.1 66.9 72.7 67.9 72.0M64.8 74.6L65.2 74.5 65.5 74.7 66.0 75.1 66.3 74.8 66.2 74.9 65.4 75.2 65.4 75.5 65.2 76.7 64.8 75.4 65.2 74.7 64.8 74.7 64.8 74.6M62.7 76.1L63.2 76.1 63.4 75.7 64.2 75.4 64.2 76.0 63.8 76.7 64.4 76.4 63.0 75.6 63.3 76.6 63.4 76.8 61.8 76.7 63.0 76.0 62.2 77.0 62.4 76.0M67.6 80.1L68.0 80.0 68.1 80.8 68.6 80.5 67.9 80.9 67.6 80.5 66.4 80.0 67.5 79.7M69.0 67.4L68.8 68.5 69.6 67.9 69.3 68.0 68.8 68.3 69.0 67.9 69.0 67.4M72.1 75.9L72.5 76.2 73.1 76.3 72.8 76.4 72.0 75.8 72.0 76.6 73.0 74.9 71.8 76.0 72.1 75.9M71.0 83.9L70.7 84.8 71.4 84.7 70.9 82.9 70.4 84.2 71.0 83.9M75.5 82.2L75.0 83.4 76.1 82.9 77.4 81.9 76.5 83.2 75.0 82.7 75.7 83.6 75.5 83.4 73.8 83.1 75.2 82.4 76.5 82.3 75.7 81.8M72.8 76.8L73.3 75.0 73.7 76.7 74.3 76.3 73.7 75.8 74.7 76.7 74.4 75.7 74.2 75.4 75.4 74.9 74.5 74.4 73.7 73.8 74.5 73.7 74.8 73.9 75.3 74.6 75.6 74.0 75.1 72.9 75.8 73.4 75.5 73.3M73.8 62.7L75.0 62.2 74.7 63.1 75.0 62.8 76.5 62.4 75.7 63.5 75.7 64.2 76.2 63.8M70.7 66.0L71.3 66.0 72.5 65.7 72.0 66.6 71.8 67.8 72.6 66.8 72.8 66.4M71.7 70.5L72.1 70.7 72.3 72.0 72.9 71.0 73.0 70.6 73.5 70.7M69.3 74.6L70.2 74.0 70.4 74.5 70.7 74.6 71.1 74.8 71.5 75.0 71.9 74.0 72.3 74.8 72.1 74.4M77.3 81.2L77.2 80.8 77.3 80.4 77.5 80.0 77.6 79.6M73.5 82.5L73.8 82.1 75.0 83.4 74.6 81.8 74.8 81.9 75.0 81.4 75.3 80.9 74.4 80.6 74.7 80.1 74.2 79.5 75.1 79.5 75.5 79.6 75.7 79.3 74.8 78.0 76.1 78.7 76.1 77.5 76.7 78.8 76.4 78.0 76.9 78.5M91.5 50.4L91.7 50.7 92.1 50.9 92.4 50.8 92.9 50.9 92.4 51.3 91.6 50.9 91.4 51.4 91.5 50.6 91.7 50.4 92.4 49.5 91.2 50.1M89.7 50.9L90.2 51.1 90.8 51.1 90.6 51.5 90.1 51.6 89.4 51.5 89.4 51.1 88.6 50.6 89.8 50.5M90.4 54.2L89.4 55.4 90.8 55.0 91.1 54.8 89.9 53.7 90.4 55.2 90.4 55.1 89.9 54.6 90.0 54.3 90.4 54.2M99.8 40.5L100.9 41.3 100.7 40.1 101.7 41.3 101.2 39.8 101.8 41.3 100.4 40.7 100.8 40.8 100.7 41.1 100.5 41.4 99.4 41.1 100.0 40.5 99.8 40.5M103.3 41.4L103.8 41.5 104.3 41.9 104.6 42.8 104.2 43.0 103.5 43.2 103.2 43.0 103.0 42.6 103.1 42.2 103.2 42.2 103.3 41.8 104.4 41.0 103.2 41.0M104.6 37.5L105.1 37.3 105.5 37.7 103.8 36.9 104.7 38.3 104.6 37.5M64.1 24.5L64.5 25.5 64.9 24.7 64.7 24.9 65.1 25.1 65.5 24.9 64.6 24.6 64.5 25.2 64.5 25.9 64.1 25.6 65.3 24.7 64.6 24.4 64.1 24.5M66.2 22.1L66.9 23.7 67.1 22.1 68.2 22.3 67.0 22.9 66.5 22.8 67.0 24.4 65.9 23.3 65.9 22.6 66.2 22.1M145.9 39.5L146.4 39.2 147.0 39.4 145.8 41.0 147.4 40.0 147.5 39.8 147.2 40.1 148.7 40.7 147.2 40.9 148.9 42.0 146.9 41.3 146.9 41.3 146.6 41.6 146.7 43.0 145.9 42.1 144.7 41.9 145.9 41.2 144.3 42.3 145.6 41.0 145.4 41.2 143.5 42.4 144.9 40.7 143.0 39.9 145.3 40.1 145.2 40.1 144.7 37.8 145.9 39.7 144.8 38.6 146.1 39.2M146.9 44.3L147.4 44.3 147.5 44.8 147.9 45.0 148.3 45.2 148.0 46.2 147.4 45.6 149.3 45.6 148.1 46.3 147.6 45.9 147.2 46.1 147.1 45.2 146.5 45.7 148.5 45.9 147.2 45.1 146.7 45.2 146.3 45.3 146.9 44.9 149.1 44.2 146.9 43.9M144.5 33.9L144.8 34.2 145.0 34.6 144.2 36.4 145.7 35.2 146.5 36.8 146.2 34.7 143.6 34.1 145.4 35.5 145.5 32.8 144.8 35.0 145.0 35.5 143.3 34.9 144.6 36.1 144.7 35.3 144.7 34.8 146.3 33.1 144.3 34.0 144.5 33.9M149.0 20.7L150.2 20.1 149.7 21.2 149.7 21.4 150.0 20.8 150.6 20.9 151.1 21.0 151.5 20.6 150.4 19.2 151.9 19.9 152.2 19.6 151.8 19.3 152.3 20.0 152.0 21.0 152.5 21.1 153.4 22.7 151.8 21.3 151.7 21.3 152.3 22.2 151.3 22.1 151.4 22.2 151.8 20.8 150.8 21.5 150.6 21.8 150.1 21.7 149.7 21.6 148.8 21.0 149.4 20.6 148.3 21.5 148.6 20.5M162.8 12.7L163.4 12.7 163.0 15.1 164.2 13.1 164.2 12.5 165.5 13.4 165.0 12.1 165.0 11.7 165.1 11.1 165.2 11.6 165.6 11.7 166.1 11.6 167.3 11.7 166.5 10.9 166.7 11.4 167.1 11.5 167.0 10.9 168.4 12.1 167.9 10.5 167.6 11.0 167.8 11.3 168.0 11.6 168.8 10.6 168.8 11.8 167.9 11.6 167.5 12.7 167.0 11.8 166.9 12.0 166.4 11.8 165.9 12.1 165.7 12.5 165.5 13.1 164.9 13.1 164.6 11.5 164.1 13.0 164.8 10.7 163.7 12.7 164.2 12.5 164.8 11.6 164.0 11.6 163.4 10.0 163.3 12.1 163.3 12.1 162.4 12.6 163.2 13.0 162.8 12.7M169.7 9.4L170.0 8.9 169.5 7.6 170.6 8.0 170.6 7.8 171.1 7.4 171.3 7.9 171.4 8.7 170.9 8.6 171.6 8.4 171.7 8.8 172.1 7.7 172.6 8.6 172.6 9.0 173.4 10.3 173.5 8.9 173.2 8.4 173.8 8.6 171.4 9.2 173.7 9.6 174.2 9.0 173.2 11.2 174.9 9.6 174.0 9.6 173.6 10.1 173.1 10.6 173.3 11.3 173.2 10.9 173.2 10.5 172.6 12.2 172.4 10.5 172.4 10.4 172.0 10.2 171.3 10.1 171.5 9.6 171.1 12.3 170.9 9.9 171.1 10.3 170.7 10.0 170.6 9.6 170.5 8.7 170.0 8.8 169.7 9.4M240.4 48.0L240.5 46.4 241.2 47.7 242.3 48.0 241.4 47.1 241.7 47.4 242.1 48.3 242.5 47.7 242.2 48.2 241.6 48.5 241.5 49.0 240.4 49.1 240.8 49.8 240.2 49.7 240.4 49.1 240.6 48.8 241.1 48.2 240.6 48.0 241.0 47.5 240.2 47.7M238.3 49.9L238.8 49.9 239.1 49.8 239.5 50.0 239.7 50.4 239.3 50.8 237.9 50.8 238.8 51.7 238.9 50.6 238.6 50.6 238.8 50.5 238.6 50.2 239.0 48.9 238.0 49.6M250.1 39.5L249.7 40.5 250.5 40.3 250.5 40.4 251.0 40.2 252.1 39.8 251.8 40.7 252.6 41.8 251.1 41.4 250.8 41.9 250.4 41.5 251.1 41.8 252.4 43.4 250.6 42.7 251.7 41.4 250.6 41.5 250.8 41.4 251.2 41.2 251.4 40.7 251.0 39.8 251.6 39.7 250.6 40.3 250.7 39.7 250.6 39.7 250.1 39.5M173.2 72.1L173.3 72.4 173.5 73.1 174.0 72.9 174.0 72.6 174.3 72.7 174.2 73.0 174.2 73.4 174.3 73.7 175.2 73.5 174.9 74.2 174.8 74.3 175.2 74.4 174.1 75.1 175.3 75.1 175.4 75.1 176.3 75.1 176.4 75.4 176.7 75.4 176.9 75.1 177.3 74.8 177.4 74.4 177.6 74.1 177.6 73.6 178.0 73.4 178.9 72.5 177.8 72.6 177.9 72.2 178.2 72.2M183.9 81.5L183.9 82.4 184.3 82.5 184.6 82.5 184.2 82.9 184.0 82.6 185.0 81.7 183.8 81.9 184.0 81.9 183.1 81.4 183.9 81.1M178.8 90.0L179.7 90.2 179.6 89.5 180.0 89.9 180.0 90.2 180.8 89.7 180.4 90.5 180.5 90.5 180.2 91.1 179.8 90.9 179.9 90.8 180.1 92.1 179.2 91.3 179.4 91.4 179.8 90.8 179.4 90.6 179.3 90.6 178.1 90.3 179.0 89.8 178.8 90.0M145.2 107.0L145.5 106.7 146.0 106.7 146.3 106.4 146.7 106.2 147.1 106.1 147.5 105.9 147.9 105.7 148.3 105.6 147.8 105.8 147.3 106.1 146.7 106.3 146.2 106.5M136.5 121.6L136.9 121.7 137.3 121.7 137.7 121.8 138.0 122.1 138.3 122.3 138.6 122.6 138.9 122.8 139.3 123.0 138.8 123.0 138.3 122.9 138.0 123.2 137.5 123.3 137.0 123.4 136.6 123.6 136.2 123.8 135.8 123.9M214.4 245.1L214.8 245.6M216.2 243.2L216.5 243.4M211.7 245.4L212.0 245.6M202.0 244.1L202.3 244.2M196.1 251.1L196.4 251.3 196.8 251.4M193.6 262.1L194.0 262.3 194.3 262.6M209.9 269.6L210.2 269.9 210.6 270.2 211.0 270.3 211.3 270.6M200.6 223.4L200.9 223.6M206.8 224.8L207.1 225.0 207.5 225.1M209.2 226.7L209.6 226.8M186.4 209.8L186.7 209.9M218.2 211.9L218.6 212.1M227.2 206.0L227.8 206.1 228.3 206.0M230.7 205.7L231.0 206.1 231.4 206.1 231.6 206.5 231.8 207.2 232.2 207.1 232.3 207.2 232.8 207.0 233.2 206.9 233.3 206.1 233.7 206.1M222.0 203.2L222.3 203.5 223.0 203.2 223.1 203.7 223.1 203.5 223.4 203.3M210.3 188.1L210.6 188.3 211.7 188.4 211.1 189.0 211.7 189.4 210.9 189.6 211.3 189.5M212.7 186.7L214.1 186.0 213.2 187.2 213.2 187.5 213.6 187.3 213.5 187.4 214.9 186.6 214.0 187.9M214.8 192.8L214.9 193.1 214.5 194.2 215.4 193.7 215.5 193.3 215.9 193.5 216.2 194.1 217.4 194.4 216.7 195.0M216.2 195.1L216.7 195.5 217.3 195.7 217.9 196.0 217.1 197.4 218.4 196.9M178.9 203.2L179.1 203.4M168.0 221.5L168.2 221.9 168.4 222.2M176.0 220.1L176.3 220.6M168.0 239.9L168.4 240.4M131.3 239.9L131.7 240.1"/><path d="M163.0 196.3L164.2 192.8 159.0 191.4 158.3 189.5 159.4 187.6 156.6 183.8 160.1 182.4 158.0 178.2 159.7 176.3M159.7 176.3L162.8 175.8 165.6 175.8 167.0 173.0 169.4 171.1 170.8 174.4 172.5 175.8 173.6 176.8 173.2 174.4 174.9 170.6 176.3 170.6 178.1 172.5 181.2 173.0 180.5 170.2 183.3 170.2 183.6 167.3M183.6 167.3L187.1 168.1 190.5 165.9 195.4 165.2 196.8 168.7 200.9 169.7 205.8 170.4M205.8 170.4L204.0 172.0 205.4 173.5 204.4 175.8 205.1 177.2 206.1 179.1M159.7 176.3L158.0 173.9 158.0 171.6 155.9 171.1 153.8 172.5 153.5 173.5 152.2 173.9 153.1 171.6 153.1 169.7 155.5 166.4 157.3 165.4 159.0 163.6 159.4 161.2 163.2 160.4M163.2 160.4L167.7 160.3 170.4 158.8 170.8 158.4 172.5 159.8 174.6 159.7 177.0 161.2M177.0 161.2L177.4 163.1 176.7 165.4 179.4 166.4 180.8 167.3 183.3 166.9 183.6 167.3M177.0 161.2L178.4 160.7 180.1 161.2 181.5 163.1 183.3 160.7 186.4 161.2 189.8 161.7 195.4 160.3 199.5 160.7 200.9 161.7 200.9 157.9 199.9 156.5 199.2 155.1 200.9 153.7 204.0 151.3 206.7 149.2M206.7 149.2L204.4 147.5 200.9 144.2 197.5 140.4 197.5 138.1 194.7 135.3 196.1 134.3 200.2 133.4 204.4 131.0 209.9 129.3 210.6 128.2 213.5 129.4M213.5 129.4L214.8 127.2 214.4 123.9 212.7 122.5 213.0 117.8 212.0 113.1 208.9 110.7 210.3 106.5 209.2 100.8M213.5 129.4L215.5 128.2 217.5 128.4 220.3 130.5 223.8 131.3 224.8 132.4 223.1 133.8 224.5 135.3 228.3 134.3 230.0 134.3 232.8 135.7 235.6 137.6 238.0 138.1 239.7 139.5 241.4 142.3M241.4 142.3L238.3 144.2 235.6 147.0 232.8 148.9 230.0 150.4 228.3 150.6M228.3 150.6L225.2 149.1 221.7 149.4 218.2 147.5 214.8 147.0 214.4 150.4 212.0 150.8 209.9 151.3 206.7 149.2M241.4 142.3L243.9 143.3 245.6 141.4 248.0 145.2 250.8 144.2M228.3 150.6L227.6 152.2 228.6 155.1 229.7 156.5M229.7 156.5L233.5 158.8 240.4 158.4 241.4 156.0 245.9 154.6 250.8 153.7M229.7 156.5L229.0 159.3 225.9 158.8 224.8 161.7 225.2 165.9 222.4 167.3M222.4 167.3L219.3 168.7 214.8 169.2 211.7 171.6 205.8 170.4M222.4 167.3L225.9 170.8M225.9 170.8L223.8 172.0 219.3 173.5 218.9 176.8 216.9 177.7 217.2 180.1 214.1 180.1 212.0 179.1 209.9 180.5 205.1 180.1M225.9 170.8L230.7 175.3 234.9 177.4 240.4 176.3 241.8 176.1M241.8 176.1L242.5 180.1 245.3 182.9 242.5 186.2M242.5 186.2L239.0 183.8 232.1 183.4 227.9 182.4 223.8 184.8 220.0 186.7 223.1 192.3 225.2 194.7 230.0 199.4 232.8 203.2 238.7 207.9M242.5 186.2L244.9 192.3 246.6 194.2 244.2 198.4 242.1 200.8M242.1 200.8L240.4 201.7 239.4 206.5 238.7 207.9M242.1 200.8L245.9 202.7 250.8 205.5M244.9 214.3L245.3 212.1 247.0 207.4 248.0 208.3 250.8 207.9M241.8 176.1L246.6 173.9 250.8 173.9M128.5 127.3L131.0 131.0 133.7 132.9 136.5 134.3 139.3 134.8 139.6 138.1 144.5 136.2 144.5 139.5 148.3 141.4 151.0 141.9M151.0 141.9L153.1 142.7 155.0 142.6M155.0 142.6L157.3 145.2 159.4 145.6 162.8 146.6 167.7 147.3 165.9 149.9 164.9 151.3 163.5 155.5 163.2 160.3M134.2 124.7L137.9 125.8 141.3 124.9 144.1 123.9 146.2 123.9 149.0 125.4 151.4 126.8 150.0 129.6 150.4 130.5 152.6 130.5M152.6 130.5L154.2 132.0 155.2 134.8 153.1 136.2M153.1 136.2L150.7 138.1 151.7 140.4 151.0 141.9M153.1 136.2L153.5 138.1 155.9 140.0 155.0 142.6M152.6 130.5L152.1 127.7 153.8 123.5 152.1 120.6 158.0 119.2 159.7 116.4 157.3 113.6 159.7 112.6 160.7 107.0M170.8 91.3L176.0 91.9 177.4 91.9M49.4 214.3L54.1 212.1 54.8 214.9 61.0 214.0 65.2 213.5 67.9 216.8 63.1 222.0 63.8 228.6 62.7 231.0 58.9 235.2 60.3 237.1 62.4 241.3 60.6 243.7 61.7 248.9 60.3 250.8 58.9 255.0 59.6 258.6M98.5 200.1L101.2 201.3 101.2 203.2 105.7 204.1 110.9 206.5 115.7 205.0 120.6 207.4 123.0 208.3 126.8 209.1 129.6 209.3 132.8 209.0M246.8 95.7L250.8 96.1M188.8 52.3L190.2 50.9 191.9 47.1 193.3 44.7 197.5 42.4 196.1 37.7 198.2 33.4 199.9 30.6 196.1 28.2 194.7 26.3 195.4 21.6 194.7 18.8 194.3 13.1 195.0 9.4 198.8 5.1"/></g><g fill="none" stroke-width="2.1" stroke-linecap="round"><path stroke="#284a73" d="M83.4 244.9h0M200.5 79.6h0M171.5 211.8h0M97.8 86.7h0M175.4 109.3h0M83.2 128.6h0M227.2 144.3h0M103.9 102.5h0M195.6 84.2h0M94.4 203.4h0M222.3 145.6h0M102.7 129.4h0M103.6 155.7h0M206.7 126.0h0M90.1 68.6h0M98.3 119.0h0M236.2 143.2h0M127.4 193.6h0M157.2 168.7h0M172.7 134.9h0M161.1 106.8h0M160.6 138.8h0M122.5 148.5h0M92.5 109.4h0M167.5 114.9h0M66.5 235.6h0M215.8 139.0h0M173.2 77.8h0M180.6 130.5h0M80.1 92.5h0M211.7 146.2h0M75.2 224.2h0M173.5 137.1h0M192.8 130.8h0M84.7 119.5h0M108.0 97.8h0M95.5 67.4h0M113.0 125.6h0M189.0 118.5h0M195.5 157.9h0M204.1 151.1h0M228.9 143.0h0M102.9 204.6h0M229.3 141.8h0M215.4 138.0h0M226.5 142.9h0M92.3 125.9h0M170.9 82.5h0M234.4 143.3h0M89.9 122.4h0M177.8 95.0h0M187.6 134.8h0M123.7 151.9h0M116.7 113.6h0M186.3 101.4h0M154.8 133.7h0M83.6 107.8h0M97.1 117.8h0M85.3 129.6h0M85.8 217.2h0M177.9 132.9h0M90.2 96.7h0M168.5 117.0h0M164.1 163.0h0M101.4 120.4h0M174.5 123.3h0M194.5 139.7h0M177.8 121.4h0M182.3 152.9h0M176.3 153.9h0M173.3 164.5h0M193.8 146.6h0M92.1 218.8h0M191.6 82.5h0M120.4 207.2h0M112.1 129.6h0M109.3 108.1h0M100.4 119.0h0M98.9 116.3h0M63.5 199.9h0M116.0 114.1h0M156.8 164.7h0M198.6 125.3h0M173.5 91.0h0M193.7 127.2h0M108.3 111.6h0M101.7 108.2h0M199.6 113.0h0M99.1 94.4h0M177.3 120.4h0M173.2 125.0h0M174.6 162.0h0M126.8 129.4h0M97.1 116.8h0M110.8 127.7h0M111.8 216.8h0M189.2 91.2h0M171.1 160.9h0M144.3 196.0h0M180.1 82.8h0M209.4 130.2h0M81.3 85.5h0M170.3 125.4h0M162.0 171.6h0M61.3 197.7h0M165.3 146.9h0M58.1 201.8h0M216.8 143.2h0M116.4 174.6h0M227.8 137.0h0M57.4 209.2h0M211.9 114.9h0M228.3 139.2h0M191.5 131.2h0M223.3 148.3h0M70.9 227.3h0M151.3 179.1h0M102.6 151.0h0M213.1 145.4h0M198.8 157.9h0M102.8 94.4h0M174.3 136.2h0M234.5 138.3h0M183.1 159.6h0M179.5 134.0h0M103.1 95.0h0M216.0 129.6h0M79.3 133.5h0M172.4 165.4h0M172.0 126.5h0M199.6 100.1h0M90.5 89.3h0M98.0 93.3h0M162.5 143.6h0M90.3 159.0h0M164.6 171.6h0M164.2 166.5h0M100.9 147.8h0M183.6 104.6h0M116.7 160.2h0M216.3 134.9h0M169.6 166.0h0M171.8 86.0h0M233.5 147.2h0M176.9 148.1h0M106.4 127.3h0M169.2 130.3h0M95.1 129.3h0M218.1 147.0h0M77.9 58.7h0M74.6 205.5h0M124.5 150.7h0M202.7 133.0h0M113.2 164.7h0M166.6 151.6h0M164.3 158.3h0M88.4 84.8h0M69.1 219.6h0M207.6 145.5h0M112.3 113.9h0M102.1 112.4h0M177.7 75.3h0M172.7 137.6h0M196.5 135.7h0M158.3 154.0h0M84.3 220.9h0M188.9 148.6h0M228.7 135.7h0M231.0 140.3h0M195.8 83.2h0M153.6 130.7h0M157.6 138.3h0M179.7 110.6h0M85.2 85.0h0M193.9 101.8h0M182.7 150.1h0M154.9 126.4h0M139.3 192.2h0M174.7 84.5h0M175.8 78.3h0M200.6 140.1h0M88.6 86.6h0M214.4 136.6h0M142.3 184.1h0M166.5 127.7h0M202.7 106.0h0M232.6 145.5h0M191.6 133.9h0M223.5 143.2h0M151.0 180.5h0M191.2 144.0h0M170.6 148.8h0M197.7 138.0h0M239.7 140.3h0M207.0 138.7h0M116.1 162.7h0M107.4 127.3h0M201.5 132.7h0M99.4 127.8h0M113.6 123.9h0M199.2 137.5h0M93.7 93.2h0M94.7 83.1h0M170.5 148.9h0M96.4 130.5h0M189.4 144.7h0M211.8 130.5h0M194.3 137.7h0M208.0 146.5h0M185.6 98.9h0M196.2 137.9h0M211.4 125.8h0M184.5 145.3h0M180.4 155.0h0M99.5 89.6h0M81.5 127.8h0M140.0 149.8h0M189.3 121.0h0M218.5 145.2h0M166.3 141.7h0M91.3 80.9h0M162.0 109.5h0M238.4 143.5h0M178.0 150.3h0M93.8 71.8h0M218.8 136.1h0M93.5 99.7h0M83.0 152.7h0M156.9 123.1h0M185.0 98.1h0M95.9 128.0h0M225.1 147.7h0M184.1 127.1h0M109.4 123.7h0M91.7 108.1h0M183.7 137.0h0M118.2 142.9h0M233.6 144.3h0M101.4 129.5h0M213.8 132.2h0M121.2 200.1h0M93.1 129.9h0M85.8 120.4h0M103.4 116.0h0M90.4 112.5h0M227.4 141.5h0M87.2 157.8h0M94.8 122.0h0M195.0 137.3h0M156.0 134.5h0M100.8 146.9h0M107.6 128.1h0M169.1 160.1h0M174.9 109.8h0M184.2 86.5h0M125.3 128.8h0M162.7 138.1h0M211.2 123.0h0M73.1 214.8h0M184.3 121.2h0M102.4 125.5h0M187.7 132.6h0M152.7 121.5h0"/><path stroke="#1a3a60" d="M234.6 140.1h0M141.1 139.0h0M169.1 161.5h0M163.0 172.5h0M132.9 185.6h0M88.7 109.6h0M104.7 146.2h0M123.5 162.2h0M217.0 145.0h0M226.8 139.0h0M169.3 116.8h0M113.7 121.7h0M210.5 133.0h0M159.0 148.0h0M189.8 132.5h0M168.9 170.6h0M109.3 119.0h0M73.5 135.8h0M182.7 116.9h0M104.3 113.7h0M194.0 127.4h0M178.6 147.5h0M82.0 83.5h0M103.5 157.8h0M180.4 172.0h0M112.0 197.1h0M82.1 218.2h0M180.6 134.1h0M160.2 174.6h0M179.2 83.1h0M171.7 87.5h0M121.7 197.4h0M113.2 158.7h0M88.1 85.0h0M191.3 93.3h0M207.5 126.2h0M226.6 148.2h0M153.0 159.7h0M153.7 127.9h0M90.7 128.2h0M163.2 137.4h0M190.9 83.3h0M79.7 154.9h0M119.1 116.8h0M104.4 98.8h0M111.8 116.2h0M94.7 219.0h0M171.4 131.3h0M148.9 149.8h0M108.3 115.0h0M145.5 161.7h0M98.6 95.4h0M213.2 127.7h0M172.0 166.6h0M167.1 142.5h0M122.5 149.5h0M199.3 125.2h0M165.5 120.5h0M187.8 147.1h0M225.3 144.8h0M234.5 142.5h0M231.2 143.8h0M178.2 155.3h0M155.6 136.2h0M169.8 80.5h0M108.4 118.7h0M193.3 87.7h0M175.6 162.9h0M130.9 139.2h0M152.5 129.8h0M188.7 87.9h0M165.5 155.9h0M173.9 157.8h0M92.1 151.2h0M171.1 160.0h0M85.7 122.2h0M81.1 218.6h0M102.2 98.1h0M62.9 237.7h0M112.4 115.3h0M198.6 140.1h0M113.0 175.2h0M191.4 144.8h0M194.1 127.3h0M222.2 138.5h0M169.6 119.5h0M178.2 132.0h0M203.0 151.0h0M189.1 107.3h0M229.4 137.3h0M81.9 81.8h0M160.4 123.2h0M81.7 90.9h0M180.1 96.8h0M209.9 141.0h0M126.6 197.3h0M212.7 150.7h0M177.0 87.3h0M111.0 114.4h0M106.2 152.5h0M190.1 120.3h0M130.5 184.8h0M165.8 153.1h0M169.7 158.0h0M183.2 79.3h0M96.3 70.3h0M195.1 80.9h0M202.8 138.7h0M76.2 80.8h0M163.8 168.0h0M93.2 115.9h0M84.2 89.5h0M157.0 188.6h0M181.0 100.1h0M143.2 180.9h0M165.4 140.8h0M86.5 71.9h0M170.2 165.3h0M127.2 156.0h0M169.3 168.9h0M155.0 171.4h0M196.7 120.7h0M199.9 137.7h0M180.7 66.0h0M94.6 66.7h0M229.9 149.7h0M171.8 125.7h0M95.2 71.8h0M171.0 112.0h0M220.2 145.1h0M98.4 94.2h0M179.8 159.2h0M192.0 151.7h0M231.7 146.3h0M173.3 75.8h0M141.4 183.1h0M178.6 97.9h0M102.0 103.5h0M175.5 122.7h0M106.6 106.2h0M182.7 88.8h0M110.3 151.7h0M184.7 136.2h0M177.7 172.0h0M189.9 110.4h0M85.5 154.3h0M79.5 130.8h0M205.2 149.1h0M189.6 142.8h0M99.1 90.3h0M90.7 114.2h0M107.2 98.0h0M151.7 156.9h0M159.8 143.9h0M216.1 131.1h0M89.2 90.4h0M95.3 68.8h0M195.2 82.7h0M88.8 82.9h0M83.0 217.3h0M158.0 188.4h0M188.9 125.5h0M232.6 146.8h0M235.4 145.7h0M191.6 86.3h0M158.4 121.3h0M158.5 132.6h0M182.9 145.0h0M196.5 80.8h0M192.6 136.8h0M194.1 149.6h0M210.2 150.4h0M97.6 107.9h0M175.4 131.0h0M167.5 166.1h0M203.2 136.3h0M93.2 152.3h0M88.3 154.4h0M220.2 135.9h0M104.2 123.7h0M181.2 119.6h0M228.7 147.4h0M237.4 138.7h0M99.4 103.9h0M126.3 198.7h0M184.1 89.3h0M171.9 120.7h0M112.6 150.6h0M93.9 84.5h0M178.2 142.3h0M233.0 139.4h0M169.3 108.1h0M173.8 128.8h0M186.0 134.0h0M123.9 169.4h0M136.8 173.2h0M168.7 166.8h0M187.9 118.6h0M172.3 133.9h0M88.8 117.6h0M114.5 119.8h0M97.7 118.1h0M202.6 135.4h0M152.0 162.0h0M231.5 136.4h0M211.4 118.5h0M159.5 131.5h0M115.9 126.1h0M175.4 129.1h0M204.4 119.3h0M237.9 140.4h0M59.5 207.8h0M89.7 91.6h0M166.2 173.7h0M111.4 125.6h0M215.6 131.7h0M85.8 88.7h0M125.5 192.2h0M201.8 127.1h0M99.4 117.4h0M171.3 128.0h0M165.6 166.5h0M176.6 110.4h0M189.3 149.3h0M101.7 146.9h0M103.1 106.5h0M166.2 126.9h0M170.6 72.0h0M71.8 84.5h0M177.8 118.9h0M178.5 128.0h0M105.8 127.8h0M99.5 168.4h0M162.7 162.6h0M82.4 128.9h0M222.7 146.4h0M85.0 77.5h0M77.5 133.7h0M120.2 147.1h0M178.9 94.0h0M183.3 153.9h0M104.3 107.8h0M187.5 155.0h0M205.1 140.1h0M177.2 120.2h0M166.8 156.8h0M187.1 118.2h0M102.5 111.3h0M193.3 137.8h0M197.0 143.9h0M218.7 130.1h0M172.1 163.4h0M169.5 104.8h0M203.6 118.1h0M101.4 142.2h0M119.5 192.8h0M219.0 137.6h0M164.1 111.8h0M120.0 137.4h0M154.5 129.1h0M84.5 90.0h0M164.6 162.9h0M171.7 106.4h0M78.1 84.6h0M137.0 145.8h0M197.9 144.7h0M182.7 108.6h0M207.7 128.4h0M190.5 156.7h0M167.3 139.3h0M98.8 84.6h0M122.2 132.4h0M134.0 152.1h0M215.2 129.2h0M115.1 116.5h0M190.2 140.9h0M166.3 174.7h0M157.1 169.7h0M202.0 143.2h0M169.1 116.1h0M95.7 116.1h0M152.2 159.8h0M164.5 136.6h0M173.8 119.4h0M211.3 113.6h0M185.8 107.5h0M87.0 82.7h0M189.0 122.1h0M95.3 242.6h0M172.3 208.5h0M144.5 145.7h0M158.7 155.5h0M141.4 183.8h0M96.1 84.7h0M187.1 141.5h0M113.7 113.9h0M161.1 161.7h0M189.9 119.4h0M173.6 144.3h0M172.2 140.9h0M159.1 133.6h0M227.3 146.2h0M113.8 172.6h0M171.7 150.2h0M97.2 152.4h0M124.3 137.6h0M139.3 163.6h0M109.9 125.9h0M157.9 155.4h0M141.4 190.3h0M169.3 83.2h0M156.8 125.0h0M128.3 170.5h0M161.4 149.7h0M166.3 167.6h0M178.5 108.8h0M177.1 98.0h0M173.7 166.6h0M119.6 111.8h0M179.6 128.8h0M197.7 125.3h0M219.4 142.4h0M109.6 107.3h0M213.1 123.1h0M79.4 91.6h0M162.3 164.6h0M97.3 123.8h0M167.2 143.7h0M110.5 156.7h0M166.4 105.8h0M194.6 133.7h0M157.1 165.5h0M96.3 96.7h0M158.0 166.8h0M210.9 140.0h0M191.9 143.0h0M116.9 168.2h0M172.8 126.6h0M109.4 115.2h0M203.8 102.9h0M93.6 157.5h0M176.9 83.8h0M155.7 143.9h0M175.2 139.8h0M183.6 101.3h0M155.0 167.5h0M100.1 147.5h0M81.8 128.9h0M124.8 194.1h0M190.9 150.2h0M161.3 173.0h0M182.0 130.5h0M165.5 143.5h0M210.8 148.7h0M177.4 144.4h0M119.5 152.9h0M210.2 143.1h0M164.7 162.3h0M161.5 135.4h0M156.2 153.2h0M195.1 116.4h0M185.2 124.1h0M194.6 145.3h0M124.6 162.5h0M168.4 111.9h0M152.8 180.7h0M165.9 134.8h0M174.3 134.8h0M78.3 223.8h0M187.0 129.5h0M228.7 137.5h0M220.1 147.4h0M163.1 164.9h0M213.9 134.3h0M112.2 127.9h0M176.6 117.5h0M182.7 148.5h0M170.9 89.3h0M129.5 165.6h0M99.8 89.2h0M168.5 129.7h0M177.1 130.1h0M84.8 85.4h0M206.8 145.2h0M186.1 152.6h0M157.2 160.6h0M167.9 155.1h0M167.0 157.5h0M192.3 82.7h0M154.5 144.3h0M93.7 128.2h0M134.8 166.1h0M86.8 118.2h0M150.8 165.7h0M169.9 149.4h0M169.8 107.4h0M165.4 165.7h0M178.1 124.2h0M195.7 140.9h0M168.4 107.2h0M86.7 132.7h0M94.9 121.3h0M129.5 185.6h0M127.4 149.0h0M85.1 80.6h0M163.7 136.5h0M108.5 123.0h0M194.1 138.2h0M126.0 153.5h0M184.5 116.5h0M217.2 134.7h0M147.5 141.0h0M207.7 123.7h0M107.3 145.5h0M194.9 124.2h0M112.2 117.6h0M144.4 194.1h0M80.7 91.4h0M174.2 147.2h0M165.0 125.1h0M146.8 148.5h0M201.7 131.2h0M182.2 151.1h0M92.3 75.5h0M157.8 190.0h0M149.5 148.8h0M111.1 164.8h0M184.8 122.7h0M101.5 148.7h0M133.5 171.6h0M196.2 158.6h0M144.4 156.1h0M161.6 121.0h0M84.6 109.0h0M174.1 165.6h0M195.9 125.8h0M157.1 123.8h0M184.6 123.3h0M103.8 98.0h0M199.3 131.3h0M169.2 168.0h0M175.8 149.4h0M124.3 189.4h0M167.0 132.1h0M174.8 127.8h0M188.5 121.0h0M181.7 162.1h0M188.0 140.1h0M79.4 120.7h0M79.1 87.7h0M232.5 144.9h0M181.8 157.4h0M192.3 107.0h0M165.0 149.7h0M178.8 100.8h0M148.6 171.0h0M89.0 110.8h0M89.1 122.1h0M173.5 149.6h0M94.5 107.1h0M162.3 161.1h0M157.2 122.4h0M87.1 114.1h0M205.3 142.1h0M121.3 138.9h0M106.1 197.8h0M203.5 145.3h0M172.5 120.5h0M108.5 160.1h0M125.6 159.0h0M89.5 69.6h0M179.1 139.7h0M178.2 145.5h0M233.1 144.8h0M189.8 130.7h0M148.6 145.6h0M144.5 188.5h0M124.3 153.7h0M183.2 129.9h0M164.3 114.5h0M87.1 128.9h0M88.4 110.5h0M90.5 107.5h0M113.0 124.9h0M220.2 139.0h0M120.4 112.6h0M213.0 139.0h0M166.6 136.2h0M196.8 126.9h0M160.2 134.5h0M92.2 89.7h0M85.0 106.8h0M160.7 127.5h0M167.6 137.0h0M210.6 128.0h0M184.5 137.6h0M147.9 163.9h0M195.8 87.8h0M166.4 133.6h0M100.1 118.3h0M113.2 148.8h0M145.0 194.1h0M196.4 160.2h0M176.1 128.7h0M158.9 121.9h0M81.6 85.9h0M142.9 188.0h0M176.7 154.2h0M233.3 143.3h0M113.5 123.2h0M101.3 199.8h0M122.8 181.5h0M218.1 144.6h0M174.4 99.2h0M167.9 150.7h0M165.8 121.5h0M76.2 77.6h0M213.2 129.2h0M195.2 141.8h0M177.8 156.6h0M226.0 146.3h0M156.2 151.5h0M118.7 169.9h0M120.1 115.1h0M162.1 175.4h0M100.9 103.0h0M184.2 157.4h0M161.2 130.4h0M234.3 141.2h0M150.6 189.7h0M171.8 145.8h0M192.7 138.5h0M191.5 123.8h0M234.5 146.2h0M173.1 140.8h0M131.7 131.8h0M198.6 120.0h0M167.4 125.7h0M125.1 191.2h0M172.2 124.0h0M186.0 134.5h0M160.0 142.2h0M196.5 128.4h0M174.9 124.3h0M204.1 142.4h0M185.9 127.6h0M167.7 154.9h0M180.5 123.5h0M224.3 137.1h0M146.5 159.4h0M106.0 156.3h0M111.2 107.4h0M156.4 167.2h0M160.1 137.5h0M128.4 136.8h0M201.1 129.4h0M183.7 117.7h0M191.1 136.4h0M172.7 128.2h0M169.8 154.5h0M102.8 143.2h0M102.8 112.7h0M82.9 154.6h0M198.2 127.4h0M138.5 188.4h0M155.2 157.8h0M129.3 184.3h0M194.2 135.5h0M140.5 189.6h0M230.4 146.8h0M125.0 138.7h0M117.5 200.6h0M144.2 167.6h0M182.6 135.7h0M93.3 154.8h0M98.5 123.3h0M157.5 150.9h0M87.8 87.6h0M167.4 140.0h0M111.6 168.6h0M140.0 178.6h0M162.5 130.8h0M95.8 119.4h0M166.1 111.0h0M107.6 119.2h0M201.1 140.7h0M160.0 170.8h0M166.9 125.8h0M179.4 68.9h0M171.2 159.3h0M164.4 169.6h0M171.5 125.2h0M182.3 97.2h0M165.4 119.0h0M163.4 138.7h0M158.6 123.8h0M195.9 86.0h0M83.9 130.1h0M177.8 154.4h0M150.1 159.2h0M179.0 94.6h0M166.6 116.2h0M227.2 137.4h0M167.8 82.9h0M186.5 130.4h0M94.0 89.7h0M197.2 136.7h0M102.7 169.4h0M100.7 159.6h0M82.6 90.5h0M228.5 148.2h0M101.7 123.5h0M121.6 161.8h0M154.3 183.6h0M118.4 116.0h0M168.7 139.8h0M176.8 77.9h0M86.6 155.8h0M153.4 124.9h0M158.1 129.1h0M146.8 187.9h0M163.5 140.1h0M181.0 151.6h0M182.3 131.8h0M93.0 65.9h0M88.4 159.5h0M175.9 97.7h0M179.0 148.2h0M163.0 136.1h0M78.2 87.1h0M168.7 145.9h0M104.3 116.2h0M183.9 138.6h0M172.4 162.6h0M90.6 108.6h0M190.5 126.1h0M86.4 111.7h0M167.5 129.7h0M94.3 155.3h0M178.5 111.8h0M169.1 160.9h0M186.3 146.3h0M160.6 158.9h0M177.3 139.5h0M183.5 104.8h0M180.2 78.2h0M114.7 123.9h0M112.4 128.5h0M96.5 153.3h0M173.2 148.0h0M203.9 146.1h0M171.0 136.1h0M157.0 146.0h0M98.8 118.3h0M186.4 111.1h0M161.3 114.8h0M114.1 125.5h0M75.8 74.6h0M104.9 120.9h0M158.3 123.5h0M144.1 183.4h0M225.1 144.2h0M205.1 123.2h0M219.2 132.9h0M169.8 137.2h0M171.9 121.7h0M163.7 152.7h0M122.7 196.2h0M195.5 124.7h0M228.9 145.5h0M150.8 188.5h0M171.6 91.4h0M78.8 118.8h0M144.6 166.9h0M80.8 85.9h0M230.9 136.3h0M163.3 132.7h0M166.8 128.6h0M231.7 144.9h0M189.8 123.4h0M181.7 104.7h0M176.3 79.4h0M92.2 131.3h0M190.6 115.6h0M170.7 147.7h0M202.2 150.3h0M140.3 170.7h0M190.4 141.3h0M208.5 122.9h0M99.1 166.0h0M189.2 142.3h0M106.7 95.8h0M182.7 151.0h0M87.7 88.4h0M143.2 176.8h0M157.7 152.1h0M175.5 149.9h0M191.2 127.5h0M130.0 176.1h0M90.5 156.5h0M98.1 154.1h0M200.7 127.3h0M164.8 107.0h0M224.1 142.8h0M153.1 143.7h0M156.6 125.9h0M183.3 124.3h0M158.9 125.1h0M90.8 117.0h0M155.6 130.1h0M198.8 150.7h0M188.6 158.6h0M149.8 152.3h0M214.5 127.7h0M213.4 140.8h0M177.2 149.1h0M96.8 100.8h0M177.1 159.7h0M87.0 69.2h0M200.1 114.7h0M174.3 132.5h0M231.5 148.9h0M97.4 85.0h0M98.5 101.4h0M106.7 148.7h0M169.4 111.4h0M207.4 127.6h0M87.5 128.3h0M196.2 140.4h0M192.5 154.3h0M194.6 137.5h0M164.3 137.8h0M162.0 140.3h0M116.1 118.9h0M176.4 97.0h0M200.1 121.3h0M177.4 118.2h0M135.0 171.4h0M188.6 102.0h0M105.6 203.2h0M183.1 132.1h0M94.5 129.6h0M178.4 123.1h0M174.0 121.9h0M180.8 135.7h0M166.2 128.6h0M186.3 119.9h0M99.4 163.3h0M101.9 119.2h0M165.2 142.0h0M108.3 161.6h0M176.7 127.4h0M161.4 158.1h0M209.5 135.6h0M91.9 99.0h0M174.2 88.0h0M143.5 147.9h0M180.9 147.9h0M148.8 149.6h0M236.3 144.0h0M189.9 91.6h0M168.2 130.2h0M194.1 150.2h0M133.4 139.4h0M198.1 149.6h0M97.6 91.9h0M179.1 114.8h0M182.4 116.4h0M165.2 139.1h0M183.8 99.3h0M159.9 155.8h0M119.9 117.1h0M193.5 135.8h0M181.6 146.9h0M135.3 179.4h0M169.1 81.8h0M216.6 147.6h0M230.7 139.1h0M92.8 120.1h0M160.8 140.8h0M204.9 102.7h0M102.0 96.7h0M152.5 175.9h0M173.5 108.2h0M226.7 146.9h0M138.4 173.7h0M128.0 163.5h0M160.6 112.4h0M229.4 139.0h0M175.5 160.4h0M212.5 143.8h0M140.8 161.7h0M206.5 133.7h0"/><path stroke="#112744" d="M94.3 208.5h0M90.5 66.4h0M167.6 152.4h0M154.7 124.5h0M130.1 136.8h0M187.3 122.4h0M178.0 120.7h0M235.5 143.3h0M164.5 161.4h0M85.3 157.8h0M103.2 158.5h0M86.1 156.4h0M193.1 132.8h0M166.0 156.5h0M132.6 171.3h0M185.5 118.8h0M95.7 130.6h0M211.4 131.1h0M136.2 139.8h0M176.2 123.1h0M173.9 161.1h0M118.7 168.0h0M169.5 129.6h0M184.0 130.6h0M85.8 82.1h0M109.7 106.7h0M162.4 126.6h0M165.4 138.3h0M143.1 173.7h0M196.8 126.0h0M116.7 114.6h0M168.2 166.0h0M180.1 94.6h0M186.2 140.8h0M186.5 107.8h0M158.9 113.7h0M125.2 151.4h0M106.5 122.0h0M177.0 126.2h0M154.0 175.0h0M127.7 156.9h0M131.0 186.9h0M192.9 124.3h0M217.3 146.8h0M153.6 137.9h0M98.2 89.2h0M186.2 121.7h0M83.4 88.0h0M112.1 176.1h0M216.0 129.0h0M168.5 126.0h0M172.9 156.4h0M154.9 125.6h0M175.6 106.0h0M171.3 111.5h0M135.8 193.7h0M181.8 103.9h0M154.7 146.0h0M191.4 122.1h0M92.7 99.7h0M109.7 113.4h0M160.9 111.2h0M163.9 112.5h0M168.1 109.5h0M91.0 106.1h0M191.9 151.0h0M163.2 153.7h0M107.5 145.1h0M188.5 134.7h0M122.7 156.4h0M110.4 146.3h0M90.0 154.7h0M150.5 158.8h0M166.1 141.9h0M182.2 75.1h0M191.7 137.9h0M189.2 137.1h0M122.8 175.2h0M176.1 72.1h0M104.1 105.3h0M165.3 106.6h0M150.0 163.1h0M191.4 146.5h0M176.9 112.6h0M187.2 132.8h0M168.8 104.6h0M183.5 110.6h0M164.3 125.3h0M137.9 163.9h0M190.5 124.3h0M192.5 84.4h0M183.7 75.6h0M203.5 118.9h0M176.5 169.3h0M128.5 189.2h0M185.6 131.3h0M158.0 142.0h0M182.2 103.1h0M180.9 131.6h0M169.1 136.7h0M89.0 108.9h0M187.3 113.7h0M108.2 117.8h0M165.2 162.8h0M194.3 145.7h0M114.5 110.4h0M209.2 137.3h0M170.6 168.4h0M190.8 149.3h0M162.2 132.7h0M97.0 124.8h0M94.6 117.2h0M163.4 111.6h0M178.3 146.6h0M191.7 159.7h0M170.7 116.2h0M160.6 125.7h0M94.3 154.1h0M187.2 124.3h0M84.2 108.7h0M207.6 125.6h0M174.8 127.0h0M178.0 115.2h0M178.2 107.5h0M178.3 80.6h0M134.5 168.5h0M103.6 128.5h0M162.8 124.1h0M91.4 99.8h0M203.6 113.1h0M169.9 106.1h0M156.6 140.0h0M95.8 111.4h0M108.6 97.7h0M132.2 162.9h0M118.5 202.3h0M162.4 156.5h0M107.2 147.6h0M170.6 132.7h0M97.7 97.2h0M165.6 118.2h0M211.7 132.6h0M85.6 116.4h0M143.6 158.3h0M168.2 151.1h0M172.1 146.0h0M194.5 85.8h0M98.8 158.5h0M188.3 151.3h0M126.7 192.5h0M113.3 168.9h0M155.8 125.9h0M172.2 127.3h0M114.5 120.5h0M223.8 148.6h0M91.6 65.6h0M120.6 145.0h0M167.8 113.2h0M100.6 103.5h0M231.1 148.5h0M184.2 108.2h0M153.8 129.4h0M155.9 140.9h0M98.9 88.9h0M216.7 141.2h0M171.1 114.3h0M162.2 150.7h0M166.1 118.9h0M94.2 130.1h0M231.9 136.9h0M115.2 200.7h0M222.2 149.0h0M179.4 72.3h0M172.1 129.6h0M152.1 155.4h0M181.5 119.0h0M174.1 122.5h0M112.1 149.5h0M163.7 164.4h0M162.1 154.8h0M74.3 136.7h0M169.5 134.8h0M164.1 151.6h0M141.5 178.2h0M123.2 131.9h0M225.7 137.5h0M139.9 168.9h0M169.9 128.0h0M180.1 73.8h0M175.8 77.5h0M87.6 110.3h0M133.4 188.4h0M169.9 85.8h0M84.0 204.5h0M92.3 158.1h0M171.1 124.9h0M91.8 155.6h0M87.1 89.7h0M89.0 93.4h0M94.4 93.3h0M162.8 148.2h0M161.0 153.3h0M172.2 109.0h0M93.2 160.0h0M165.7 131.7h0M182.3 118.9h0M94.3 109.0h0M170.1 119.0h0M71.6 222.0h0M181.7 66.6h0M184.0 153.4h0M180.0 97.4h0M182.9 154.6h0M166.0 157.8h0M99.6 119.1h0M120.3 189.0h0M221.7 145.2h0M204.1 135.1h0M229.9 136.0h0M210.0 132.5h0M162.4 133.8h0M91.4 78.5h0M190.4 161.5h0M189.8 149.3h0M189.7 86.4h0M153.7 128.2h0M153.0 126.4h0M164.9 129.0h0M184.8 115.8h0M171.5 130.3h0M192.0 82.0h0M170.0 130.8h0M96.6 123.6h0M157.8 155.6h0M136.1 167.3h0M168.5 151.1h0M91.2 158.0h0M193.4 122.0h0M175.7 110.0h0M181.9 129.5h0M119.9 201.1h0M172.7 158.6h0M231.3 144.4h0M173.3 132.4h0M87.4 74.8h0M94.1 71.0h0M80.5 156.1h0M95.8 97.8h0M90.7 95.3h0M78.7 89.0h0M99.2 152.2h0M159.8 138.9h0M80.1 86.5h0M153.7 121.9h0M169.6 121.4h0M78.7 61.3h0M181.1 107.3h0M185.4 136.4h0M187.1 119.0h0M115.7 142.2h0M164.9 124.1h0M101.1 195.1h0M169.0 154.4h0M194.0 122.1h0M223.3 140.0h0M155.6 139.3h0M152.6 157.0h0M115.7 113.3h0M160.5 138.2h0M186.4 111.9h0M83.7 219.9h0M178.0 138.4h0M109.0 150.6h0M176.5 141.3h0M164.9 104.2h0M125.5 142.6h0M161.2 148.4h0M155.6 122.5h0M156.3 138.1h0M158.9 124.6h0M172.7 147.9h0M196.4 86.5h0M174.8 86.6h0M98.5 169.6h0M177.0 103.3h0M115.7 111.5h0M110.5 118.7h0M221.8 138.1h0M232.1 139.4h0M170.9 151.0h0M189.4 145.5h0M184.3 138.0h0M174.0 110.3h0M154.4 130.1h0M121.2 174.3h0M174.6 127.8h0M124.1 161.7h0M126.8 179.1h0M194.8 135.7h0M125.7 136.8h0M111.1 118.9h0M94.1 123.1h0M165.2 161.5h0M169.8 161.2h0M178.8 161.2h0M116.5 115.2h0M158.6 165.8h0M168.9 131.3h0M232.5 144.2h0M183.4 97.4h0M92.9 103.3h0M100.2 168.8h0M194.7 140.1h0M133.3 165.8h0M183.7 85.8h0M190.5 134.5h0M178.2 94.6h0M188.1 92.3h0M180.6 130.2h0M157.3 122.2h0M102.8 154.2h0M139.2 171.0h0M166.7 152.2h0M223.7 145.6h0M137.5 165.7h0M187.4 139.7h0M206.2 142.5h0M103.8 156.3h0M167.3 161.2h0M204.0 134.1h0M221.7 137.4h0M169.4 122.4h0M175.8 74.3h0M186.9 118.8h0M185.0 137.5h0M191.7 92.6h0M86.3 129.4h0M88.8 150.8h0M186.5 128.9h0M159.5 153.9h0M175.3 163.8h0M168.0 163.8h0M169.7 113.7h0M192.0 128.1h0M159.2 137.9h0M205.3 131.6h0M157.7 153.6h0M107.0 124.4h0M172.7 128.0h0M159.9 136.7h0M165.8 107.4h0M160.5 119.5h0M93.3 155.6h0M143.0 149.7h0M99.6 114.4h0M163.8 151.8h0M174.3 115.3h0M183.0 115.2h0M132.6 180.7h0M162.8 124.6h0M230.6 138.5h0M177.8 103.3h0M184.4 159.3h0M157.9 114.2h0M181.0 129.6h0M158.3 124.5h0M88.5 94.0h0M121.6 115.3h0M172.1 161.4h0M124.3 134.5h0M177.7 140.0h0M235.3 146.4h0M100.4 90.3h0M215.7 134.4h0M177.7 93.4h0M96.2 65.8h0M109.2 166.0h0M188.3 146.3h0M155.8 146.2h0M230.6 147.7h0M175.4 154.8h0M194.9 149.6h0M171.3 142.4h0M190.0 101.9h0M180.1 138.3h0M177.9 117.2h0M178.2 141.7h0M86.0 85.5h0M80.8 134.4h0M177.1 142.5h0M179.9 129.2h0M112.1 156.0h0M176.3 162.2h0M105.8 195.0h0M120.8 163.8h0M180.2 95.4h0M102.4 124.1h0M87.8 79.0h0M104.3 125.5h0M194.8 157.9h0M101.9 109.7h0M116.7 139.9h0M180.0 147.0h0M157.8 125.3h0M184.4 118.6h0M127.9 187.9h0M112.4 193.7h0M170.7 113.8h0M185.1 143.1h0M162.8 104.5h0M161.7 147.9h0M157.3 134.0h0M177.5 125.1h0M204.9 143.8h0M83.4 106.7h0M172.7 78.7h0M131.1 160.6h0M171.0 139.8h0M183.2 158.5h0M187.0 115.5h0M173.8 98.3h0M114.7 176.0h0M165.8 115.3h0M164.9 129.0h0M236.0 140.5h0M84.5 151.3h0M175.0 157.3h0M173.8 96.7h0M91.3 100.9h0M134.9 141.0h0M98.6 112.1h0M168.8 120.6h0M178.2 95.6h0M111.3 118.1h0M89.8 68.0h0M56.2 207.7h0M191.6 156.9h0M165.5 137.7h0M103.2 108.3h0M155.6 143.1h0M166.6 161.9h0M162.6 129.7h0M82.0 154.5h0M166.1 164.4h0M174.1 162.3h0M112.7 113.0h0M179.7 111.5h0M101.6 97.4h0M161.9 125.4h0M107.2 153.4h0M87.8 115.2h0M95.5 126.6h0M90.2 86.3h0M84.8 122.9h0M165.0 150.3h0M165.6 150.7h0M104.5 161.4h0M185.7 143.6h0M184.6 144.9h0M174.6 160.5h0M179.1 154.5h0M171.3 138.2h0M229.4 144.5h0M232.1 135.8h0M173.5 135.9h0M167.8 135.9h0M193.9 139.3h0M110.1 129.7h0M168.0 117.7h0M186.1 120.4h0M120.1 189.5h0M220.1 137.6h0M105.8 129.1h0M83.3 83.1h0M182.4 121.4h0M159.5 130.9h0M121.6 202.9h0M164.5 133.6h0M178.5 114.3h0M183.5 103.5h0M179.2 157.1h0M189.1 119.1h0M184.0 140.5h0M181.2 157.6h0M163.8 148.0h0M171.4 162.8h0M180.0 141.4h0M184.1 126.1h0M90.7 130.6h0M200.5 59.4h0M113.3 120.9h0M144.3 144.5h0M191.4 125.7h0M149.4 165.7h0M152.2 169.6h0M207.4 147.3h0M124.1 186.8h0M127.0 194.2h0M133.0 199.8h0M167.4 163.6h0M111.8 114.3h0M111.4 157.7h0M160.3 114.6h0M206.3 148.6h0M124.7 136.5h0M110.0 162.9h0M191.4 119.3h0M112.6 191.5h0M174.3 154.9h0M166.1 162.9h0M86.1 157.1h0M153.4 158.2h0M117.2 201.5h0M194.1 106.6h0M167.1 115.6h0M104.6 146.8h0M191.1 88.6h0M161.0 142.6h0M162.6 111.0h0M128.6 159.6h0M127.3 196.9h0M161.3 129.6h0M161.5 150.4h0M97.0 130.2h0M189.1 148.3h0M168.4 136.9h0M176.4 141.9h0M178.3 156.7h0M189.4 123.0h0M181.5 154.3h0M157.6 152.6h0M173.5 127.5h0M119.5 116.1h0M179.1 137.2h0M163.8 106.6h0M192.3 152.2h0M138.3 163.3h0M105.6 168.1h0M187.4 115.0h0M83.8 88.5h0M168.9 144.9h0M192.3 141.5h0M174.6 104.1h0M100.0 146.8h0M97.7 152.7h0M171.1 158.8h0M191.7 131.7h0M173.5 158.6h0M178.5 112.7h0M102.4 143.8h0M164.5 152.9h0M95.2 153.5h0M174.1 97.2h0M171.1 152.3h0M124.3 136.1h0M185.1 131.2h0M108.9 176.6h0M108.2 154.5h0M128.7 177.8h0M149.2 160.7h0M146.5 176.7h0M132.9 172.8h0M117.5 127.7h0M189.5 140.0h0M184.6 138.5h0M190.0 151.4h0M167.4 149.7h0M117.1 164.4h0M171.7 114.0h0M127.4 129.2h0M184.9 97.0h0M129.0 188.8h0M164.8 122.4h0M157.9 130.1h0M186.7 125.4h0M154.1 164.5h0M180.7 124.9h0M195.0 108.4h0M187.1 120.6h0M122.3 169.2h0M138.0 157.6h0M176.7 159.7h0M184.7 136.9h0M184.1 110.6h0M105.7 158.8h0M156.2 162.1h0M175.6 123.9h0M176.6 102.8h0M147.1 144.8h0M168.1 147.7h0M99.8 152.4h0M150.9 148.2h0M103.5 147.2h0M186.0 131.7h0M197.3 82.7h0M132.6 161.9h0M126.6 182.2h0M194.3 155.3h0M159.0 135.9h0M84.1 156.6h0M179.5 105.5h0M139.1 171.7h0M120.9 161.1h0M180.2 128.5h0M109.7 148.3h0M160.5 155.4h0M98.7 153.1h0M97.9 155.5h0M157.6 113.7h0M130.4 181.7h0M164.3 111.2h0M160.8 106.1h0M182.0 103.1h0M140.4 144.7h0M131.4 145.5h0M170.4 117.7h0M166.0 113.5h0M158.5 143.5h0M166.5 138.6h0M135.1 175.0h0M143.3 145.5h0M117.2 141.8h0M167.4 137.5h0M183.4 143.1h0M194.9 152.4h0M104.4 166.7h0M192.7 150.5h0M190.3 116.0h0M163.1 143.2h0M127.5 154.7h0M223.1 131.8h0M170.0 162.6h0M114.8 142.8h0M210.4 134.9h0M186.1 122.6h0M168.4 117.2h0M179.6 120.1h0M146.3 157.1h0M79.4 82.7h0M91.1 155.2h0M122.0 164.7h0M141.7 164.0h0M189.1 151.3h0M184.4 129.3h0M191.2 124.7h0M175.8 127.7h0M174.1 130.4h0M164.5 120.5h0M117.2 159.5h0M170.0 136.2h0M125.1 145.6h0M192.2 130.8h0M146.3 143.2h0M185.3 140.8h0M176.2 100.0h0M112.4 185.8h0M162.6 153.6h0M192.7 150.3h0M164.8 107.3h0M153.9 123.3h0M193.9 105.1h0M228.9 134.9h0M112.4 119.5h0M171.8 101.2h0M165.1 108.3h0M108.4 116.7h0M185.8 140.4h0M184.1 129.2h0M206.0 144.6h0M88.7 156.5h0M170.3 129.6h0M162.3 108.1h0M125.5 154.2h0M149.3 148.3h0M164.8 142.8h0M85.8 86.8h0M144.6 177.4h0M194.6 128.0h0M164.1 164.8h0M91.5 156.4h0M158.1 135.9h0M171.1 104.3h0M164.0 121.3h0M186.6 138.8h0M101.3 103.5h0M160.3 117.9h0M182.3 66.2h0M181.4 132.4h0M190.4 137.4h0M166.6 126.4h0M160.1 139.5h0M129.3 181.8h0M119.8 143.8h0M170.5 139.6h0M88.1 151.8h0M107.7 163.2h0M97.6 119.0h0M156.4 135.3h0M178.2 101.3h0M177.5 108.1h0M172.7 104.4h0M99.2 92.9h0M193.1 125.8h0M160.6 139.7h0M116.7 173.2h0M171.5 96.0h0M137.6 175.0h0M179.7 131.2h0M97.5 100.4h0M173.3 146.3h0M171.9 108.3h0M109.1 168.2h0"/><path stroke="#0b1627" d="M158.7 152.5h0M160.7 138.5h0M117.9 141.2h0M189.6 150.8h0M104.2 167.3h0M163.7 139.8h0M165.7 130.3h0M151.9 171.8h0M123.8 185.3h0M102.1 167.9h0M190.6 122.7h0M122.4 152.7h0M166.9 154.4h0M194.5 84.7h0M83.1 81.8h0M140.2 171.9h0M174.9 141.7h0M176.7 97.2h0M173.6 155.0h0M175.3 155.5h0M180.6 124.8h0M92.7 74.4h0M163.3 120.4h0M83.5 155.4h0M91.8 155.6h0M182.2 111.5h0M177.7 154.4h0M82.3 68.5h0M176.0 107.9h0M162.2 151.6h0M123.4 153.6h0M194.3 124.2h0M165.4 148.9h0M176.0 139.0h0M189.0 154.7h0M155.6 133.5h0M193.8 151.8h0M177.0 130.7h0M162.4 144.7h0M149.6 157.6h0M161.0 164.9h0M158.2 142.1h0M110.3 147.9h0M180.4 111.9h0M234.5 137.6h0M201.1 133.6h0M194.0 158.8h0M158.9 136.5h0M176.1 127.1h0M171.0 113.7h0M98.5 154.7h0M180.5 106.6h0M172.2 104.0h0M174.8 130.5h0M179.5 98.5h0M176.0 103.2h0M155.5 125.3h0M115.1 146.8h0M150.3 164.4h0M103.5 169.4h0M139.9 140.7h0M141.3 145.6h0M159.1 130.0h0M181.2 99.4h0M106.5 146.7h0M189.7 133.7h0M173.6 133.7h0M155.1 133.2h0M163.9 148.6h0M167.8 106.7h0M166.4 131.3h0M93.9 122.3h0M186.5 130.0h0M184.3 98.5h0M102.0 106.4h0M124.0 188.0h0M129.3 137.9h0M171.2 116.5h0M174.7 110.1h0M183.0 68.9h0M115.2 185.2h0M189.7 129.0h0M95.9 152.1h0M181.5 159.7h0M165.9 157.0h0M188.3 119.1h0M107.8 102.7h0M114.8 111.7h0M186.0 128.3h0M178.0 148.0h0M127.7 153.9h0M185.8 105.8h0M179.2 97.4h0M150.0 153.5h0M129.8 190.5h0M161.1 147.2h0M97.4 103.5h0M168.9 138.3h0M190.5 137.5h0M174.6 109.3h0M188.9 103.4h0M106.2 116.3h0M183.0 119.4h0M165.5 153.7h0M219.4 133.8h0M91.3 159.0h0M139.4 136.5h0M120.4 152.1h0M131.2 140.9h0M182.2 112.8h0M105.1 130.4h0M193.5 110.0h0M163.9 154.0h0M175.5 90.6h0M190.4 138.5h0M113.3 120.3h0M188.7 133.0h0M155.4 156.0h0M155.8 137.9h0M177.7 112.3h0M191.1 149.4h0M113.4 192.5h0M107.4 130.3h0M171.1 156.3h0M163.2 147.5h0M189.8 117.3h0M163.0 118.5h0M174.5 149.6h0M103.2 122.7h0M212.8 136.3h0M98.7 166.9h0M141.6 167.3h0M179.0 125.4h0M164.9 148.0h0M127.1 131.6h0M165.3 114.3h0M130.7 138.0h0M131.4 180.6h0M108.0 149.7h0M175.1 132.1h0M173.9 153.8h0M103.0 159.8h0M186.3 122.3h0M83.7 152.3h0M92.8 92.5h0M147.2 140.8h0M180.7 121.6h0M144.6 162.9h0M171.7 116.6h0M191.4 154.0h0M174.7 126.0h0M173.5 90.1h0M134.9 154.3h0M190.6 111.3h0M157.9 132.4h0M219.9 136.9h0M192.3 132.0h0M90.7 97.7h0M156.2 124.3h0M100.5 157.4h0M141.3 176.7h0M168.9 128.8h0M181.0 120.8h0M182.2 133.0h0M180.9 113.9h0M162.7 106.9h0M132.2 185.4h0M101.8 167.3h0M115.6 121.7h0M130.9 192.3h0M164.6 126.8h0M98.0 66.1h0M161.9 155.1h0M166.0 116.0h0M159.1 131.5h0M79.7 60.5h0M123.1 146.7h0M112.4 148.2h0M170.9 126.6h0M166.8 107.3h0M120.2 165.2h0M164.3 149.1h0M184.9 98.8h0M131.7 194.7h0M178.3 153.4h0M193.7 107.5h0M171.7 129.6h0M130.8 170.6h0M137.1 155.8h0M79.5 153.3h0M162.8 141.3h0M132.6 139.8h0M168.1 140.5h0M178.1 72.1h0M183.4 153.3h0"/><path stroke="#284a73" d="M173.3 111.1h0M181.7 171.0h0M181.7 88.2h0M59.1 198.4h0M190.0 118.8h0M150.4 163.5h0M77.3 198.9h0M208.8 126.3h0M145.2 176.4h0M97.4 101.7h0M228.4 136.4h0M109.2 165.2h0M166.5 164.0h0M90.2 157.2h0M64.2 199.0h0M88.8 128.1h0M198.9 115.9h0M83.7 119.8h0M186.1 151.1h0M188.9 139.0h0M80.7 214.9h0M167.4 169.9h0M96.7 86.8h0M156.7 151.3h0M211.2 136.9h0M168.5 161.2h0M103.6 115.0h0M100.7 118.6h0M92.6 82.4h0M190.7 128.4h0M156.2 170.7h0M131.0 193.1h0M113.0 122.9h0M111.9 113.1h0M227.6 135.0h0M123.5 130.6h0M110.6 120.7h0M110.8 113.2h0M201.3 141.7h0M102.6 107.8h0M96.3 214.5h0M95.4 89.4h0M178.5 166.3h0M195.8 82.5h0M159.9 176.0h0M165.8 127.8h0M102.1 209.8h0M188.8 87.2h0M115.7 178.2h0M158.2 137.9h0M106.5 125.4h0M216.3 144.5h0M87.0 216.5h0M117.4 116.9h0M157.9 150.9h0M113.7 145.4h0M109.0 106.0h0M156.7 166.4h0M144.7 170.7h0M84.8 121.9h0M190.6 125.8h0M161.4 135.6h0M229.6 147.5h0M89.0 94.3h0M231.8 141.5h0M181.7 87.3h0M190.8 81.8h0M142.8 150.5h0M111.0 127.3h0M172.4 166.2h0M156.9 167.0h0M187.7 135.2h0M170.5 131.3h0M101.1 158.1h0M192.0 87.3h0M124.3 215.5h0M172.9 86.3h0M178.9 73.0h0M153.5 158.9h0M227.2 148.2h0M60.0 199.9h0M180.1 121.4h0M98.9 92.2h0M161.4 172.2h0M238.5 141.8h0M198.3 99.7h0M226.0 147.4h0M84.0 223.9h0M235.7 141.8h0M212.5 139.5h0M172.7 154.9h0M212.6 137.6h0M109.0 120.1h0M205.7 138.7h0M89.4 72.4h0M191.9 137.3h0M143.1 194.8h0M168.9 82.4h0M87.7 82.1h0M197.3 128.6h0M70.5 229.4h0M199.4 127.7h0M224.9 147.0h0M196.5 136.5h0M106.1 234.8h0M198.4 146.5h0M221.8 134.0h0M206.2 126.5h0M188.8 113.1h0M223.4 136.9h0M145.8 195.9h0M207.6 147.8h0M119.4 113.4h0M160.0 167.4h0M160.3 162.9h0M226.9 141.1h0M172.0 127.5h0M198.1 136.7h0M174.1 133.5h0M163.8 105.3h0M169.7 123.9h0M173.2 163.5h0M115.8 115.5h0M218.7 133.6h0M108.1 113.3h0M206.0 135.5h0M232.8 138.3h0M170.3 122.7h0M218.7 135.3h0M110.4 118.1h0M157.5 188.9h0M170.2 121.0h0M152.0 192.2h0M74.1 135.4h0M146.5 198.7h0M106.1 205.0h0M208.5 110.9h0M228.5 142.0h0M91.2 239.5h0M223.7 144.4h0M190.8 139.2h0M188.6 133.9h0M108.6 213.1h0M94.1 119.8h0M179.6 87.7h0M89.0 75.5h0M213.3 147.0h0M210.0 146.4h0M166.9 130.2h0M175.3 72.7h0M198.9 105.4h0M169.9 164.6h0M93.6 130.8h0M169.0 75.1h0M97.3 204.9h0M81.4 116.8h0M87.6 113.3h0M108.1 214.1h0M88.4 68.2h0M78.1 131.3h0M222.9 145.5h0M231.0 141.3h0M157.4 121.3h0M189.2 154.0h0M232.0 142.7h0M156.6 186.2h0M160.9 196.7h0"/><path stroke="#38567f" d="M182.6 85.2h0M102.8 116.8h0M69.9 231.4h0M167.4 125.9h0M85.0 107.5h0M67.2 214.0h0M165.3 167.5h0M94.7 112.0h0M179.4 86.0h0M71.7 231.2h0M188.6 157.6h0M157.3 180.7h0M164.6 138.9h0M186.7 129.9h0M100.3 92.1h0M196.0 141.5h0M176.5 80.6h0M183.9 78.5h0M81.8 129.8h0M172.1 139.3h0M190.6 106.9h0M153.6 121.0h0M186.0 100.3h0M160.0 162.1h0M182.8 75.9h0M223.9 147.0h0M91.5 203.7h0M178.8 116.8h0M184.9 102.0h0M86.9 65.9h0M149.6 191.6h0M88.6 217.4h0M179.4 147.7h0M207.0 58.9h0M151.2 201.0h0M111.2 115.2h0M92.7 102.1h0M210.4 139.6h0M172.6 164.6h0M160.0 131.2h0M207.7 117.7h0M178.3 171.0h0M96.3 86.4h0M187.3 123.0h0M189.2 147.7h0M184.9 124.2h0M176.4 167.6h0M166.8 133.6h0M196.3 131.4h0M92.1 122.2h0M155.1 189.0h0M97.4 121.8h0M151.3 197.1h0M116.3 126.6h0M173.1 97.2h0M195.1 139.5h0M102.7 123.7h0M88.1 73.6h0M158.5 137.4h0M161.8 173.9h0M65.3 231.5h0M161.8 162.7h0M173.0 161.3h0M164.9 109.1h0M105.1 109.5h0M185.2 124.8h0M176.4 118.7h0M212.6 130.0h0M147.6 196.2h0M152.9 189.2h0M168.9 80.8h0M224.0 147.6h0M190.6 84.4h0M94.2 96.6h0M191.2 126.5h0M188.5 140.8h0M222.9 136.7h0M111.9 107.7h0M52.0 202.6h0M182.8 128.0h0M107.8 103.9h0M167.3 82.1h0M86.7 110.8h0M110.4 110.4h0M154.3 120.9h0M169.9 126.7h0M168.6 106.4h0M159.1 189.1h0M204.0 124.9h0M237.0 140.4h0M158.8 123.3h0M93.5 65.6h0M69.7 230.1h0M114.8 122.1h0M153.8 125.7h0M75.6 201.5h0M158.5 163.8h0M195.8 135.5h0M175.7 87.4h0M160.5 166.1h0M164.8 145.0h0M179.0 113.2h0M175.8 164.4h0M173.8 95.9h0M212.5 145.6h0M182.3 168.4h0M91.1 93.2h0M86.2 69.6h0M175.1 91.1h0M162.6 130.9h0M93.2 131.5h0M192.1 133.2h0M180.6 104.4h0M95.8 123.9h0M77.0 65.5h0M179.8 87.1h0M231.5 138.3h0M227.0 142.0h0M116.8 117.4h0M173.1 131.3h0M182.5 86.3h0M226.3 138.3h0M167.9 81.4h0M201.5 143.3h0M219.7 140.5h0M198.9 141.1h0M131.9 206.8h0M132.9 198.5h0M83.0 107.4h0M206.7 101.5h0M161.4 123.5h0M197.5 159.2h0M210.3 128.4h0M183.2 87.8h0M98.3 91.7h0M168.5 160.1h0M91.7 219.7h0M161.5 174.7h0M221.8 133.1h0M209.0 119.6h0M179.1 71.0h0M160.8 115.8h0M180.1 73.1h0M171.3 78.7h0M172.8 214.5h0M88.3 80.0h0M69.2 233.6h0M156.0 142.0h0M93.2 212.7h0M73.2 217.6h0M170.6 138.2h0M96.2 120.3h0M112.1 121.1h0M118.3 207.8h0M199.0 136.9h0M87.5 214.3h0M198.5 145.4h0M102.8 120.3h0M162.3 193.0h0M182.6 169.7h0M71.1 208.3h0M103.0 95.0h0M87.3 210.0h0M165.5 142.7h0M116.9 115.9h0M167.6 79.6h0M61.0 203.5h0M67.4 231.8h0M178.3 93.7h0M96.0 67.6h0M188.6 138.9h0M98.0 210.0h0M86.8 219.2h0M202.3 118.3h0M203.3 140.8h0M181.2 86.4h0M112.5 196.8h0M230.2 139.4h0M211.1 135.7h0M85.1 83.4h0M170.4 144.8h0M84.3 128.5h0M122.2 210.9h0M187.6 129.5h0M55.2 198.9h0M212.9 143.2h0M97.4 215.3h0M140.9 187.2h0M159.6 135.5h0M89.9 66.9h0M190.3 85.1h0M93.9 214.6h0M57.8 212.7h0M77.5 200.7h0M80.2 134.8h0M186.4 140.9h0M69.5 205.8h0M160.7 163.9h0M57.8 208.6h0M89.5 201.1h0M102.5 208.3h0M183.4 88.4h0M52.7 201.8h0"/><path stroke="#4a5a82" d="M92.7 216.8h0M64.6 200.1h0M179.4 116.1h0M113.4 128.0h0M105.1 204.4h0M64.5 200.8h0M185.3 125.8h0M123.7 200.5h0M184.6 142.7h0M196.7 100.3h0M94.7 86.8h0M89.5 96.3h0M89.6 92.2h0M144.7 196.4h0M209.3 145.1h0M61.2 198.6h0M88.0 94.8h0M177.0 73.3h0M101.1 206.9h0M171.7 165.2h0M196.1 107.0h0M99.0 209.9h0M100.6 120.3h0M56.7 202.6h0M96.3 124.4h0M97.2 212.0h0M216.1 146.0h0M198.0 153.3h0M198.1 143.1h0M97.2 89.4h0M159.0 171.4h0M106.1 119.6h0M155.7 181.9h0M109.9 206.0h0M195.1 127.2h0M88.3 87.9h0M164.3 160.6h0M101.1 101.8h0M114.0 111.5h0M89.3 121.3h0M209.4 107.9h0M83.8 228.4h0M93.2 125.3h0M172.6 76.3h0M104.6 212.1h0M155.5 201.3h0M201.4 130.3h0M221.5 131.2h0M111.6 222.7h0M54.5 210.8h0M86.4 75.6h0M81.5 225.9h0M196.5 97.8h0M88.0 114.3h0M202.0 123.3h0M144.9 189.1h0M74.3 230.5h0M208.8 118.1h0M198.9 117.1h0M218.8 144.0h0M109.2 224.5h0M170.2 159.3h0M198.3 118.9h0M85.9 213.0h0M199.5 134.3h0M197.4 138.6h0M84.4 238.5h0M83.8 82.0h0M88.5 130.4h0M219.0 146.2h0M113.1 114.0h0M161.5 160.9h0M205.9 101.1h0M181.4 167.5h0M198.7 127.5h0M198.9 150.7h0M171.5 163.7h0M200.5 151.6h0M70.7 238.7h0M104.4 128.1h0M213.7 137.1h0M93.2 201.4h0M190.2 88.3h0M197.0 140.9h0M88.9 76.1h0M226.1 144.4h0M50.2 212.1h0M117.6 115.4h0M200.0 122.2h0M125.6 212.8h0M103.3 124.4h0M154.4 201.8h0M114.6 123.1h0M82.4 80.7h0M74.1 137.2h0M237.2 145.2h0M110.5 125.6h0M90.9 83.6h0M85.3 127.8h0M118.7 112.2h0M84.6 215.8h0M159.3 168.0h0M85.6 114.6h0M93.4 96.0h0M161.8 192.3h0M234.9 140.9h0M173.3 162.5h0M58.5 206.2h0M169.4 78.6h0M205.6 101.3h0M113.6 126.4h0M94.8 118.5h0M88.2 72.4h0M121.3 209.0h0M184.5 78.1h0M72.1 227.1h0M211.3 129.1h0M93.8 202.7h0"/><path stroke="#5c5f86" d="M141.4 187.3h0M84.6 221.9h0M178.5 167.7h0M211.3 124.3h0M153.3 184.1h0M75.9 224.6h0M143.4 189.3h0M66.6 231.7h0M88.5 65.8h0M159.9 166.4h0M232.7 142.0h0M145.1 197.6h0M112.8 216.8h0M199.0 152.1h0M127.9 211.5h0M74.0 223.3h0M100.6 207.4h0M173.3 173.5h0M197.5 83.6h0M83.5 206.3h0M97.0 100.0h0M199.5 118.9h0M201.8 118.8h0M163.9 175.9h0M228.2 140.5h0M205.3 123.9h0M103.6 223.0h0M102.7 207.6h0M59.6 202.8h0M86.8 239.3h0M195.1 156.0h0M233.0 137.0h0M95.0 202.9h0M197.3 151.3h0M197.0 118.3h0M182.4 68.8h0M161.5 171.0h0M90.0 97.2h0M55.0 208.4h0M90.0 130.5h0M109.1 114.3h0M55.9 201.8h0M197.7 124.5h0M160.4 192.4h0M94.3 81.5h0M198.0 127.0h0M91.0 212.3h0M62.0 198.7h0M83.1 90.0h0M53.0 202.6h0M207.7 136.7h0M89.9 121.8h0M85.3 90.7h0M111.4 113.2h0M74.9 228.8h0M162.7 195.8h0M180.4 79.5h0M103.0 217.6h0M76.4 198.2h0M95.5 112.4h0M71.1 201.7h0M195.1 123.6h0M81.7 80.5h0M70.2 232.2h0M201.3 128.7h0M105.6 130.0h0M197.9 158.5h0M118.9 110.9h0M79.4 68.3h0M103.8 236.3h0M89.5 74.2h0M78.4 200.0h0M107.6 211.8h0M105.9 115.1h0M79.5 226.6h0M73.5 229.4h0"/><path stroke="#73607f" d="M70.3 202.9h0M200.9 126.3h0M200.8 160.8h0M114.0 114.7h0M197.0 83.9h0M121.6 111.8h0M192.3 93.4h0M106.4 127.9h0M85.3 123.2h0M100.9 125.1h0M125.8 215.5h0M96.1 121.7h0M68.9 197.7h0M82.4 109.0h0M211.9 129.1h0M195.0 130.5h0M119.0 213.4h0M152.0 187.4h0M88.0 75.9h0M65.9 199.7h0M96.3 211.2h0M74.7 220.4h0M175.8 75.7h0M207.4 110.3h0M87.7 76.6h0M149.7 195.5h0M88.2 96.3h0M95.8 207.7h0M118.7 215.7h0M90.1 111.6h0M198.1 110.5h0M95.1 124.4h0M109.6 217.7h0M207.7 123.9h0M208.2 124.3h0M78.3 81.0h0M225.3 148.3h0M110.0 128.1h0M144.9 195.6h0M120.7 117.3h0M174.2 168.3h0M89.5 129.0h0M74.3 225.9h0M112.7 214.6h0M75.0 200.1h0M105.3 215.0h0M104.3 116.8h0M91.0 107.8h0"/><path stroke="#8a6178" d="M82.8 121.2h0M104.8 124.6h0M93.2 118.8h0M113.4 225.5h0M195.8 148.0h0M101.0 213.3h0M55.7 200.9h0M207.0 145.8h0M163.6 173.3h0M217.3 139.7h0M97.8 124.4h0M85.4 206.6h0M203.1 126.4h0M71.2 252.4h0M214.6 132.3h0M103.1 239.0h0M86.2 122.8h0M100.7 129.9h0M198.3 142.3h0M199.5 132.5h0M104.9 222.8h0M198.4 119.9h0M151.4 195.3h0M107.3 117.3h0M172.8 89.4h0M195.8 156.4h0M103.9 221.2h0M94.4 66.2h0"/><path stroke="#996273" d="M163.1 173.9h0M87.5 218.8h0M85.4 221.7h0M195.4 81.8h0M189.4 84.8h0M102.0 104.7h0M93.4 68.2h0M114.1 113.2h0M95.0 215.1h0M157.5 170.4h0M229.5 139.6h0M110.6 218.5h0M98.0 128.5h0M165.0 172.1h0M102.9 113.9h0M73.9 81.1h0M105.5 101.6h0M84.8 223.1h0"/><path stroke="#a8626e" d="M80.4 88.1h0M83.1 226.8h0M105.8 224.4h0M96.0 212.9h0M113.6 220.6h0M155.4 200.3h0M68.3 227.2h0M78.5 236.5h0M85.5 257.1h0M66.2 201.4h0M75.6 226.8h0M51.9 201.5h0M213.7 123.8h0M209.1 123.8h0M100.7 229.7h0M67.6 232.7h0M199.0 126.1h0"/><path stroke="#ba6869" d="M103.5 220.0h0M209.1 119.5h0M96.4 215.5h0M105.1 210.7h0M198.6 160.6h0M65.7 236.3h0M69.5 232.3h0M96.5 216.4h0M105.5 211.5h0M115.4 219.4h0"/><path stroke="#cc6e64" d="M69.3 231.0h0M95.0 225.5h0M78.0 257.6h0M107.3 242.6h0M201.5 119.4h0M114.6 223.1h0M57.7 202.4h0M212.4 142.1h0M202.9 119.8h0M115.8 210.0h0"/><path stroke="#d77a67" d="M112.0 212.1h0M198.7 124.6h0M106.5 218.3h0M53.4 203.4h0"/><path stroke="#e2856a" d="M98.4 211.6h0M90.9 201.1h0"/><path stroke="#e59978" d="M103.0 205.7h0M104.5 224.4h0M105.0 238.4h0M89.5 202.7h0"/><path stroke="#f9efd3" d="M164.5 171.0h0M84.4 200.6h0M101.7 209.2h0M105.5 220.6h0M114.7 225.9h0M98.6 201.1h0M173.5 172.9h0"/></g><path d="M54 15.3L49.2 29.5L54 25.2Z" fill="#111"/><path d="M54 15.3L59.2 29.5L54 25.2Z" fill="#fff" stroke="#111" stroke-width="0.75" stroke-linejoin="round"/><text x="53.5" y="35.3" font-family="Liberation Sans, sans-serif" font-weight="bold" font-size="6.9" text-anchor="middle" fill="#111" stroke="#111" stroke-width="0.25">N</text><path d="M68.5 25H116.5M68.5 22.2V27.8M116.5 22.2V27.8" stroke="#1e1e1e" stroke-width="1.1" fill="none"/><text x="92.2" y="23" font-family="Liberation Sans, sans-serif" font-size="5.5" text-anchor="middle" fill="#222" stroke="#222" stroke-width="0.1">500 km</text>
<rect x="41.6" y="5.6" width="207.75" height="264.6" fill="none" stroke="#151515" stroke-width="0.95"/>
</svg></body></html>
